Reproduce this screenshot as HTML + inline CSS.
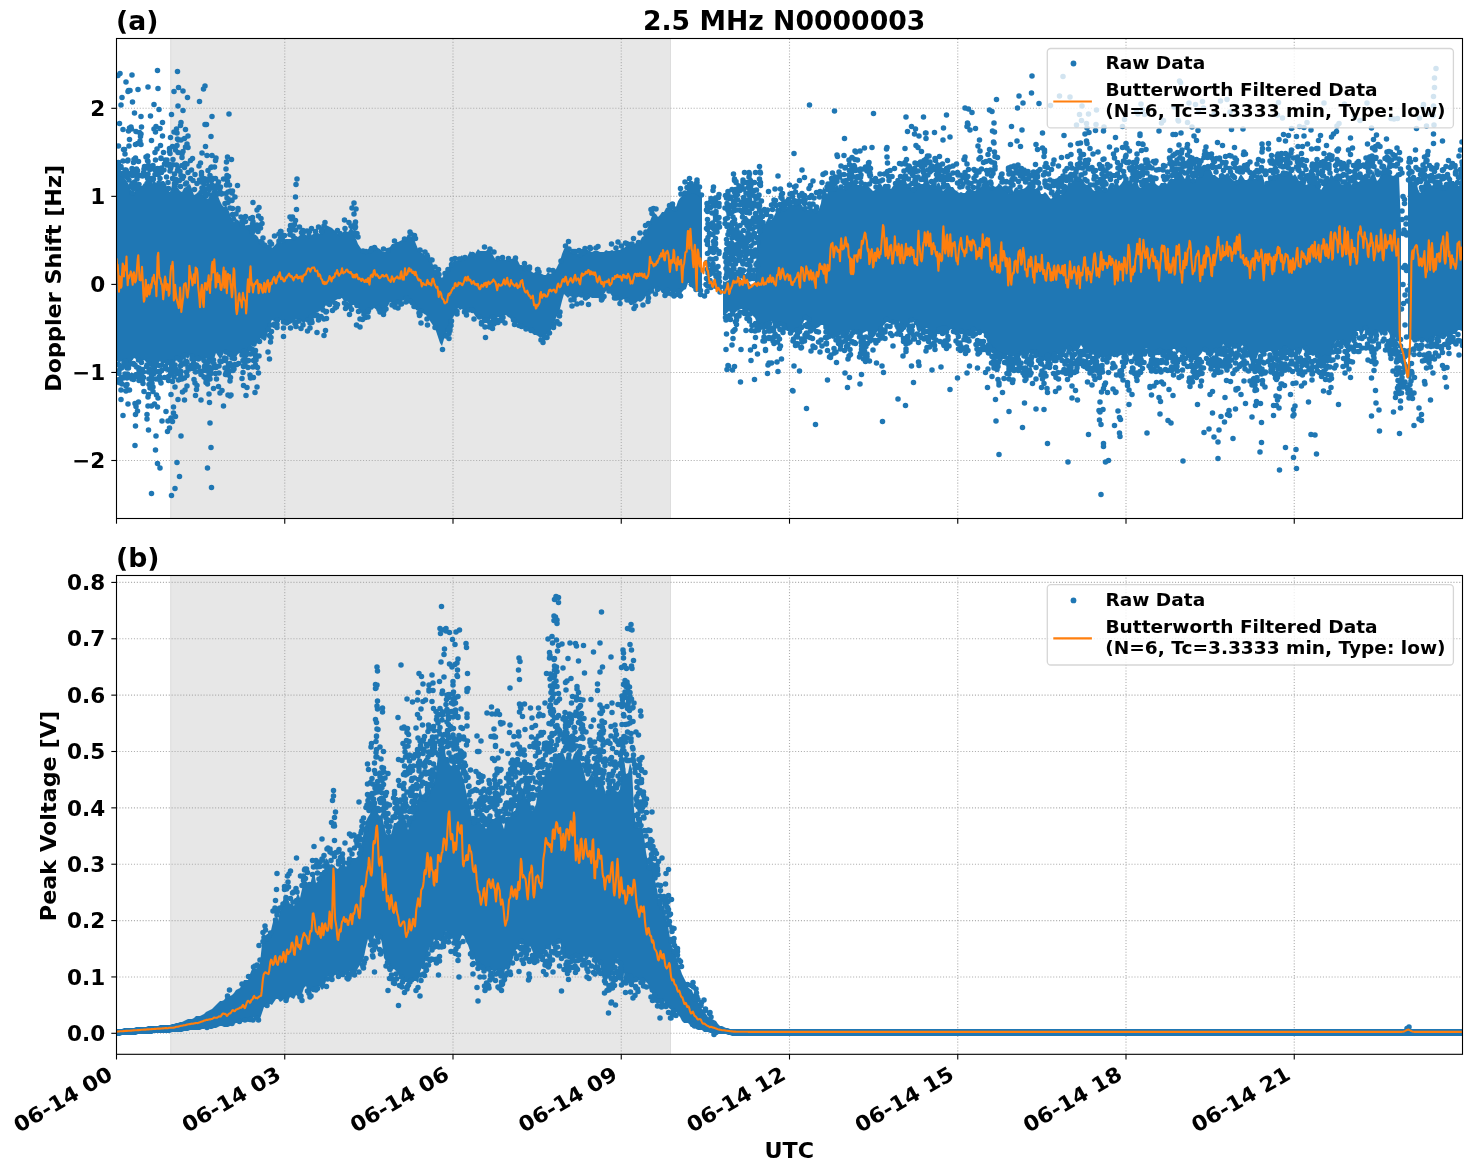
<!DOCTYPE html><html><head><meta charset="utf-8"><title>2.5 MHz N0000003</title><style>html,body{margin:0;padding:0;background:#fff}svg{display:block}</style></head><body><svg width="1471" height="1172" viewBox="0 0 1471 1172"><defs><clipPath id="ca"><rect x="116.5" y="38.5" width="1346.0" height="480.0"/></clipPath><clipPath id="cb"><rect x="116.5" y="575.5" width="1346.0" height="478.8"/></clipPath></defs><rect width="1471" height="1172" fill="#fff"/><rect x="170.3" y="38.5" width="500.7" height="480.0" fill="#e7e7e7"/><path d="M170.8 38.5V518.5M670.5 38.5V518.5" stroke="#dddddd" stroke-width="1" fill="none"/><g stroke="#b0b0b0" stroke-width="1.1" stroke-dasharray="1.1 1.8" fill="none"><path d="M284.75 518.5V38.5"/><path d="M453.00 518.5V38.5"/><path d="M621.25 518.5V38.5"/><path d="M789.50 518.5V38.5"/><path d="M957.75 518.5V38.5"/><path d="M1126.00 518.5V38.5"/><path d="M1294.25 518.5V38.5"/><path d="M116.5 460.50H1462.5"/><path d="M116.5 372.45H1462.5"/><path d="M116.5 284.40H1462.5"/><path d="M116.5 196.35H1462.5"/><path d="M116.5 108.30H1462.5"/></g><rect x="170.3" y="575.5" width="500.7" height="478.8" fill="#e7e7e7"/><path d="M170.8 575.5V1054.3M670.5 575.5V1054.3" stroke="#dddddd" stroke-width="1" fill="none"/><g stroke="#b0b0b0" stroke-width="1.1" stroke-dasharray="1.1 1.8" fill="none"><path d="M284.75 1054.3V575.5"/><path d="M453.00 1054.3V575.5"/><path d="M621.25 1054.3V575.5"/><path d="M789.50 1054.3V575.5"/><path d="M957.75 1054.3V575.5"/><path d="M1126.00 1054.3V575.5"/><path d="M1294.25 1054.3V575.5"/><path d="M116.5 1033.30H1462.5"/><path d="M116.5 976.94H1462.5"/><path d="M116.5 920.58H1462.5"/><path d="M116.5 864.22H1462.5"/><path d="M116.5 807.86H1462.5"/><path d="M116.5 751.50H1462.5"/><path d="M116.5 695.14H1462.5"/><path d="M116.5 638.78H1462.5"/><path d="M116.5 582.42H1462.5"/></g><g clip-path="url(#ca)"><path d="M116 175 118 173 120 172 122 174 124 177 126 180 128 183 130 188 132 192 134 194 136 187 138 187 140 186 142 186 144 183 146 185 148 183 150 184 152 184 154 179 156 183 158 183 160 182 162 181 164 181 166 184 168 190 170 192 172 185 174 184 176 187 178 188 180 191 182 192 184 188 186 187 188 185 190 184 192 189 194 195 196 194 198 192 200 193 202 194 204 195 206 198 208 199 210 195 212 191 214 188 216 190 218 196 220 201 222 205 224 207 226 205 228 209 230 214 232 220 234 222 236 219 238 220 240 222 242 227 244 227 246 225 248 226 250 228 252 230 254 234 256 235 258 237 260 242 262 243 264 245 266 246 268 246 270 246 272 248 274 246 276 244 278 239 280 240 282 243 284 240 286 239 288 239 290 239 292 239 294 237 296 236 298 237 300 235 302 233 304 233 306 235 308 237 310 236 312 235 314 233 316 232 318 233 320 234 322 232 324 229 326 225 328 226 330 227 332 228 334 230 336 231 338 234 340 235 342 233 344 231 346 231 348 232 350 229 352 228 354 233 356 239 358 244 360 247 362 250 364 252 366 252 368 252 370 250 372 248 374 247 376 246 378 248 380 249 382 251 384 252 386 252 388 248 390 247 392 244 394 244 396 242 398 242 400 241 402 240 404 240 406 238 408 234 410 236 412 237 414 239 416 244 418 249 420 251 422 253 424 254 426 257 428 256 430 258 432 262 434 268 436 273 438 274 440 276 442 278 444 275 446 272 448 268 450 265 452 263 454 261 456 261 458 261 460 257 462 255 464 259 466 259 468 255 470 251 472 254 474 256 476 252 478 249 480 251 482 251 484 251 486 251 488 249 490 248 492 253 494 257 496 260 498 260 500 260 502 260 504 259 506 260 508 260 510 259 512 259 514 257 516 257 518 261 520 265 522 265 524 266 526 268 528 270 530 270 532 272 534 273 536 271 538 272 540 274 542 274 544 275 546 275 548 272 550 274 552 273 554 271 556 269 558 265 560 261 562 254 564 249 566 247 568 247 570 251 572 252 574 251 576 250 578 254 580 256 582 253 584 250 586 250 588 250 590 251 592 252 594 251 596 251 598 251 600 252 602 252 604 252 606 250 608 251 610 251 612 250 614 251 616 250 618 250 620 250 622 248 624 248 626 246 628 244 630 244 632 246 634 244 636 243 638 244 640 241 642 237 644 236 646 232 648 227 650 221 652 216 654 213 656 214 658 217 660 215 662 212 664 212 666 208 668 207 670 207 672 209 674 211 676 207 678 201 680 198 682 196 684 194 686 192 688 189 690 193 692 193 694 190 696 190 698 191 700 194 702 194 702 293 700 291 698 290 696 287 694 289 692 288 690 283 688 283 686 289 684 290 682 292 680 296 678 292 676 292 674 295 672 293 670 291 668 292 666 291 664 293 662 293 660 290 658 288 656 288 654 289 652 291 650 291 648 293 646 296 644 299 642 301 640 302 638 301 636 303 634 304 632 305 630 305 628 302 626 300 624 299 622 300 620 302 618 300 616 298 614 297 612 296 610 293 608 290 606 291 604 294 602 296 600 299 598 298 596 298 594 298 592 298 590 297 588 296 586 297 584 297 582 297 580 296 578 297 576 298 574 300 572 297 570 296 568 298 566 296 564 294 562 301 560 309 558 314 556 318 554 323 552 328 550 332 548 334 546 335 544 336 542 337 540 338 538 336 536 335 534 335 532 333 530 329 528 329 526 328 524 327 522 325 520 325 518 323 516 323 514 323 512 321 510 318 508 317 506 315 504 316 502 319 500 318 498 317 496 319 494 319 492 317 490 319 488 319 486 321 484 322 482 319 480 318 478 318 476 317 474 314 472 311 470 310 468 311 466 312 464 312 462 309 460 310 458 308 456 313 454 316 452 319 450 325 448 330 446 334 444 339 442 346 440 343 438 337 436 331 434 327 432 324 430 321 428 318 426 315 424 314 422 312 420 311 418 311 416 310 414 307 412 303 410 300 408 300 406 299 404 300 402 301 400 302 398 304 396 306 394 307 392 303 390 302 388 306 386 308 384 310 382 310 380 310 378 309 376 309 374 308 372 310 370 309 368 312 366 315 364 316 362 314 360 311 358 308 356 306 354 305 352 305 350 305 348 302 346 301 344 301 342 298 340 298 338 299 336 300 334 302 332 305 330 305 328 304 326 304 324 309 322 309 320 311 318 312 316 313 314 314 312 318 310 318 308 318 306 321 304 324 302 322 300 320 298 320 296 319 294 322 292 323 290 324 288 325 286 325 284 323 282 321 280 320 278 320 276 322 274 321 272 320 270 324 268 331 266 340 264 341 262 337 260 339 258 343 256 344 254 343 252 345 250 350 248 355 246 353 244 351 242 354 240 353 238 354 236 357 234 359 232 355 230 355 228 357 226 354 224 352 222 357 220 359 218 356 216 353 214 359 212 362 210 362 208 362 206 358 204 361 202 361 200 358 198 356 196 361 194 360 192 356 190 355 188 359 186 357 184 355 182 361 180 361 178 358 176 360 174 366 172 365 170 361 168 362 166 363 164 363 162 365 160 361 158 364 156 373 154 372 152 369 150 366 148 363 146 362 144 360 142 362 140 363 138 361 136 359 134 358 132 361 130 370 128 368 126 362 124 362 122 361 120 362 118 362 116 360ZM723 281 725 282 727 281 729 280 731 278 733 278 735 277 737 277 739 279 741 279 743 283 745 283 747 281 749 282 751 285 753 286 755 282 757 245 759 226 761 223 763 223 765 224 767 220 769 216 771 220 773 218 775 214 777 210 779 207 781 206 783 206 785 210 787 207 789 205 791 205 793 205 795 203 797 204 799 204 801 204 803 207 805 208 807 210 809 209 811 207 813 209 815 212 817 212 819 209 821 203 823 187 825 189 827 194 829 190 831 191 833 191 835 187 837 184 839 188 841 187 843 189 845 189 847 186 849 183 851 179 853 179 855 183 857 185 859 185 861 183 863 186 865 184 867 182 869 187 871 189 873 191 875 190 877 186 879 183 881 184 883 187 885 186 887 187 889 187 891 189 893 186 895 184 897 182 899 180 901 180 903 177 905 177 907 184 909 187 911 188 913 190 915 189 917 186 919 184 921 184 923 184 925 179 927 175 929 182 931 188 933 189 935 188 937 184 939 182 941 187 943 191 945 189 947 183 949 183 951 187 953 187 955 190 957 191 959 193 961 192 963 193 965 193 967 190 969 188 971 189 973 190 975 191 977 189 979 188 981 187 983 181 985 177 987 178 989 184 991 189 993 186 995 187 997 186 999 183 1001 185 1003 187 1005 189 1007 190 1009 194 1011 193 1013 192 1015 188 1017 187 1019 190 1021 189 1023 189 1025 188 1027 186 1029 185 1031 186 1033 187 1035 189 1037 188 1039 188 1041 194 1043 194 1045 192 1047 194 1049 197 1051 199 1053 197 1055 192 1057 189 1059 193 1061 195 1063 192 1065 191 1067 186 1069 181 1071 183 1073 181 1075 176 1077 179 1079 180 1081 178 1083 180 1085 184 1087 185 1089 184 1091 187 1093 190 1095 191 1097 189 1099 188 1101 187 1103 190 1105 190 1107 190 1109 185 1111 186 1113 188 1115 183 1117 181 1119 186 1121 184 1123 181 1125 178 1127 179 1129 184 1131 184 1133 183 1135 179 1137 181 1139 187 1141 188 1143 185 1145 178 1147 178 1149 183 1151 182 1153 183 1155 183 1157 185 1159 186 1161 183 1163 183 1165 182 1167 184 1169 180 1171 178 1173 179 1175 179 1177 174 1179 170 1181 171 1183 176 1185 179 1187 173 1189 172 1191 179 1193 182 1195 180 1197 175 1199 177 1201 175 1203 170 1205 167 1207 165 1209 168 1211 170 1213 175 1215 175 1217 177 1219 178 1221 173 1223 173 1225 175 1227 173 1229 174 1231 178 1233 180 1235 181 1237 182 1239 177 1241 174 1243 177 1245 180 1247 180 1249 178 1251 178 1253 179 1255 179 1257 178 1259 177 1261 174 1263 176 1265 185 1267 184 1269 178 1271 177 1273 179 1275 175 1277 174 1279 174 1281 173 1283 175 1285 174 1287 172 1289 171 1291 171 1293 176 1295 174 1297 177 1299 181 1301 180 1303 180 1305 184 1307 185 1309 181 1311 182 1313 181 1315 184 1317 185 1319 186 1321 190 1323 187 1325 181 1327 181 1329 179 1331 174 1333 176 1335 180 1337 179 1339 180 1341 184 1343 185 1345 183 1347 182 1349 181 1351 184 1353 187 1355 185 1357 182 1359 182 1361 179 1363 176 1365 177 1367 177 1369 179 1371 176 1373 170 1375 175 1377 181 1379 179 1381 174 1383 172 1385 170 1387 169 1389 173 1391 175 1393 176 1395 175 1397 172 1399 175 1401 226 1401 349 1399 340 1397 342 1395 337 1393 338 1391 339 1389 333 1387 331 1385 332 1383 334 1381 336 1379 332 1377 331 1375 332 1373 338 1371 341 1369 337 1367 333 1365 328 1363 333 1361 338 1359 331 1357 331 1355 334 1353 338 1351 342 1349 347 1347 348 1345 348 1343 344 1341 342 1339 340 1337 340 1335 342 1333 351 1331 357 1329 356 1327 360 1325 360 1323 359 1321 361 1319 359 1317 355 1315 355 1313 356 1311 355 1309 355 1307 350 1305 348 1303 348 1301 353 1299 356 1297 351 1295 350 1293 352 1291 351 1289 352 1287 348 1285 348 1283 351 1281 352 1279 350 1277 356 1275 358 1273 355 1271 351 1269 351 1267 352 1265 352 1263 356 1261 354 1259 352 1257 357 1255 365 1253 362 1251 362 1249 357 1247 350 1245 345 1243 344 1241 347 1239 348 1237 346 1235 348 1233 344 1231 348 1229 349 1227 348 1225 346 1223 344 1221 352 1219 351 1217 349 1215 350 1213 355 1211 357 1209 357 1207 352 1205 350 1203 351 1201 354 1199 356 1197 361 1195 360 1193 357 1191 358 1189 358 1187 358 1185 354 1183 349 1181 353 1179 352 1177 354 1175 349 1173 349 1171 353 1169 350 1167 353 1165 351 1163 350 1161 351 1159 350 1157 350 1155 354 1153 355 1151 354 1149 352 1147 348 1145 349 1143 357 1141 360 1139 359 1137 359 1135 360 1133 354 1131 351 1129 351 1127 355 1125 358 1123 355 1121 355 1119 356 1117 358 1115 355 1113 355 1111 357 1109 358 1107 359 1105 357 1103 359 1101 357 1099 359 1097 356 1095 357 1093 354 1091 357 1089 355 1087 349 1085 349 1083 348 1081 345 1079 349 1077 353 1075 351 1073 353 1071 351 1069 349 1067 349 1065 353 1063 357 1061 358 1059 357 1057 354 1055 352 1053 356 1051 358 1049 357 1047 357 1045 357 1043 359 1041 357 1039 359 1037 356 1035 354 1033 352 1031 351 1029 354 1027 359 1025 355 1023 352 1021 356 1019 355 1017 356 1015 358 1013 356 1011 358 1009 357 1007 355 1005 356 1003 359 1001 361 999 353 997 351 995 352 993 353 991 347 989 347 987 341 985 335 983 333 981 333 979 333 977 332 975 330 973 330 971 332 969 334 967 334 965 335 963 335 961 332 959 333 957 335 955 332 953 329 951 329 949 331 947 331 945 328 943 328 941 327 939 329 937 334 935 336 933 334 931 333 929 331 927 328 925 329 923 331 921 331 919 333 917 330 915 321 913 320 911 322 909 324 907 327 905 328 903 327 901 325 899 321 897 321 895 323 893 323 891 323 889 323 887 321 885 324 883 326 881 331 879 330 877 332 875 336 873 333 871 333 869 333 867 331 865 332 863 333 861 339 859 336 857 332 855 334 853 332 851 330 849 334 847 337 845 338 843 334 841 333 839 337 837 337 835 338 833 339 831 338 829 338 827 335 825 329 823 325 821 325 819 327 817 328 815 328 813 329 811 331 809 324 807 319 805 319 803 323 801 327 799 328 797 329 795 332 793 333 791 331 789 331 787 331 785 329 783 325 781 322 779 323 777 324 775 324 773 324 771 321 769 323 767 325 765 326 763 327 761 325 759 325 757 323 755 318 753 316 751 314 749 311 747 310 745 311 743 309 741 309 739 310 737 311 735 313 733 314 731 313 729 311 727 313 725 315 723 315ZM1408 173 1410 175 1412 181 1414 184 1416 180 1418 189 1420 193 1422 191 1424 182 1426 177 1428 181 1430 183 1432 186 1434 183 1436 184 1438 187 1440 188 1442 188 1444 187 1446 187 1448 181 1450 180 1452 181 1454 181 1456 185 1458 186 1460 185 1462 178 1462 331 1460 330 1458 330 1456 334 1454 334 1452 334 1450 335 1448 335 1446 337 1444 338 1442 337 1440 337 1438 336 1436 336 1434 339 1432 338 1430 339 1428 344 1426 342 1424 340 1422 340 1420 340 1418 342 1416 339 1414 342 1412 340 1410 339 1408 336Z" fill="#1f77b4"/><path transform="scale(.5)" d="m234 334h0m1 395h0m1-578h0m0 191h0m1-50h0m0 33h0m0 9h0m0 12h0m0 383h0m1 12h0m0 6h0m0 12h0m0 6h0m1-518h0m0 484h0m1-584h0m1 617h0m1-554h0m0 123h0m0 2h0m0 12h0m0 433h0m0 19h0m1-63h0m0 19h0m0 12h0m1-572h0m0 573h0m2-509h0m0 63h0m0 509h0m1-532h0m0 457h0m1-32h0m0 7h0m1-432h0m0 52h0m1-43h0m0 32h0m0 8h0m0 400h0m1-26h0m1-558h0m0 176h0m0 413h0m0 19h0m0 10h0m1-440h0m1 394h0m0 20h0m0 13h0m1-447h0m0 33h0m0 393h0m1-565h0m0 137h0m0 410h0m0 78h0m1-627h0m0 81h0m0 474h0m1-444h0m0 68h0m1-104h0m0 23h0m0 501h0m1-599h0m0 166h0m2-93h0m0 117h0m1-113h0m0 116h0m1-224h0m0 187h0m0 414h0m0 4h0m0 3h0m1-554h0m0 147h0m0 16h0m0 19h0m0 342h0m1-387h0m1-16h0m0 52h0m0 350h0m0 31h0m0 1h0m1-440h0m0 30h0m1-123h0m0 138h0m1 366h0m0 77h0m0 84h0m1-602h0m0 27h0m0 53h0m0 460h0m0 23h0m1-589h0m0 550h0m1-475h0m0 396h0m0 15h0m1-391h0m0 18h0m1-89h0m0 54h0m0 412h0m0 69h0m1-643h0m0 170h0m0 24h0m1-50h0m0 29h0m0 368h0m0 84h0m1-435h0m0 367h0m0 5h0m0 20h0m1-496h0m1 17h0m1-9h0m1-40h0m0 35h0m0 21h0m0 464h0m1-499h0m0 97h0m0 374h0m0 18h0m0 4h0m2-395h0m0 387h0m0 21h0m1 7h0m1-422h0m0 5h0m0 394h0m0 11h0m1-417h0m0 445h0m1-450h0m3-19h0m1 22h0m0 397h0m1-366h0m0 363h0m0 99h0m0 9h0m1-526h0m0 9h0m0 35h0m1-182h0m0 149h0m0 11h0m0 14h0m0 10h0m0 436h0m0 18h0m1-480h0m0 412h0m0 45h0m0 71h0m1-133h0m0 10h0m0 21h0m0 11h0m2-437h0m0 7h0m0 27h0m0 410h0m1-544h0m0 129h0m1 380h0m0 15h0m1-475h0m0 76h0m0 395h0m0 8h0m0 52h0m0 175h0m1-237h0m0 17h0m1-430h0m1-6h0m0 443h0m0 9h0m1-425h0m1-149h0m0 49h0m0 489h0m1 61h0m1-503h0m0 35h0m0 9h0m1-85h0m0 56h0m0 580h0m1-647h0m0 505h0m0 114h0m1-527h0m0 445h0m1-492h0m1-157h0m0 196h0m0 12h0m0 465h0m0 113h0m1-750h0m0 566h0m0 53h0m1-448h0m1-129h0m0 147h0m0 365h0m1 22h0m1-496h0m0 100h0m0 387h0m0 17h0m0 175h0m1-645h0m0 51h0m1-26h0m0 1h0m0 449h0m1-430h0m0 9h0m0 396h0m1-11h0m0 112h0m1-597h0m0 27h0m2 33h0m1 35h0m1-12h0m0 427h0m2-435h0m0 413h0m1 90h0m1-499h0m0 30h0m0 384h0m1-418h0m0 10h0m1 395h0m0 138h0m1-498h0m0 477h0m1-465h0m0 376h0m0 8h0m1-21h0m1-443h0m0 6h0m0 553h0m1-549h0m0 22h0m0 13h0m1-67h0m0 62h0m0 410h0m1-413h0m0 404h0m0 51h0m0 47h0m1-607h0m0 502h0m0 260h0m1-267h0m1-431h0m0 64h0m0 388h0m0 18h0m0 80h0m1-524h0m0 10h0m1 485h0m0 12h0m1-643h0m0 81h0m0 490h0m1-406h0m0 19h0m1 6h0m0 357h0m0 44h0m0 203h0m1-677h0m0 438h0m0 95h0m1-474h0m0 7h0m1-108h0m0 72h0m1-64h0m0 25h0m0 425h0m0 209h0m1-782h0m0 135h0m0 63h0m0 406h0m1-535h0m0 93h0m0 32h0m0 462h0m1-624h0m0 105h0m0 462h0m0 18h0m2-399h0m0 398h0m0 194h0m1-610h0m0 377h0m1-469h0m0 122h0m0 359h0m0 18h0m1-505h0m0 35h0m0 71h0m0 392h0m0 129h0m1-143h0m1-421h0m0 7h0m0 16h0m0 427h0m1-401h0m0 427h0m1-602h0m0 39h0m0 82h0m1 50h0m0 361h0m1-3h0m0 17h0m1-451h0m0 51h0m0 7h0m0 421h0m0 44h0m1-473h0m0 383h0m0 15h0m0 55h0m1-521h0m0 35h0m0 74h0m2-2h0m0 357h0m0 21h0m1-456h0m0 40h0m0 397h0m0 26h0m0 21h0m1-577h0m1 77h0m0 23h0m0 50h0m0 390h0m3 3h0m2-417h0m0 36h0m2-17h0m0 391h0m1-19h0m0 6h0m0 15h0m1-416h0m1 44h0m1 365h0m1-8h0m0 20h0m0 21h0m1-380h0m1-30h0m0 417h0m1-22h0m0 47h0m2-61h0m0 49h0m1-412h0m0 404h0m1-55h0m2 2h0m0 16h0m1-402h0m1-129h0m0 157h0m1 383h0m1-417h0m1 59h0m0 364h0m0 51h0m1-455h0m0 5h0m0 14h0m1-58h0m0 70h0m3-198h0m0 563h0m1-384h0m0 11h0m0 353h0m0 33h0m1-369h0m0 348h0m1-561h0m0 77h0m0 482h0m1-438h0m0 65h0m0 20h0m0 379h0m1-365h0m0 349h0m0 24h0m1-516h0m0 480h0m1-418h0m0 444h0m0 8h0m1-401h0m0 406h0m0 168h0m1-595h0m0 19h0m1 28h0m0 335h0m0 10h0m1-361h0m0 367h0m0 10h0m0 9h0m0 30h0m1-415h0m0 6h0m0 376h0m0 50h0m1-454h0m0 407h0m0 88h0m1-103h0m1-470h0m0 62h0m0 40h0m0 361h0m0 11h0m0 148h0m1-561h0m0 27h0m0 614h0m1-742h0m0 78h0m0 59h0m1 366h0m1-12h0m1-367h0m0 363h0m0 57h0m1-49h0m1-394h0m1 46h0m1-59h0m0 36h0m0 390h0m1-431h0m0 56h0m0 363h0m1 23h0m3-389h0m1-5h0m0 23h0m0 386h0m1-41h0m0 14h0m2-370h0m0 8h0m0 338h0m0 64h0m1-412h0m2 14h0m0 0h0m0 335h0m1-336h0m0 394h0m3-423h0m0 454h0m2-96h0m1-309h0m0 329h0m1-15h0m0 28h0m1-411h0m0 49h0m0 317h0m0 13h0m0 29h0m1-422h0m0 46h0m1-19h0m0 45h0m1-82h0m0 48h0m0 377h0m1-355h0m0 21h0m0 385h0m1-437h0m0 375h0m0 3h0m0 19h0m1-522h0m0 515h0m1-373h0m1 30h0m0 16h0m0 311h0m0 5h0m0 30h0m0 30h0m1-410h0m0 327h0m0 46h0m1 35h0m1-471h0m1 67h0m0 15h0m0 315h0m1-334h0m0 35h0m0 12h0m1 312h0m1-303h0m1 279h0m0 21h0m1-21h0m1-323h0m0 335h0m2-301h0m2 301h0m1-358h0m1 46h0m0 3h0m1 307h0m5-293h0m2 9h0m0 267h0m0 47h0m1-306h0m1 270h0m0 24h0m1-302h0m0 288h0m0 2h0m0 38h0m1-69h0m2 13h0m0 16h0m1-298h0m0 10h0m1 348h0m1-82h0m1 66h0m1-53h0m1 13h0m1-14h0m1-266h0m2 295h0m1-313h0m0 260h0m0 11h0m0 48h0m2-301h0m2-20h0m0 13h0m0 16h0m0 235h0m1-294h0m0 38h0m0 291h0m1-13h0m0 34h0m1-67h0m1-235h0m1-3h0m0 256h0m0 16h0m0 63h0m1-84h0m0 12h0m0 17h0m1-271h0m0 261h0m2-300h0m0 30h0m0 324h0m1-39h0m1-272h0m1-31h0m0 26h0m0 288h0m1-331h0m0 297h0m1-29h0m2-227h0m1-19h0m0 46h0m2-36h0m0 38h0m2-9h0m1 198h0m2-184h0m7 214h0m1-45h0m1-165h0m1 177h0m0 47h0m1-234h0m1 166h0m0 34h0m1-9h0m1-187h0m0 175h0m6-191h0m0 176h0m0 3h0m5-2h0m0 6h0m1-15h0m3-172h0m0 14h0m3-19h0m0 11h0m1-11h0m1 8h0m3 10h0m1 163h0m0 12h0m0 17h0m2-202h0m4 175h0m6-186h0m1-26h0m0 35h0m1-18h0m0 205h0m1-195h0m1-23h0m0 22h0m2-26h0m1 16h0m0 22h0m1-14h0m1 18h0m1-27h0m1 198h0m1-253h0m0 47h0m0 19h0m1-91h0m0 284h0m1-234h0m0 225h0m1-286h0m4 284h0m1-188h0m3 203h0m1-192h0m3-4h0m0 189h0m2-187h0m6-1h0m1 200h0m1-22h0m2-168h0m1-9h0m1 183h0m0 10h0m3-199h0m0 176h0m0 8h0m1 4h0m4-15h0m2 1h0m1-168h0m3 167h0m0 1h0m0 34h0m3-211h0m0 186h0m5-7h0m1-170h0m1-4h0m2 161h0m2-168h0m0 186h0m0 33h0m2-226h0m1 216h0m1-37h0m1-18h0m0 17h0m0 14h0m6-28h0m6 12h0m5-5h0m1-9h0m2 7h0m2-153h0m0 148h0m3-16h0m2-126h0m9-27h0m0 166h0m1-149h0m1 160h0m1-9h0m3 2h0m3-165h0m1 184h0m1-15h0m2-162h0m1 1h0m0 166h0m1-203h0m4-10h0m0 22h0m0 38h0m2-18h0m0 8h0m1-12h0m0 10h0m1-36h0m1 53h0m0 179h0m1-183h0m0 144h0m2-137h0m1 149h0m3 15h0m0 16h0m5-15h0m1-137h0m2 127h0m3 6h0m1-132h0m4 121h0m0 10h0m1-13h0m4-120h0m2-4h0m6-2h0m7 120h0m2 4h0m2 5h0m7-126h0m0 131h0m2-8h0m3-3h0m4-117h0m8 109h0m5-128h0m1 132h0m6-10h0m0 12h0m6-9h0m1 1h0m6-130h0m3 126h0m1-8h0m7-132h0m0 138h0m2-134h0m3 138h0m3-129h0m0 136h0m1-142h0m0 142h0m2-136h0m7 149h0m1 5h0m1-131h0m0 129h0m2-7h0m0 24h0m8-142h0m4 6h0m0 128h0m1-125h0m0 137h0m7-130h0m2 0h0m6 14h0m0 121h0m2-110h0m5-6h0m1 10h0m7 150h0m5-152h0m2 125h0m4-133h0m1 121h0m1 7h0m0 10h0m2-22h0m0 6h0m2-10h0m1-122h0m0 113h0m1-123h0m6-2h0m4 106h0m0 5h0m5-110h0m10 106h0m1-109h0m3 115h0m4-10h0m8-111h0m0 112h0m3 17h0m11-4h0m4 11h0m0 3h0m6-154h0m0 147h0m1 13h0m1 21h0m4-34h0m4 13h0m1-156h0m0 149h0m5-13h0m0 9h0m0 14h0m3-153h0m0 144h0m4-6h0m2-1h0m2-124h0m0 128h0m6-6h0m2-3h0m0 5h0m1-126h0m1 120h0m4 11h0m7-129h0m10 123h0m2 9h0m2-133h0m7 135h0m5 2h0m6-126h0m1 10h0m2 121h0m5-123h0m2-1h0m0 3h0m3 124h0m1-1h0m12-121h0m1 0h0m2 5h0m4 136h0m4 5h0m3-12h0m1 2h0m4 0h0m4-135h0m1 126h0m7-125h0m1 114h0m1-6h0m6-6h0m5-11h0m0 16h0m1-24h0m2-102h0m9-30h0m6-9h0m1 15h0m4 102h0m2 12h0m2-109h0m2 95h0m0 1h0m2-96h0m4 105h0m4-107h0m2 9h0m3 80h0m0 16h0m3-103h0m1 2h0m3-8h0m1 99h0m4-3h0m2 16h0m3-114h0m1 2h0m11-1h0m4-3h0m7 107h0m1-6h0m1 3h0m3-4h0m10-11h0m5-94h0m6 108h0m3-100h0m1 100h0m3-112h0m4 123h0m3-115h0m8-6h0m2 1h0m1 113h0m4-111h0m6-1h0m3-11h0m1 140h0m3-5h0m6-127h0m3-19h0m6 144h0m5-159h0m0 16h0m1-3h0m4 124h0m0 15h0m1-156h0m0 149h0m5-177h0m1 163h0m1-155h0m3-10h0m4 171h0m1-170h0m3 161h0m15 12h0m1-7h0m3 3h0m1-6h0m4-170h0m3 0h0m1 177h0m2-180h0m0 6h0m3 178h0m2-174h0m0 172h0m7-7h0m2 7h0m2-213h0m0 215h0m1-204h0m8-24h0m0 22h0m4-11h0m5-18h0m0 12h0m1 14h0m1-11h0m0 4h0m1-9h0m1 202h0m3-196h0m2 8h0m2-5h0m2 203h0m1-213h0m1-6h0m0 5h0m2 17h0m0 3h0m2 193h0m1-204h0m2 207h0m0 8h0m2-199h0m6 202h0m3-23h0m1-149h0m0 37h0m0 24h0m0 44h0m0 32h0m1-150h0m0 132h0m0 44h0m1-170h0m0 10h0m0 16h0m0 20h0m0 24h0m0 6h0m0 18h0m0 65h0m1-124h0m0 27h0m0 71h0m0 13h0m1-30h0m2-62h0m0 82h0m1-46h0m0 15h0m0 43h0m1-157h0m0 11h0m0 39h0m0 43h0m0 43h0m0 7h0m1-150h0m0 178h0m1-175h0m1 26h0m0 43h0m1-23h0m0 58h0m0 30h0m0 34h0m1-187h0m0 27h0m0 60h0m0 51h0m0 9h0m0 18h0m1-172h0m0 35h0m0 48h0m0 26h0m0 17h0m0 5h0m0 66h0m1-82h0m2-77h0m0 46h0m0 79h0m1-141h0m0 37h0m0 6h0m0 13h0m0 25h0m0 9h0m0 2h0m0 77h0m1-160h0m0 18h0m0 3h0m0 72h0m0 19h0m0 23h0m0 13h0m0 15h0m0 5h0m1-10h0m1-106h0m0 7h0m2 69h0m0 17h0m1-157h0m0 2h0m0 176h0m1-182h0m0 18h0m0 6h0m0 22h0m0 11h0m0 57h0m0 4h0m0 40h0m0 7h0m1-100h0m0 109h0m1 21h0m1-10h0m9-158h0m0 31h0m0 67h0m1-123h0m0 47h0m0 71h0m0 47h0m0 79h0m1-128h0m0 17h0m0 13h0m0 96h0m0 7h0m0 59h0m1-303h0m0 83h0m0 0h0m0 20h0m0 51h0m0 118h0m1-261h0m0 46h0m0 34h0m0 41h0m0 4h0m0 9h0m0 3h0m0 195h0m1-303h0m0 84h0m0 18h0m1-155h0m0 2h0m0 36h0m0 48h0m0 262h0m1-281h0m0 282h0m1-305h0m0 36h0m0 25h0m0 6h0m0 33h0m0 21h0m1-151h0m0 18h0m0 102h0m0 114h0m1-138h0m1-99h0m0 17h0m0 90h0m0 45h0m0 93h0m1-178h0m0 48h0m0 46h0m1-103h0m0 5h0m0 29h0m1-107h0m0 45h0m0 52h0m0 44h0m0 20h0m0 150h0m1-279h0m0 34h0m0 69h0m0 33h0m0 81h0m0 112h0m1-306h0m0 33h0m0 31h0m0 33h0m0 132h0m0 14h0m1-329h0m0 55h0m0 10h0m0 60h0m1 65h0m0 14h0m0 109h0m1-303h0m0 3h0m0 23h0m0 37h0m0 18h0m0 21h0m0 30h0m0 9h0m0 1h0m0 8h0m0 11h0m0 214h0m1-341h0m0 9h0m0 46h0m0 212h0m1-280h0m0 30h0m0 119h0m0 21h0m0 95h0m1-281h0m0 2h0m0 24h0m1 31h0m0 45h0m0 4h0m0 164h0m0 7h0m0 9h0m1-187h0m0 15h0m1-88h0m0 10h0m0 54h0m0 178h0m1-144h0m0 34h0m0 24h0m1-66h0m0 17h0m0 14h0m1-138h0m0 10h0m0 123h0m0 39h0m0 88h0m1-255h0m0 33h0m0 56h0m0 46h0m0 3h0m0 2h0m1-136h0m0 70h0m0 88h0m0 86h0m1-204h0m0 49h0m0 82h0m0 212h0m1-282h0m0 23h0m0 6h0m0 188h0m1-295h0m1-30h0m0 99h0m0 16h0m0 57h0m1-121h0m0 9h0m0 89h0m0 2h0m1-165h0m0 4h0m0 129h0m0 10h0m0 25h0m0 12h0m1-162h0m0 17h0m0 50h0m0 16h0m0 24h0m0 56h0m1-136h0m0 6h0m0 142h0m0 70h0m1-278h0m0 20h0m0 49h0m0 213h0m1-210h0m0 20h0m0 119h0m1-80h0m0 16h0m0 22h0m0 4h0m1-132h0m0 14h0m0 221h0m0 40h0m1-236h0m0 16h0m0 44h0m0 11h0m0 4h0m0 3h0m0 6h0m1-144h0m0 86h0m0 78h0m0 108h0m2-262h0m0 36h0m0 10h0m0 45h0m0 5h0m0 33h0m0 132h0m1-181h0m0 26h0m0 69h0m0 80h0m1-285h0m0 9h0m0 36h0m0 68h0m0 83h0m1-193h0m0 51h0m0 8h0m0 19h0m0 95h0m0 29h0m0 8h0m0 81h0m0 3h0m1-259h0m0 149h0m0 96h0m1-267h0m0 14h0m0 73h0m0 55h0m0 197h0m1-330h0m0 122h0m0 29h0m0 1h0m0 18h0m0 17h0m0 164h0m1-334h0m0 55h0m0 4h0m0 24h0m0 8h0m0 30h0m0 153h0m1-251h0m0 7h0m0 86h0m0 148h0m0 0h0m1-261h0m0 68h0m0 56h0m2-78h0m0 114h0m1-144h0m0 80h0m0 71h0m1-192h0m0 16h0m0 11h0m0 75h0m0 73h0m0 153h0m0 66h0m1-316h0m0 11h0m0 208h0m1-317h0m0 82h0m0 73h0m0 3h0m0 9h0m0 135h0m0 28h0m1-278h0m0 132h0m1-149h0m0 32h0m0 63h0m1 51h0m0 129h0m1-124h0m0 121h0m0 56h0m1-312h0m0 12h0m0 26h0m0 51h0m1-45h0m0 220h0m1-270h0m0 58h0m1-115h0m0 25h0m0 10h0m0 43h0m0 1h0m0 8h0m0 17h0m0 19h0m0 7h0m1-119h0m1 2h0m0 19h0m0 6h0m0 67h0m1-13h0m1-23h0m0 252h0m1-3h0m1-218h0m1 12h0m0 237h0m1-28h0m1 20h0m1-255h0m0 245h0m0 18h0m2 17h0m0 2h0m2-275h0m0 3h0m2-9h0m0 228h0m0 99h0m1-98h0m0 5h0m0 76h0m1-347h0m0 279h0m1-12h0m0 25h0m0 2h0m0 49h0m1-79h0m1 15h0m2-229h0m0 224h0m0 3h0m1-250h0m0 266h0m0 50h0m2-307h0m1 263h0m1-274h0m0 248h0m0 5h0m1-261h0m0 274h0m0 13h0m2-309h0m0 290h0m1-267h0m0 248h0m2-238h0m1 239h0m0 74h0m1-72h0m0 32h0m1-332h0m0 69h0m0 252h0m0 70h0m3-65h0m0 19h0m1-288h0m0 239h0m0 11h0m1-281h0m0 314h0m1-297h0m1-6h0m0 329h0m1-321h0m1-10h0m1 278h0m1-259h0m1 12h0m0 233h0m1 5h0m1-244h0m1-8h0m5-2h0m1-3h0m0 4h0m1 4h0m1-37h0m1 18h0m1 278h0m1-261h0m2-18h0m1 6h0m0 388h0m1-99h0m0 100h0m1-104h0m1-371h0m0 94h0m0 331h0m1-358h0m2 10h0m0 307h0m1-319h0m0 35h0m0 266h0m2-13h0m0 27h0m1-20h0m0 7h0m0 16h0m1-288h0m3-41h0m0 30h0m0 1h0m0 271h0m0 79h0m1-339h0m2 293h0m1-41h0m0 23h0m0 17h0m1-355h0m0 47h0m0 297h0m1-292h0m3 5h0m1-42h0m0 36h0m0 16h0m0 270h0m0 5h0m1-282h0m0 17h0m0 234h0m0 19h0m1-35h0m0 36h0m1 3h0m1-8h0m0 151h0m1-164h0m0 16h0m1-21h0m3-271h0m0 262h0m0 15h0m1-444h0m0 185h0m0 13h0m1 6h0m0 261h0m1-304h0m0 291h0m1 40h0m1-311h0m2 286h0m1-315h0m0 46h0m0 284h0m1-34h0m1-262h0m2 299h0m1-274h0m0 428h0m2-464h0m0 29h0m0 2h0m0 247h0m4 1h0m0 20h0m2-290h0m1-11h0m0 321h0m2-24h0m1-296h0m1-19h0m0 327h0m2-343h0m1-1h0m4-2h0m0 329h0m1-20h0m0 9h0m0 23h0m1-1h0m0 2h0m1-314h0m0 301h0m1-296h0m0 322h0m0 59h0m1-392h0m2 305h0m1-303h0m0 344h0m2 1h0m1-338h0m0 333h0m1-353h0m1 4h0m1-15h0m2 23h0m1 328h0m1-475h0m0 156h0m0 328h0m2-352h0m0 11h0m1 315h0m0 24h0m1 21h0m1-415h0m0 53h0m1-50h0m2 365h0m0 9h0m1-343h0m0 333h0m1-323h0m0 330h0m1-335h0m1 342h0m0 7h0m1-366h0m0 42h0m3 292h0m0 18h0m1-322h0m0 310h0m2-361h0m0 38h0m1-72h0m0 88h0m0 336h0m1-365h0m0 410h0m1-411h0m0 347h0m1-321h0m0 14h0m1 318h0m1-19h0m1-301h0m0 402h0m1-86h0m0 29h0m2-398h0m0 30h0m0 19h0m0 308h0m0 35h0m1-383h0m0 12h0m0 16h0m0 398h0m1-56h0m1 10h0m1-38h0m1-339h0m0 16h0m1-33h0m0 368h0m1-345h0m0 328h0m2-2h0m0 22h0m1-355h0m0 23h0m1-21h0m0 352h0m1-383h0m0 17h0m1 22h0m0 24h0m0 322h0m1-383h0m2 52h0m1-36h0m0 20h0m0 13h0m0 0h0m0 311h0m4 10h0m0 40h0m1-412h0m0 40h0m0 426h0m1-430h0m0 17h0m0 352h0m1-357h0m0 15h0m0 319h0m1-10h0m0 18h0m0 7h0m0 50h0m3-68h0m1 27h0m0 10h0m1-380h0m0 364h0m1-406h0m0 405h0m1-332h0m0 350h0m1-385h0m0 389h0m1-387h0m0 338h0m0 13h0m0 6h0m0 24h0m2-375h0m0 366h0m0 5h0m1-26h0m2-361h0m0 6h0m1-7h0m1 23h0m0 1h0m0 19h0m0 309h0m0 45h0m1-376h0m0 6h0m0 330h0m1-345h0m0 14h0m0 316h0m1 10h0m2-382h0m0 66h0m1 308h0m1 31h0m1-473h0m3 136h0m0 318h0m1-324h0m1 17h0m0 312h0m1 40h0m2-363h0m1 318h0m1-11h0m3-322h0m1 14h0m0 300h0m1-5h0m1 19h0m1-5h0m0 61h0m1-372h0m0 483h0m1-178h0m1 80h0m2-397h0m1 312h0m0 4h0m0 13h0m1-304h0m1-26h0m1-49h0m0 341h0m1-344h0m0 19h0m0 338h0m1-326h0m0 17h0m1 30h0m1-20h0m1 8h0m2-20h0m0 312h0m1 14h0m3-314h0m0 318h0m2-27h0m0 48h0m3-355h0m2 30h0m3 279h0m0 5h0m0 17h0m2-307h0m0 294h0m0 143h0m1-132h0m1-4h0m1-335h0m2 26h0m0 316h0m1-18h0m1-323h0m0 331h0m3-305h0m0 358h0m1-57h0m0 22h0m0 6h0m1-341h0m1 15h0m1-60h0m0 28h0m1 3h0m0 24h0m0 459h0m1-577h0m0 454h0m0 10h0m0 5h0m1-384h0m1 362h0m1-418h0m0 76h0m0 334h0m1 1h0m1-316h0m0 328h0m1-354h0m0 40h0m0 280h0m0 8h0m1-326h0m1 10h0m0 321h0m0 19h0m2-28h0m1-403h0m0 387h0m0 92h0m1-365h0m0 294h0m1-320h0m0 8h0m0 303h0m1-301h0m1 28h0m0 291h0m0 8h0m0 87h0m2-497h0m0 69h0m0 341h0m1-352h0m0 34h0m1-102h0m0 104h0m1-71h0m0 52h0m0 29h0m1 273h0m1 23h0m2-373h0m0 32h0m0 2h0m0 13h0m0 12h0m0 16h0m1 315h0m0 39h0m1-452h0m0 459h0m2-60h0m1-347h0m1 35h0m0 316h0m1-372h0m0 30h0m3 7h0m1-106h0m0 111h0m0 320h0m1-344h0m0 33h0m0 5h0m0 303h0m0 16h0m2-353h0m0 5h0m1-64h0m0 89h0m1-89h0m0 11h0m0 41h0m0 357h0m0 27h0m2-39h0m0 32h0m1-383h0m1 28h0m0 10h0m0 325h0m1 8h0m1-371h0m0 13h0m0 351h0m1 18h0m1-370h0m0 14h0m0 6h0m0 322h0m2-332h0m1 7h0m0 22h0m1-31h0m0 42h0m0 315h0m0 51h0m3-69h0m1-303h0m0 6h0m0 302h0m0 10h0m1-421h0m0 405h0m0 21h0m1-374h0m0 382h0m1-378h0m0 18h0m1 21h0m0 320h0m1-331h0m1-17h0m1 14h0m0 9h0m1-25h0m1 333h0m1-314h0m0 310h0m1-346h0m0 18h0m1 352h0m1-344h0m0 20h0m1-19h0m0 322h0m0 72h0m2-374h0m1-32h0m0 339h0m1-387h0m0 73h0m0 1h0m0 20h0m0 282h0m0 10h0m1-410h0m0 110h0m0 322h0m1-345h0m0 348h0m2-9h0m1-342h0m0 317h0m1-286h0m1-141h0m0 107h0m0 18h0m0 309h0m0 23h0m0 2h0m0 8h0m2-376h0m0 15h0m0 1h0m0 4h0m0 18h0m1-9h0m0 323h0m0 6h0m2 13h0m1-358h0m0 16h0m1-76h0m0 505h0m2-420h0m3 0h0m1-27h0m0 14h0m1 317h0m5 19h0m1-354h0m1 338h0m1-321h0m0 21h0m0 390h0m1-406h0m0 337h0m1-14h0m0 25h0m3-348h0m0 24h0m0 312h0m1-324h0m0 339h0m1-8h0m1-30h0m0 32h0m1-322h0m2-18h0m0 13h0m2-49h0m0 360h0m1-360h0m0 34h0m1-137h0m0 98h0m0 31h0m0 328h0m1 27h0m0 7h0m1-356h0m1 10h0m0 319h0m0 14h0m1-441h0m0 75h0m0 418h0m1-500h0m0 419h0m1-416h0m0 104h0m0 12h0m0 10h0m0 303h0m0 23h0m1-483h0m0 121h0m1 343h0m1-15h0m0 65h0m1-472h0m2 107h0m0 0h0m0 298h0m1 1h0m1-441h0m2 447h0m1-297h0m0 284h0m1-320h0m0 17h0m2-15h0m0 21h0m1-105h0m0 411h0m1-317h0m0 338h0m2 9h0m1-17h0m0 55h0m1-444h0m0 50h0m0 33h0m0 313h0m0 12h0m0 8h0m2-390h0m0 26h0m0 25h0m1-89h0m0 84h0m0 301h0m0 40h0m1-403h0m1 13h0m0 368h0m0 16h0m2-361h0m0 23h0m2 329h0m1 9h0m1-374h0m0 358h0m1-325h0m1 336h0m2 51h0m1-422h0m1 18h0m0 330h0m0 29h0m2-352h0m0 427h0m1-466h0m0 429h0m1-48h0m0 13h0m0 3h0m2-486h0m0 79h0m0 22h0m1 374h0m1-355h0m0 24h0m1 3h0m1-43h0m0 28h0m0 374h0m1-503h0m0 153h0m0 337h0m0 40h0m1-491h0m0 463h0m1-378h0m1-63h0m0 417h0m0 11h0m1-466h0m0 40h0m0 432h0m0 13h0m0 5h0m1-472h0m0 40h0m0 22h0m1-13h0m0 20h0m0 5h0m0 373h0m1 22h0m0 66h0m1 43h0m1-643h0m0 525h0m1-18h0m0 33h0m1-424h0m1 398h0m0 20h0m0 26h0m1-34h0m1 41h0m0 4h0m0 139h0m1-190h0m1-10h0m1-354h0m2-6h0m1-1h0m0 10h0m0 6h0m1 0h0m0 421h0m3-28h0m1-44h0m0 12h0m1 0h0m1-349h0m1-12h0m1-1h0m0 363h0m1 21h0m1-368h0m1 338h0m1-381h0m0 4h0m1 8h0m0 385h0m0 5h0m0 3h0m0 7h0m0 10h0m0 65h0m2-479h0m0 33h0m1-88h0m0 95h0m0 333h0m1-383h0m0 33h0m1-114h0m0 110h0m0 362h0m1-366h0m1 359h0m0 15h0m0 32h0m1-418h0m0 3h0m0 20h0m0 390h0m2-428h0m0 409h0m1-22h0m0 20h0m1-381h0m2-22h0m0 2h0m1 378h0m0 10h0m1-444h0m0 60h0m1-126h0m0 130h0m0 367h0m1-383h0m1 33h0m0 357h0m0 17h0m0 4h0m1-549h0m1 539h0m1-357h0m1-81h0m0 49h0m0 10h0m1 374h0m1-389h0m1-77h0m1 446h0m0 30h0m0 119h0m1-649h0m0 151h0m0 389h0m2-406h0m0 9h0m0 363h0m1 39h0m0 55h0m0 0h0m1-45h0m1-402h0m0 5h0m0 372h0m1 6h0m0 16h0m1-34h0m1 27h0m1-32h0m1-376h0m0 6h0m1 9h0m2-5h0m0 375h0m0 12h0m1-371h0m0 381h0m2-380h0m0 343h0m0 8h0m0 9h0m0 16h0m1-560h0m0 530h0m0 10h0m1-574h0m0 552h0m1 63h0m1-418h0m0 15h0m0 9h0m1-29h0m0 8h0m0 14h0m3-20h0m1-17h0m0 30h0m0 345h0m1-415h0m0 422h0m0 24h0m0 23h0m0 60h0m1-465h0m2-54h0m0 53h0m0 2h0m0 10h0m1-21h0m1 23h0m0 0h0m0 355h0m1-514h0m2 132h0m0 37h0m1 347h0m0 4h0m1 23h0m1-31h0m0 9h0m0 47h0m1-33h0m1-476h0m0 30h0m0 455h0m0 7h0m2-408h0m1-37h0m0 454h0m0 52h0m1-519h0m0 4h0m0 442h0m1-413h0m0 12h0m0 17h0m0 5h0m0 367h0m2-407h0m0 46h0m0 379h0m1-35h0m1-346h0m0 406h0m1-442h0m0 376h0m0 74h0m0 102h0m1-161h0m1-378h0m0 27h0m1 344h0m0 7h0m1-354h0m0 4h0m0 359h0m1-375h0m0 368h0m1-517h0m2 128h0m0 47h0m1-2h0m2-56h0m0 388h0m1-353h0m0 5h0m0 3h0m0 376h0m1-427h0m0 51h0m1 20h0m0 318h0m0 12h0m1 28h0m1-14h0m0 48h0m1-62h0m0 34h0m1-40h0m1-353h0m2 353h0m0 30h0m1-413h0m0 42h0m0 9h0m0 375h0m1-398h0m0 9h0m0 407h0m1-584h0m2 165h0m0 4h0m1 350h0m1-396h0m0 51h0m1 355h0m1-361h0m0 13h0m0 11h0m0 360h0m1-591h0m0 199h0m2-81h0m0 108h0m0 360h0m1-366h0m1-31h0m0 386h0m2-374h0m0 357h0m0 36h0m1-390h0m0 4h0m1-24h0m0 384h0m1-408h0m0 446h0m1-405h0m0 6h0m0 380h0m0 184h0m2-220h0m0 28h0m1-35h0m0 46h0m1-549h0m1 96h0m0 38h0m0 395h0m0 27h0m1-441h0m0 40h0m0 11h0m0 375h0m1-383h0m1-16h0m0 374h0m0 62h0m0 24h0m1-80h0m3 11h0m0 17h0m1-35h0m0 36h0m1-397h0m0 4h0m1 429h0m1-437h0m1-94h0m0 88h0m0 405h0m1-21h0m0 14h0m1-407h0m0 471h0m1-513h0m1 71h0m0 361h0m0 9h0m1-23h0m1-476h0m0 73h0m1 15h0m0 9h0m0 9h0m0 378h0m1-427h0m0 417h0m1-395h0m0 42h0m1-109h0m0 109h0m0 376h0m1-514h0m1 124h0m1 369h0m0 17h0m1-413h0m0 423h0m1-23h0m1-8h0m0 32h0m1-465h0m0 60h0m0 18h0m0 13h0m1-38h0m0 10h0m1 392h0m1-476h0m0 35h0m1-26h0m0 31h0m0 75h0m1-35h0m0 375h0m0 35h0m0 27h0m1-427h0m0 376h0m1-485h0m0 92h0m0 407h0m0 142h0m1-604h0m1 73h0m0 398h0m1-439h0m0 449h0m1-376h0m0 355h0m2 12h0m1-402h0m0 435h0m1-53h0m0 24h0m1-433h0m0 411h0m1-376h0m0 380h0m1-365h0m0 12h0m0 382h0m1-400h0m1 381h0m0 26h0m1-498h0m0 80h0m1-92h0m0 105h0m0 362h0m0 24h0m1-520h0m0 503h0m1-346h0m0 353h0m1-365h0m0 11h0m0 366h0m1-438h0m2 435h0m0 82h0m1-492h0m0 419h0m0 7h0m0 85h0m1-107h0m0 71h0m0 20h0m1-487h0m0 22h0m0 1h0m1 489h0m0 140h0m1-205h0m1-451h0m0 15h0m0 20h0m0 363h0m0 7h0m1-400h0m0 406h0m1-425h0m0 54h0m0 346h0m0 100h0m1-557h0m0 94h0m0 421h0m0 110h0m0 6h0m1-639h0m0 64h0m1 452h0m1-405h0m0 2h0m0 13h0m1 386h0m0 158h0m1-582h0m0 26h0m2-16h0m0 368h0m0 4h0m1-395h0m0 388h0m0 68h0m1-450h0m1 410h0m0 176h0m1-206h0m1-421h0m1 38h0m0 16h0m1 11h0m3 12h0m1-20h0m0 385h0m1-9h0m0 51h0m1-470h0m1 423h0m1-415h0m0 393h0m0 142h0m1-500h0m0 383h0m1-459h0m0 510h0m1-1h0m1-484h0m0 63h0m0 387h0m2-425h0m0 23h0m1-12h0m0 486h0m3-467h0m0 480h0m0 31h0m1-527h0m0 403h0m0 131h0m1-542h0m0 508h0m1-87h0m1-11h0m1 9h0m1-497h0m0 42h0m0 429h0m1 36h0m1-438h0m0 21h0m0 390h0m1-381h0m0 362h0m1-475h0m2 75h0m0 411h0m1-438h0m0 24h0m0 47h0m0 356h0m1-389h0m0 394h0m1-423h0m1 469h0m0 6h0m2-446h0m1-1h0m0 456h0m0 29h0m1-507h0m0 34h0m0 30h0m1 340h0m1-366h0m2 383h0m0 21h0m1-388h0m0 4h0m0 429h0m1-455h0m0 22h0m0 380h0m1-389h0m0 390h0m1-412h0m2 13h0m0 409h0m1-30h0m1-366h0m1 395h0m1-525h0m0 103h0m0 37h0m0 393h0m1-446h0m0 11h0m0 15h0m0 11h0m0 381h0m0 35h0m2-533h0m0 489h0m0 33h0m1-463h0m2 48h0m0 18h0m1-85h0m0 3h0m0 458h0m0 14h0m1 2h0m1-537h0m0 511h0m1-418h0m0 31h0m0 14h0m0 18h0m1-16h0m0 22h0m1-151h0m0 69h0m0 47h0m0 15h0m0 387h0m1-448h0m0 51h0m2 21h0m0 364h0m1-496h0m0 479h0m2-388h0m0 383h0m1-404h0m0 27h0m2-6h0m0 16h0m0 10h0m0 520h0m1-164h0m1-377h0m0 35h0m2 372h0m1-399h0m1 2h0m0 438h0m0 2h0m1-421h0m0 355h0m0 27h0m1-378h0m0 368h0m0 5h0m1-11h0m0 22h0m0 48h0m1-454h0m1 29h0m0 346h0m2-388h0m1 33h0m0 382h0m0 34h0m2-446h0m0 394h0m1 8h0m1-406h0m0 35h0m0 348h0m0 38h0m1-403h0m0 384h0m0 41h0m1-33h0m1-11h0m2-16h0m1-443h0m0 77h0m0 456h0m1-72h0m1-22h0m0 38h0m0 89h0m1-25h0m1-78h0m0 19h0m1-498h0m0 475h0m0 43h0m2-425h0m1 1h0m0 370h0m1-469h0m0 90h0m0 22h0m0 415h0m1-64h0m0 20h0m1-365h0m0 353h0m1-380h0m0 22h0m1 385h0m2-381h0m0 368h0m1-9h0m1-373h0m0 10h0m0 387h0m1 100h0m2-137h0m0 5h0m0 70h0m1-463h0m1-15h0m0 18h0m0 8h0m2 379h0m0 32h0m0 108h0m1-112h0m0 7h0m1-416h0m0 7h0m0 8h0m0 11h0m0 365h0m2-447h0m0 42h0m0 412h0m0 68h0m1-41h0m1-536h0m1 494h0m0 30h0m1-430h0m1-39h0m0 58h0m0 19h0m0 368h0m1 5h0m0 10h0m0 4h0m1-395h0m0 16h0m1-34h0m0 413h0m1-428h0m0 420h0m0 17h0m1-502h0m1 2h0m1 48h0m0 465h0m1-593h0m0 166h0m1-13h0m0 404h0m1-554h0m0 174h0m1-73h0m1 40h0m0 22h0m0 390h0m0 34h0m1-452h0m1 18h0m0 25h0m0 360h0m0 10h0m0 27h0m1-407h0m0 589h0m2-596h0m0 373h0m0 7h0m0 21h0m2-395h0m0 14h0m1 371h0m3-422h0m1-50h0m0 44h0m0 21h0m0 22h0m0 401h0m3-527h0m0 117h0m0 19h0m0 421h0m1-461h0m0 454h0m1 17h0m1-458h0m0 21h0m1-8h0m0 392h0m0 13h0m1-411h0m0 408h0m0 26h0m1-502h0m0 62h0m0 30h0m1-25h0m0 30h0m0 413h0m1-403h0m0 382h0m1-415h0m0 387h0m1-443h0m1 465h0m0 13h0m2-541h0m0 115h0m0 27h0m0 393h0m0 8h0m1-415h0m0 396h0m1-452h0m0 38h0m0 406h0m0 30h0m1-412h0m1 466h0m1-548h0m0 467h0m1-504h0m0 97h0m0 428h0m1-416h0m1-6h0m0 392h0m1 24h0m1-403h0m0 10h0m0 422h0m1-450h0m0 413h0m1-393h0m0 382h0m0 38h0m1-15h0m1-544h0m2 13h0m0 520h0m1-421h0m0 550h0m1-556h0m0 26h0m1-33h0m0 397h0m2-405h0m0 406h0m1 17h0m2-402h0m0 21h0m1-27h0m0 24h0m1 373h0m0 20h0m1 132h0m2-131h0m0 62h0m2-59h0m0 8h0m1-430h0m0 411h0m1-403h0m1 14h0m0 5h0m0 448h0m0 43h0m1-105h0m1-400h0m0 407h0m1-499h0m0 487h0m0 34h0m0 124h0m1-551h0m0 402h0m2 7h0m0 11h0m1-408h0m0 9h0m0 357h0m1-384h0m0 401h0m2-433h0m0 423h0m0 28h0m1-10h0m0 158h0m0 33h0m1-197h0m0 25h0m1 115h0m1-544h0m0 2h0m0 15h0m0 388h0m0 11h0m1-32h0m1-498h0m1 542h0m0 89h0m1-481h0m0 356h0m1 24h0m1-441h0m0 34h0m0 1h0m1 398h0m1-383h0m2 355h0m0 148h0m1-140h0m0 6h0m0 85h0m1-482h0m0 13h0m0 394h0m1-395h0m0 10h0m0 400h0m1 26h0m1-562h0m0 530h0m0 11h0m1-27h0m0 16h0m0 100h0m2-97h0m1-31h0m0 22h0m0 98h0m1-510h0m0 400h0m0 120h0m1-607h0m0 113h0m0 395h0m1-388h0m0 419h0m1-451h0m0 389h0m1-442h0m0 461h0m1-14h0m1-355h0m1 396h0m0 130h0m1-550h0m0 26h0m1 339h0m1-397h0m0 60h0m1-39h0m0 19h0m0 376h0m0 29h0m1-48h0m0 34h0m0 92h0m1-493h0m0 390h0m0 63h0m0 2h0m1-460h0m1 45h0m0 341h0m0 32h0m1-396h0m1 435h0m1-67h0m2-11h0m0 34h0m1-397h0m0 8h0m1 385h0m1 60h0m2-449h0m0 387h0m1-383h0m0 370h0m1-456h0m0 444h0m1-393h0m0 394h0m1-399h0m0 32h0m0 375h0m0 10h0m0 9h0m0 32h0m1-431h0m0 356h0m1 10h0m0 41h0m1-430h0m0 499h0m2-101h0m0 20h0m1-393h0m0 377h0m1-381h0m0 11h0m2 402h0m3-418h0m0 21h0m0 417h0m2-30h0m1-377h0m1 382h0m0 33h0m0 64h0m3-110h0m0 34h0m1-406h0m0 405h0m1-24h0m0 2h0m0 33h0m1-423h0m0 398h0m0 27h0m0 11h0m1-43h0m0 23h0m0 17h0m0 33h0m2-31h0m0 23h0m1-475h0m0 13h0m0 414h0m1-32h0m0 38h0m1-406h0m1-36h0m0 25h0m0 387h0m2-10h0m0 14h0m1 8h0m0 161h0m1-191h0m0 2h0m0 92h0m2-472h0m0 413h0m0 97h0m0 40h0m1-597h0m0 16h0m0 434h0m1-441h0m0 25h0m0 402h0m0 37h0m0 7h0m1-426h0m2 366h0m0 18h0m2 20h0m0 28h0m1-432h0m0 7h0m0 395h0m1-396h0m2 19h0m2 356h0m1-436h0m0 11h0m3 24h0m0 388h0m0 8h0m1-377h0m0 15h0m0 358h0m0 17h0m1-405h0m0 414h0m0 4h0m1-433h0m0 409h0m1-399h0m0 413h0m1-393h0m0 394h0m0 4h0m2-393h0m0 370h0m0 95h0m0 20h0m1-503h0m0 401h0m1-374h0m0 393h0m1-404h0m1-7h0m0 393h0m0 26h0m1-431h0m0 387h0m0 80h0m1-33h0m0 52h0m1-499h0m0 31h0m0 376h0m0 27h0m1-516h0m0 82h0m0 7h0m0 436h0m0 45h0m1-492h0m0 19h0m0 410h0m1-532h0m0 517h0m1-443h0m0 454h0m0 61h0m0 22h0m1-109h0m0 70h0m0 163h0m2-625h0m0 9h0m0 8h0m1-22h0m0 417h0m0 41h0m1-461h0m0 396h0m0 13h0m0 32h0m1-34h0m0 24h0m0 6h0m0 24h0m1-532h0m1 98h0m1-65h0m0 77h0m0 2h0m0 354h0m1 6h0m1-389h0m0 413h0m0 39h0m1-75h0m0 32h0m1-446h0m0 25h0m0 25h0m0 1h0m0 373h0m0 34h0m0 155h0m1-548h0m1-21h0m0 391h0m1 16h0m1-419h0m0 18h0m1-13h0m1-48h0m0 65h0m0 366h0m2-390h0m0 427h0m1-413h0m1 383h0m0 19h0m0 61h0m1-483h0m1-49h0m0 43h0m0 41h0m0 364h0m0 5h0m0 12h0m1-383h0m1 404h0m1 24h0m0 65h0m1-516h0m0 412h0m0 91h0m0 96h0m1-207h0m0 121h0m2-17h0m1-104h0m1 58h0m0 133h0m1-626h0m0 61h0m0 382h0m0 16h0m0 205h0m1-620h0m0 421h0m1-424h0m0 10h0m0 376h0m0 39h0m1-446h0m0 46h0m0 384h0m1-398h0m0 9h0m1 7h0m0 406h0m1-494h0m0 470h0m1-402h0m0 33h0m0 392h0m1-30h0m0 24h0m2-433h0m0 40h0m0 9h0m0 416h0m1-41h0m1-438h0m0 26h0m0 11h0m0 17h0m0 377h0m0 26h0m2-386h0m1-109h0m0 17h0m1 60h0m0 434h0m1-22h0m1-386h0m0 338h0m0 24h0m1-381h0m0 387h0m1-405h0m0 31h0m0 357h0m1-464h0m0 455h0m0 31h0m1-443h0m2 63h0m0 3h0m0 362h0m0 88h0m1-65h0m1-376h0m3-103h0m0 463h0m0 146h0m1-571h0m0 46h0m0 13h0m1-25h0m0 393h0m0 11h0m0 12h0m0 12h0m1-432h0m0 12h0m0 20h0m0 374h0m0 11h0m0 3h0m1-397h0m3-13h0m0 27h0m1 356h0m0 149h0m1-533h0m2-40h0m0 31h0m0 12h0m0 16h0m0 378h0m0 174h0m1-589h0m1 48h0m0 344h0m0 31h0m1-445h0m1-16h0m0 66h0m0 25h0m0 355h0m1-395h0m1 413h0m1-27h0m1-447h0m0 91h0m1-33h0m1-4h0m0 407h0m0 21h0m1-411h0m1 1h0m0 8h0m0 398h0m2-426h0m0 29h0m0 15h0m0 357h0m0 6h0m0 13h0m0 39h0m1-576h0m0 101h0m0 27h0m1 412h0m1-383h0m0 352h0m1 44h0m1-424h0m0 381h0m0 21h0m1-446h0m0 37h0m0 392h0m1-403h0m0 40h0m0 375h0m1-11h0m0 28h0m3-420h0m0 5h0m0 4h0m0 378h0m0 69h0m1-475h0m0 450h0m1-414h0m0 388h0m2-13h0m0 29h0m0 25h0m1-501h0m0 45h0m0 438h0m1-445h0m2 392h0m0 16h0m1-452h0m2 424h0m0 44h0m2-405h0m1 25h0m0 375h0m1-468h0m0 66h0m0 12h0m0 359h0m1-448h0m0 49h0m0 18h0m0 370h0m1-387h0m0 402h0m0 10h0m1-391h0m0 29h0m0 333h0m1-387h0m0 511h0m1-562h0m0 456h0m1-345h0m1 330h0m1-363h0m1 368h0m1-363h0m0 8h0m1-11h0m1 24h0m1 13h0m0 321h0m0 48h0m1-406h0m0 22h0m0 368h0m1-383h0m1-126h0m1 156h0m0 339h0m0 43h0m1-410h0m1 14h0m1 355h0m0 19h0m0 6h0m1-398h0m0 7h0m1 372h0m0 8h0m2-419h0m0 56h0m0 343h0m1-375h0m0 414h0m1-395h0m2-67h0m0 33h0m0 53h0m0 332h0m0 29h0m0 32h0m3-59h0m1-400h0m0 59h0m0 369h0m1-369h0m1-24h0m0 369h0m1-328h0m0 302h0m0 7h0m0 22h0m1-468h0m0 108h0m0 16h0m1-10h0m0 16h0m1 303h0m0 21h0m1-353h0m0 19h0m1-18h0m0 354h0m1-365h0m0 12h0m2 365h0m1-380h0m1 380h0m1-372h0m0 345h0m0 15h0m1-450h0m0 92h0m0 15h0m0 7h0m3-1h0m1 323h0m0 19h0m2-22h0m1-344h0m2 343h0m1-340h0m1 323h0m1-340h0m0 380h0m1-344h0m1-146h0m1 82h0m0 38h0m0 339h0m0 23h0m1-351h0m0 15h0m0 368h0m1-377h0m1 351h0m1-380h0m0 4h0m0 360h0m1-334h0m1-12h0m1 366h0m1-442h0m0 438h0m0 29h0m0 33h0m0 76h0m1-520h0m0 370h0m0 22h0m1-408h0m0 29h0m1-6h0m1-40h0m0 403h0m0 29h0m1-378h0m0 374h0m0 9h0m0 5h0m0 20h0m2-441h0m0 428h0m1-435h0m0 24h0m0 464h0m1-466h0m0 349h0m0 14h0m0 20h0m0 27h0m0 81h0m1-536h0m0 401h0m1-329h0m0 4h0m2-57h0m0 60h0m1 339h0m0 6h0m1 126h0m1 42h0m1-569h0m0 31h0m1 22h0m3-12h0m1-2h0m1 350h0m1-349h0m1 345h0m1-335h0m1-26h0m0 349h0m1 34h0m2-422h0m1 26h0m0 10h0m0 26h0m0 351h0m1-371h0m2-3h0m0 366h0m1-380h0m0 0h0m0 393h0m1-362h0m0 11h0m0 346h0m1-363h0m0 376h0m1-400h0m0 405h0m1-472h0m0 480h0m1-397h0m0 11h0m0 349h0m2-5h0m0 15h0m1-381h0m0 433h0m1-411h0m0 493h0m1-586h0m0 453h0m0 9h0m1-18h0m1-371h0m0 5h0m0 392h0m1-11h0m0 98h0m1-463h0m0 356h0m0 98h0m1-62h0m0 25h0m1-453h0m0 423h0m0 17h0m1-499h0m0 91h0m0 411h0m0 37h0m1-64h0m0 49h0m0 24h0m1-81h0m0 17h0m0 51h0m1-454h0m0 418h0m0 44h0m1-475h0m0 44h0m0 397h0m0 41h0m0 80h0m1-123h0m1-424h0m0 18h0m0 341h0m0 13h0m0 110h0m0 14h0m1-97h0m0 44h0m0 8h0m1-153h0m0 95h0m0 73h0m1-440h0m0 76h0m0 17h0m0 276h0m0 40h0m1-54h0m1-308h0m0 74h0m0 102h0m0 154h0m0 22h0m0 29h0m1-239h0m0 72h0m0 158h0m1-305h0m0 241h0m0 7h0m0 27h0m1-336h0m0 8h0m0 307h0m0 14h0m1-197h0m0 59h0m0 60h0m0 114h0m2-316h0m1-12h0m0 34h0m0 71h0m0 133h0m0 100h0m1-308h0m0 272h0m1-204h0m0 46h0m0 22h0m0 108h0m0 68h0m1-76h0m0 32h0m0 52h0m1-451h0m0 25h0m1-36h0m0 23h0m0 358h0m0 47h0m0 44h0m1-479h0m0 384h0m1 68h0m0 11h0m1-456h0m0 18h0m1 420h0m1-35h0m0 16h0m0 46h0m1-445h0m0 14h0m0 388h0m1 51h0m2-442h0m0 3h0m0 340h0m1-329h0m0 330h0m0 10h0m0 77h0m0 65h0m1-96h0m1-75h0m1-380h0m0 19h0m0 357h0m1-341h0m1-78h0m0 109h0m0 325h0m3-352h0m1 20h0m1 457h0m0 22h0m1-602h0m0 462h0m0 11h0m2-369h0m0 9h0m0 14h0m0 328h0m1 5h0m1-321h0m0 317h0m0 137h0m0 12h0m1-462h0m0 301h0m0 11h0m1-346h0m0 377h0m1-508h0m0 116h0m0 28h0m0 17h0m1-166h0m0 136h0m1 365h0m1-396h0m0 35h0m0 6h0m0 366h0m0 42h0m1-426h0m0 2h0m0 429h0m2-445h0m1-71h0m0 464h0m0 20h0m1-415h0m1-95h0m0 84h0m0 382h0m1-389h0m0 405h0m2-355h0m0 354h0m0 18h0m1-394h0m0 382h0m0 6h0m1-358h0m1 373h0m0 66h0m1-116h0m0 9h0m1-358h0m0 3h0m0 13h0m0 328h0m2 9h0m0 26h0m1-483h0m0 125h0m0 6h0m0 384h0m1-553h0m0 19h0m0 56h0m0 19h0m0 405h0m1-442h0m1-94h0m0 19h0m0 168h0m0 375h0m2-353h0m0 341h0m1-569h0m1 198h0m0 19h0m0 18h0m0 315h0m1-357h0m0 348h0m0 15h0m2-17h0m1-311h0m0 317h0m0 30h0m1-360h0m2 16h0m2 325h0m0 2h0m1-320h0m0 322h0m1-339h0m1-76h0m0 58h0m0 1h0m0 364h0m0 26h0m1-378h0m0 319h0m0 1h0m1-334h0m0 18h0m1 380h0m1-48h0m1-313h0m0 379h0m2-422h0m0 39h0m0 316h0m1-319h0m0 405h0m1-422h0m0 383h0m1-386h0m1 6h0m0 326h0m1-360h0m0 374h0m1 12h0m1-348h0m0 312h0m0 2h0m0 12h0m1-17h0m1-333h0m1 348h0m2-354h0m1-2h0m1 348h0m1-343h0m3-1h0m0 2h0m0 352h0m1-340h0m0 3h0m0 21h0m1-27h0m0 346h0m3-323h0m1 304h0m0 12h0m1-326h0m1-43h0m0 369h0m0 29h0m2-28h0m1-382h0m0 39h0m0 27h0m1-18h0m0 307h0m2-371h0m0 40h0m0 30h0m1-27h0m0 3h0m0 361h0m1-334h0" fill="none" stroke="#1f77b4" stroke-width="11.12" stroke-linecap="round"/><polyline points="116.5,258.4 117.1,266.1 117.7,264.9 118.4,275.5 119.0,291.8 119.6,276.3 120.2,277.1 120.9,287.8 121.5,286.5 122.1,272.8 122.7,263.5 123.4,265.9 124.0,276.5 124.6,266.2 125.2,268.9 125.8,270.1 126.5,256.6 127.1,273.3 127.7,285.3 128.3,275.9 129.0,278.3 129.6,275.8 130.2,273.7 130.8,271.4 131.5,274.2 132.1,279.7 132.7,284.8 133.3,275.1 133.9,272.3 134.6,276.0 135.2,282.4 135.8,281.0 136.4,277.3 137.1,266.7 137.7,259.3 138.3,255.2 138.9,266.9 139.6,280.0 140.2,276.8 140.8,280.4 141.4,276.5 142.0,266.8 142.7,279.2 143.3,293.3 143.9,301.6 144.5,299.8 145.2,288.2 145.8,279.9 146.4,293.1 147.0,296.5 147.7,289.7 148.3,284.8 148.9,292.1 149.5,294.4 150.2,291.0 150.8,284.3 151.4,287.7 152.0,281.9 152.6,277.6 153.3,280.5 153.9,274.8 154.5,281.8 155.1,284.2 155.8,282.6 156.4,296.3 157.0,278.3 157.6,256.5 158.3,252.8 158.9,269.6 159.5,278.0 160.1,277.8 160.7,279.9 161.4,284.2 162.0,284.1 162.6,290.6 163.2,299.3 163.9,291.5 164.5,281.0 165.1,276.6 165.7,280.6 166.4,290.0 167.0,288.8 167.6,284.0 168.2,287.8 168.8,295.8 169.5,293.5 170.1,279.7 170.7,271.4 171.3,265.8 172.0,266.1 172.6,261.8 173.2,270.4 173.8,300.4 174.5,298.2 175.1,284.7 175.7,291.8 176.3,296.3 176.9,300.1 177.6,303.0 178.2,305.1 178.8,308.0 179.4,301.0 180.1,287.5 180.7,298.4 181.3,311.9 181.9,307.0 182.6,301.3 183.2,297.7 183.8,286.2 184.4,283.7 185.0,284.6 185.7,283.1 186.3,289.0 186.9,295.1 187.5,297.6 188.2,291.6 188.8,287.1 189.4,265.7 190.0,270.7 190.7,274.8 191.3,278.8 191.9,280.7 192.5,285.4 193.1,282.1 193.8,274.4 194.4,277.8 195.0,282.9 195.6,267.5 196.3,269.2 196.9,268.8 197.5,273.2 198.1,285.8 198.8,292.7 199.4,298.7 200.0,307.1 200.6,297.6 201.2,289.7 201.9,284.7 202.5,292.9 203.1,303.4 203.7,306.9 204.4,290.9 205.0,283.0 205.6,283.4 206.2,286.0 206.9,289.9 207.5,282.7 208.1,280.7 208.7,275.4 209.3,286.3 210.0,292.9 210.6,279.2 211.2,279.9 211.8,266.0 212.5,261.8 213.1,272.4 213.7,268.2 214.3,259.4 215.0,270.3 215.6,287.5 216.2,286.2 216.8,277.1 217.4,273.1 218.1,282.0 218.7,277.4 219.3,275.4 219.9,281.9 220.6,288.9 221.2,290.0 221.8,287.0 222.4,283.1 223.1,272.7 223.7,267.5 224.3,287.8 224.9,284.2 225.6,271.2 226.2,282.8 226.8,293.3 227.4,284.7 228.0,273.8 228.7,278.5 229.3,278.7 229.9,275.1 230.5,282.7 231.2,288.5 231.8,297.3 232.4,293.2 233.0,280.5 233.7,268.3 234.3,270.3 234.9,285.6 235.5,292.3 236.1,309.2 236.8,314.1 237.4,311.1 238.0,304.6 238.6,296.8 239.3,293.4 239.9,299.4 240.5,300.7 241.1,301.9 241.8,307.4 242.4,298.4 243.0,292.9 243.6,297.3 244.2,299.3 244.9,300.5 245.5,301.0 246.1,313.5 246.7,306.2 247.4,287.4 248.0,279.3 248.6,284.0 249.2,291.9 249.9,274.4 250.5,266.3 251.1,277.4 251.7,285.5 252.3,283.3 253.0,292.4 253.6,288.3 254.2,284.8 254.8,283.7 255.5,284.0 256.1,281.6 256.7,282.5 257.3,280.0 258.0,284.6 258.6,293.3 259.2,289.9 259.8,284.1 260.4,287.8 261.1,284.8 261.7,288.0 262.3,291.4 262.9,292.7 263.6,290.8 264.2,282.8 264.8,284.3 265.4,292.1 266.1,287.5 266.7,283.8 267.3,280.9 267.9,280.1 268.5,287.2 269.2,291.9 269.8,287.5 270.4,282.9 271.0,284.5 271.7,283.9 272.3,281.3 272.9,279.2 273.5,278.4 274.2,276.9 274.8,278.6 275.4,282.1 276.0,283.3 276.6,281.6 277.3,278.0 277.9,276.2 278.5,276.8 279.1,274.6 279.8,272.3 280.4,275.4 281.0,279.1 281.6,277.9 282.3,277.5 282.9,279.1 283.5,280.9 284.1,281.4 284.8,280.9 285.4,278.9 286.0,277.4 286.6,277.9 287.2,276.3 287.9,275.5 288.5,274.6 289.1,273.7 289.7,275.0 290.4,276.7 291.0,276.3 291.6,276.0 292.2,277.4 292.9,279.3 293.5,280.3 294.1,278.5 294.7,277.1 295.3,277.2 296.0,277.1 296.6,274.8 297.2,276.1 297.8,278.5 298.5,278.2 299.1,276.9 299.7,276.7 300.3,278.0 301.0,276.3 301.6,279.3 302.2,281.6 302.8,277.8 303.4,275.2 304.1,275.4 304.7,274.4 305.3,274.7 305.9,274.0 306.6,271.3 307.2,270.5 307.8,268.6 308.4,268.4 309.1,268.7 309.7,269.3 310.3,271.7 310.9,269.7 311.5,268.6 312.2,267.6 312.8,267.7 313.4,267.6 314.0,267.4 314.7,268.7 315.3,271.2 315.9,271.2 316.5,270.9 317.2,270.6 317.8,272.9 318.4,276.2 319.0,274.1 319.6,274.4 320.3,275.5 320.9,278.4 321.5,279.1 322.1,279.8 322.8,282.8 323.4,283.7 324.0,281.8 324.6,284.1 325.3,284.0 325.9,282.4 326.5,283.7 327.1,282.3 327.7,281.3 328.4,280.7 329.0,278.2 329.6,276.1 330.2,277.5 330.9,279.3 331.5,281.5 332.1,279.3 332.7,277.3 333.4,278.0 334.0,276.6 334.6,276.7 335.2,273.4 335.8,273.7 336.5,272.3 337.1,270.1 337.7,272.0 338.3,274.6 339.0,275.7 339.6,274.4 340.2,273.7 340.8,273.4 341.5,270.5 342.1,268.3 342.7,271.9 343.3,273.4 343.9,272.7 344.6,272.1 345.2,272.1 345.8,270.9 346.4,269.7 347.1,269.6 347.7,270.6 348.3,272.2 348.9,272.0 349.6,272.9 350.2,272.0 350.8,272.1 351.4,274.0 352.1,274.1 352.7,277.0 353.3,277.3 353.9,274.7 354.5,275.9 355.2,277.5 355.8,274.6 356.4,274.3 357.0,274.5 357.7,277.7 358.3,279.2 358.9,278.7 359.5,278.2 360.2,279.4 360.8,279.8 361.4,281.0 362.0,278.7 362.6,278.9 363.3,280.3 363.9,280.5 364.5,282.0 365.1,281.8 365.8,279.9 366.4,281.5 367.0,282.0 367.6,278.7 368.3,278.2 368.9,282.7 369.5,284.6 370.1,279.5 370.7,275.6 371.4,275.0 372.0,274.5 372.6,277.0 373.2,274.7 373.9,270.5 374.5,270.1 375.1,273.1 375.7,275.5 376.4,275.1 377.0,274.4 377.6,275.9 378.2,275.8 378.8,277.8 379.5,278.2 380.1,277.8 380.7,277.0 381.3,276.8 382.0,275.3 382.6,275.0 383.2,275.3 383.8,276.4 384.5,276.4 385.1,276.0 385.7,276.0 386.3,274.7 386.9,275.3 387.6,277.3 388.2,278.5 388.8,280.3 389.4,280.2 390.1,281.1 390.7,282.0 391.3,279.1 391.9,276.3 392.6,277.8 393.2,279.0 393.8,281.7 394.4,279.6 395.0,278.6 395.7,277.9 396.3,277.7 396.9,276.5 397.5,276.6 398.2,278.5 398.8,278.4 399.4,277.8 400.0,278.6 400.7,273.1 401.3,271.3 401.9,275.6 402.5,279.4 403.1,278.8 403.8,279.7 404.4,273.5 405.0,268.4 405.6,274.3 406.3,275.2 406.9,274.4 407.5,273.6 408.1,270.8 408.8,268.4 409.4,268.3 410.0,271.4 410.6,271.0 411.2,269.7 411.9,271.7 412.5,273.0 413.1,272.3 413.7,271.7 414.4,274.3 415.0,275.1 415.6,271.8 416.2,274.0 416.9,276.3 417.5,277.9 418.1,279.5 418.7,280.3 419.4,279.4 420.0,280.5 420.6,280.2 421.2,282.6 421.8,286.4 422.5,283.3 423.1,283.1 423.7,284.0 424.3,284.7 425.0,284.7 425.6,284.7 426.2,285.1 426.8,282.2 427.5,279.9 428.1,282.2 428.7,283.9 429.3,282.9 429.9,284.2 430.6,283.8 431.2,285.5 431.8,282.6 432.4,279.1 433.1,278.6 433.7,280.0 434.3,283.0 434.9,284.8 435.6,286.2 436.2,287.6 436.8,287.1 437.4,286.8 438.0,290.9 438.7,297.0 439.3,294.6 439.9,291.6 440.5,292.3 441.2,293.9 441.8,297.5 442.4,298.6 443.0,299.1 443.7,300.1 444.3,302.5 444.9,303.3 445.5,302.4 446.1,302.5 446.8,302.3 447.4,299.8 448.0,295.7 448.6,293.8 449.3,295.2 449.9,293.1 450.5,293.2 451.1,291.9 451.8,290.2 452.4,289.3 453.0,287.9 453.6,288.3 454.2,287.9 454.9,283.4 455.5,283.0 456.1,285.5 456.7,286.2 457.4,285.9 458.0,284.9 458.6,282.5 459.2,283.8 459.9,282.9 460.5,283.0 461.1,283.8 461.7,284.8 462.3,285.2 463.0,283.7 463.6,282.7 464.2,281.2 464.8,278.2 465.5,277.2 466.1,279.0 466.7,280.7 467.3,277.7 468.0,276.7 468.6,279.3 469.2,280.5 469.8,279.5 470.4,279.9 471.1,281.9 471.7,283.8 472.3,282.3 472.9,282.2 473.6,281.2 474.2,283.5 474.8,284.5 475.4,283.8 476.1,284.0 476.7,285.2 477.3,284.3 477.9,283.9 478.5,286.8 479.2,288.8 479.8,289.2 480.4,288.5 481.0,286.1 481.7,284.9 482.3,285.9 482.9,286.7 483.5,286.0 484.2,283.3 484.8,284.9 485.4,283.3 486.0,282.6 486.6,287.0 487.3,285.3 487.9,283.0 488.5,281.6 489.1,282.7 489.8,283.9 490.4,283.1 491.0,282.5 491.6,282.2 492.3,281.7 492.9,280.0 493.5,279.4 494.1,280.8 494.8,281.3 495.4,282.3 496.0,284.1 496.6,287.3 497.2,290.3 497.9,286.4 498.5,284.0 499.1,285.5 499.7,285.1 500.4,285.6 501.0,285.5 501.6,285.2 502.2,284.5 502.9,283.3 503.5,280.6 504.1,279.4 504.7,283.2 505.3,284.5 506.0,283.3 506.6,280.0 507.2,277.7 507.8,282.1 508.5,284.8 509.1,284.9 509.7,286.3 510.3,284.4 511.0,280.0 511.6,282.1 512.2,283.6 512.8,283.9 513.4,284.8 514.1,285.1 514.7,286.1 515.3,285.3 515.9,284.6 516.6,283.3 517.2,286.8 517.8,288.1 518.4,285.5 519.1,286.3 519.7,286.8 520.3,283.3 520.9,281.1 521.5,281.1 522.2,280.0 522.8,283.8 523.4,286.9 524.0,288.0 524.7,290.9 525.3,292.0 525.9,292.6 526.5,291.6 527.2,290.6 527.8,292.4 528.4,294.6 529.0,295.7 529.6,295.4 530.3,296.9 530.9,298.3 531.5,297.5 532.1,296.7 532.8,295.7 533.4,300.2 534.0,305.1 534.6,304.1 535.3,305.2 535.9,308.5 536.5,307.8 537.1,304.8 537.7,305.9 538.4,304.6 539.0,303.7 539.6,302.1 540.2,294.1 540.9,292.0 541.5,296.4 542.1,297.7 542.7,295.7 543.4,294.3 544.0,295.7 544.6,294.4 545.2,295.0 545.8,296.6 546.5,296.3 547.1,296.5 547.7,295.5 548.3,293.6 549.0,290.3 549.6,291.0 550.2,289.6 550.8,290.6 551.5,291.4 552.1,290.5 552.7,290.2 553.3,290.3 554.0,289.5 554.6,290.4 555.2,292.0 555.8,292.6 556.4,291.9 557.1,287.0 557.7,284.6 558.3,283.6 558.9,286.0 559.6,287.3 560.2,287.0 560.8,286.1 561.4,283.8 562.1,280.9 562.7,279.5 563.3,279.0 563.9,281.6 564.5,281.6 565.2,277.3 565.8,276.7 566.4,279.3 567.0,282.4 567.7,285.1 568.3,282.4 568.9,281.8 569.5,281.1 570.2,278.9 570.8,278.0 571.4,279.1 572.0,281.1 572.6,282.6 573.3,281.8 573.9,279.3 574.5,276.6 575.1,274.8 575.8,277.9 576.4,280.6 577.0,279.5 577.6,278.8 578.3,278.4 578.9,279.7 579.5,283.2 580.1,284.4 580.7,279.9 581.4,275.2 582.0,273.4 582.6,275.7 583.2,275.0 583.9,274.0 584.5,274.5 585.1,273.7 585.7,271.7 586.4,271.7 587.0,273.1 587.6,271.4 588.2,270.1 588.8,270.3 589.5,272.4 590.1,274.6 590.7,271.4 591.3,271.7 592.0,274.2 592.6,273.6 593.2,272.4 593.8,274.4 594.5,274.9 595.1,272.4 595.7,274.8 596.3,277.9 596.9,281.2 597.6,282.3 598.2,279.9 598.8,278.2 599.4,276.3 600.1,278.8 600.7,281.6 601.3,283.8 601.9,283.9 602.6,282.1 603.2,284.5 603.8,286.6 604.4,283.5 605.0,281.7 605.7,282.0 606.3,282.2 606.9,281.2 607.5,282.1 608.2,281.4 608.8,279.4 609.4,284.6 610.0,285.4 610.7,283.6 611.3,284.0 611.9,282.0 612.5,278.1 613.1,278.8 613.8,279.1 614.4,278.8 615.0,276.0 615.6,276.7 616.3,277.3 616.9,275.2 617.5,274.9 618.1,277.0 618.8,277.0 619.4,277.1 620.0,276.0 620.6,276.5 621.2,278.1 621.9,280.8 622.5,278.0 623.1,274.8 623.7,274.8 624.4,276.8 625.0,277.7 625.6,276.7 626.2,276.0 626.9,278.3 627.5,276.6 628.1,273.8 628.7,275.9 629.4,276.4 630.0,279.5 630.6,283.6 631.2,281.2 631.8,282.4 632.5,283.4 633.1,280.3 633.7,278.6 634.3,275.1 635.0,273.7 635.6,273.8 636.2,274.4 636.8,276.2 637.5,273.8 638.1,274.0 638.7,276.0 639.3,275.7 639.9,273.4 640.6,275.1 641.2,275.7 641.8,273.5 642.4,275.9 643.1,276.9 643.7,275.3 644.3,273.8 644.9,276.7 645.6,278.0 646.2,278.4 646.8,278.3 647.4,276.0 648.0,276.3 648.7,272.8 649.3,266.3 649.9,256.8 650.5,259.4 651.2,263.0 651.8,262.1 652.4,263.1 653.0,264.2 653.7,266.3 654.3,264.6 654.9,264.0 655.5,265.4 656.1,264.0 656.8,261.4 657.4,262.9 658.0,260.8 658.6,259.2 659.3,258.7 659.9,255.8 660.5,256.2 661.1,253.4 661.8,256.6 662.4,255.3 663.0,250.1 663.6,252.7 664.2,259.8 664.9,260.4 665.5,254.7 666.1,252.4 666.7,252.8 667.4,250.8 668.0,252.5 668.6,255.3 669.2,263.7 669.9,271.9 670.5,266.8 671.1,260.0 671.7,262.8 672.3,262.7 673.0,259.5 673.6,249.8 674.2,251.3 674.8,263.1 675.5,263.0 676.1,264.6 676.7,270.1 677.3,258.8 678.0,256.9 678.6,264.3 679.2,264.6 679.8,261.3 680.4,262.9 681.1,259.7 681.7,272.7 682.3,282.1 682.9,270.1 683.6,265.1 684.2,263.2 684.8,257.9 685.4,252.5 686.1,251.8 686.7,251.8 687.3,239.0 687.9,231.1 688.5,231.3 689.2,248.8 689.8,233.6 690.4,228.8 691.0,237.0 691.7,249.4 692.3,251.3 692.9,261.9 693.5,267.1 694.2,251.2 694.8,244.8 695.4,251.0 696.0,276.4 696.7,290.5 697.3,259.6 697.9,249.6 698.5,252.6 699.1,262.7 699.8,266.4 700.4,258.4 701.0,261.9 701.6,271.7 702.3,269.4 702.9,268.7 703.5,273.3 704.1,262.7 704.8,262.1 705.4,264.8 706.0,261.3 706.6,266.4 707.2,270.2 707.9,270.6 708.5,275.2 709.1,280.1 709.7,283.3 710.4,282.6 711.0,281.7 711.6,282.9 712.2,286.2 712.9,286.9 713.5,285.5 714.1,280.6 714.7,279.6 715.3,282.9 716.0,285.6 716.6,291.1 717.2,290.3 717.8,287.7 718.5,287.9 719.1,289.2 719.7,290.6 720.3,290.9 721.0,293.0 721.6,291.5 722.2,291.7 722.8,291.8 723.4,292.4 724.1,292.9 724.7,292.9 725.3,291.8 725.9,289.2 726.6,289.2 727.2,286.3 727.8,283.4 728.4,286.9 729.1,293.9 729.7,292.8 730.3,289.5 730.9,288.6 731.5,287.2 732.2,285.6 732.8,282.7 733.4,280.7 734.0,281.3 734.7,282.8 735.3,282.1 735.9,281.4 736.5,282.6 737.2,281.5 737.8,279.1 738.4,277.5 739.0,280.8 739.6,285.4 740.3,283.5 740.9,281.0 741.5,280.9 742.1,284.3 742.8,284.8 743.4,281.0 744.0,276.1 744.6,278.9 745.3,283.1 745.9,282.8 746.5,282.0 747.1,279.7 747.7,282.2 748.4,285.2 749.0,288.3 749.6,287.2 750.2,287.5 750.9,286.9 751.5,286.8 752.1,285.2 752.7,285.7 753.4,284.2 754.0,284.1 754.6,283.2 755.2,283.4 755.9,284.7 756.5,284.2 757.1,285.9 757.7,283.0 758.3,282.7 759.0,284.4 759.6,285.0 760.2,283.6 760.8,284.2 761.5,284.7 762.1,279.9 762.7,277.8 763.3,281.5 764.0,284.7 764.6,283.3 765.2,282.6 765.8,284.2 766.4,282.6 767.1,280.9 767.7,279.0 768.3,278.2 768.9,282.3 769.6,278.9 770.2,275.3 770.8,279.6 771.4,282.1 772.1,281.3 772.7,277.6 773.3,278.3 773.9,282.1 774.5,284.2 775.2,283.5 775.8,285.6 776.4,280.4 777.0,275.0 777.7,275.5 778.3,272.6 778.9,267.7 779.5,270.1 780.2,279.2 780.8,278.4 781.4,274.6 782.0,270.2 782.6,268.6 783.3,271.1 783.9,274.6 784.5,277.9 785.1,279.7 785.8,277.4 786.4,276.0 787.0,275.1 787.6,274.1 788.3,275.4 788.9,280.1 789.5,275.9 790.1,275.4 790.7,279.6 791.4,284.6 792.0,284.7 792.6,285.0 793.2,281.8 793.9,282.1 794.5,281.2 795.1,279.3 795.7,278.2 796.4,277.5 797.0,276.5 797.6,273.7 798.2,272.6 798.8,277.5 799.5,285.6 800.1,287.6 800.7,274.8 801.3,267.1 802.0,268.9 802.6,268.0 803.2,271.5 803.8,279.6 804.5,281.0 805.1,276.9 805.7,273.8 806.3,266.4 806.9,268.9 807.6,273.5 808.2,271.4 808.8,276.9 809.4,279.8 810.1,276.8 810.7,270.3 811.3,273.4 811.9,279.7 812.6,274.8 813.2,272.5 813.8,276.1 814.4,281.3 815.0,283.7 815.7,287.9 816.3,274.5 816.9,272.0 817.5,275.2 818.2,276.6 818.8,274.1 819.4,265.0 820.0,263.6 820.7,268.8 821.3,268.9 821.9,266.2 822.5,269.0 823.1,271.2 823.8,273.7 824.4,264.2 825.0,265.1 825.6,277.9 826.3,282.6 826.9,273.8 827.5,264.9 828.1,266.5 828.8,270.6 829.4,269.9 830.0,257.7 830.6,248.1 831.3,244.0 831.9,244.2 832.5,242.8 833.1,250.0 833.7,257.3 834.4,252.9 835.0,248.0 835.6,246.4 836.2,246.9 836.9,248.0 837.5,251.4 838.1,251.8 838.7,249.9 839.4,253.0 840.0,261.1 840.6,246.8 841.2,238.4 841.8,246.9 842.5,249.5 843.1,245.7 843.7,248.8 844.3,246.8 845.0,240.7 845.6,237.2 846.2,240.8 846.8,246.4 847.5,243.7 848.1,245.1 848.7,255.8 849.3,257.8 849.9,257.6 850.6,272.6 851.2,274.1 851.8,259.1 852.4,262.0 853.1,274.3 853.7,271.8 854.3,255.4 854.9,256.0 855.6,256.0 856.2,255.1 856.8,259.0 857.4,261.7 858.0,255.3 858.7,250.8 859.3,249.7 859.9,253.1 860.5,258.1 861.2,249.0 861.8,240.9 862.4,244.2 863.0,243.1 863.7,238.0 864.3,235.1 864.9,232.6 865.5,233.8 866.1,238.6 866.8,240.8 867.4,248.5 868.0,251.2 868.6,249.4 869.3,264.2 869.9,262.2 870.5,256.6 871.1,251.4 871.8,249.2 872.4,253.1 873.0,267.4 873.6,266.3 874.2,257.6 874.9,252.8 875.5,252.7 876.1,261.0 876.7,254.2 877.4,248.3 878.0,249.5 878.6,256.7 879.2,257.8 879.9,251.7 880.5,254.3 881.1,248.4 881.7,240.7 882.3,233.8 883.0,225.1 883.6,226.6 884.2,236.0 884.8,245.9 885.5,256.0 886.1,253.6 886.7,238.0 887.3,249.3 888.0,258.5 888.6,256.0 889.2,255.1 889.8,246.4 890.5,247.3 891.1,244.9 891.7,251.4 892.3,263.6 892.9,263.1 893.6,255.8 894.2,250.3 894.8,236.3 895.4,244.8 896.1,250.4 896.7,246.5 897.3,255.4 897.9,250.7 898.6,243.9 899.2,248.7 899.8,260.6 900.4,263.1 901.0,248.2 901.7,244.9 902.3,249.4 902.9,258.9 903.5,263.2 904.2,257.7 904.8,259.1 905.4,250.0 906.0,243.9 906.7,255.3 907.3,254.9 907.9,248.2 908.5,249.1 909.1,253.5 909.8,255.9 910.4,247.5 911.0,247.1 911.6,247.9 912.3,255.0 912.9,252.5 913.5,249.9 914.1,259.2 914.8,263.4 915.4,259.4 916.0,258.9 916.6,264.4 917.2,265.1 917.9,242.8 918.5,230.9 919.1,244.9 919.7,248.1 920.4,254.6 921.0,259.8 921.6,261.3 922.2,258.5 922.9,247.6 923.5,242.5 924.1,241.9 924.7,232.3 925.3,236.3 926.0,245.6 926.6,242.6 927.2,233.9 927.8,231.5 928.5,241.0 929.1,246.1 929.7,240.6 930.3,233.5 931.0,244.8 931.6,254.3 932.2,253.5 932.8,244.7 933.4,243.0 934.1,248.9 934.7,246.3 935.3,251.5 935.9,254.1 936.6,256.5 937.2,252.0 937.8,260.8 938.4,270.8 939.1,261.4 939.7,253.5 940.3,256.3 940.9,259.8 941.5,261.2 942.2,259.4 942.8,235.2 943.4,226.4 944.0,237.7 944.7,250.4 945.3,253.5 945.9,247.7 946.5,236.1 947.2,234.7 947.8,248.1 948.4,256.2 949.0,250.9 949.6,242.9 950.3,234.4 950.9,244.9 951.5,256.1 952.1,251.1 952.8,243.3 953.4,245.7 954.0,244.2 954.6,242.0 955.3,248.2 955.9,256.8 956.5,261.1 957.1,258.3 957.8,264.5 958.4,255.1 959.0,249.7 959.6,244.6 960.2,241.5 960.9,237.9 961.5,242.1 962.1,249.3 962.7,249.4 963.4,251.9 964.0,251.1 964.6,256.3 965.2,252.0 965.9,249.1 966.5,252.6 967.1,236.3 967.7,239.4 968.3,242.2 969.0,241.4 969.6,245.9 970.2,241.6 970.8,249.7 971.5,250.4 972.1,242.0 972.7,239.8 973.3,243.1 974.0,241.2 974.6,244.9 975.2,245.1 975.8,249.7 976.4,259.1 977.1,256.3 977.7,251.6 978.3,253.6 978.9,256.3 979.6,247.8 980.2,249.4 980.8,254.3 981.4,258.4 982.1,247.4 982.7,234.2 983.3,245.2 983.9,247.0 984.5,244.3 985.2,242.4 985.8,239.6 986.4,245.1 987.0,238.0 987.7,240.3 988.3,246.2 988.9,238.5 989.5,243.5 990.2,260.0 990.8,266.5 991.4,263.1 992.0,269.0 992.6,269.7 993.3,263.3 993.9,257.3 994.5,262.5 995.1,264.4 995.8,254.8 996.4,261.2 997.0,272.3 997.6,269.0 998.3,265.8 998.9,270.0 999.5,272.8 1000.1,271.3 1000.7,250.5 1001.4,242.3 1002.0,255.6 1002.6,260.6 1003.2,251.0 1003.9,251.1 1004.5,254.2 1005.1,259.2 1005.7,266.2 1006.4,258.1 1007.0,258.7 1007.6,270.7 1008.2,285.4 1008.8,276.7 1009.5,258.4 1010.1,261.1 1010.7,280.4 1011.3,284.7 1012.0,276.1 1012.6,274.5 1013.2,272.6 1013.8,273.1 1014.5,261.8 1015.1,261.2 1015.7,260.5 1016.3,262.7 1016.9,270.8 1017.6,272.6 1018.2,254.8 1018.8,251.3 1019.4,254.7 1020.1,250.0 1020.7,261.2 1021.3,264.7 1021.9,262.6 1022.6,251.9 1023.2,247.8 1023.8,252.0 1024.4,257.1 1025.0,269.6 1025.7,268.9 1026.3,269.7 1026.9,276.4 1027.5,276.2 1028.2,264.0 1028.8,259.5 1029.4,264.9 1030.0,266.7 1030.7,256.7 1031.3,257.4 1031.9,263.7 1032.5,267.9 1033.2,277.4 1033.8,276.3 1034.4,282.7 1035.0,268.7 1035.6,256.3 1036.3,268.7 1036.9,271.7 1037.5,264.0 1038.1,264.9 1038.8,264.1 1039.4,267.7 1040.0,271.0 1040.6,269.8 1041.3,264.5 1041.9,254.7 1042.5,264.9 1043.1,274.0 1043.7,269.9 1044.4,270.0 1045.0,276.6 1045.6,280.2 1046.2,280.6 1046.9,273.9 1047.5,267.2 1048.1,262.8 1048.7,264.0 1049.4,268.2 1050.0,269.1 1050.6,280.1 1051.2,280.6 1051.8,272.2 1052.5,276.3 1053.1,280.0 1053.7,268.1 1054.3,265.5 1055.0,271.7 1055.6,275.8 1056.2,279.8 1056.8,273.7 1057.5,266.4 1058.1,265.2 1058.7,266.4 1059.3,272.4 1059.9,272.3 1060.6,273.3 1061.2,273.1 1061.8,268.8 1062.4,265.8 1063.1,274.2 1063.7,275.3 1064.3,265.4 1064.9,264.8 1065.6,275.4 1066.2,283.2 1066.8,279.7 1067.4,287.2 1068.0,287.5 1068.7,277.9 1069.3,269.3 1069.9,261.4 1070.5,265.5 1071.2,278.5 1071.8,278.2 1072.4,271.6 1073.0,273.0 1073.7,269.8 1074.3,266.7 1074.9,271.5 1075.5,272.9 1076.1,275.9 1076.8,283.8 1077.4,277.0 1078.0,267.4 1078.6,266.2 1079.3,271.4 1079.9,288.1 1080.5,276.5 1081.1,272.9 1081.8,275.4 1082.4,275.2 1083.0,268.6 1083.6,265.1 1084.2,257.5 1084.9,257.2 1085.5,264.8 1086.1,272.7 1086.7,280.4 1087.4,273.0 1088.0,267.6 1088.6,272.1 1089.2,274.1 1089.9,271.8 1090.5,277.6 1091.1,282.3 1091.7,275.9 1092.3,272.7 1093.0,268.0 1093.6,259.6 1094.2,254.5 1094.8,253.3 1095.5,257.8 1096.1,269.3 1096.7,275.8 1097.3,274.1 1098.0,268.2 1098.6,271.3 1099.2,277.2 1099.8,270.8 1100.5,257.4 1101.1,251.9 1101.7,255.7 1102.3,269.7 1102.9,269.9 1103.6,259.7 1104.2,264.1 1104.8,262.9 1105.4,264.2 1106.1,262.7 1106.7,263.3 1107.3,268.0 1107.9,265.2 1108.6,264.4 1109.2,256.1 1109.8,256.3 1110.4,256.8 1111.0,265.2 1111.7,262.6 1112.3,258.8 1112.9,262.8 1113.5,262.1 1114.2,269.7 1114.8,284.5 1115.4,277.3 1116.0,260.3 1116.7,266.6 1117.3,278.1 1117.9,280.7 1118.5,271.5 1119.1,261.9 1119.8,269.1 1120.4,268.6 1121.0,269.7 1121.6,263.9 1122.3,267.0 1122.9,280.4 1123.5,267.5 1124.1,257.4 1124.8,258.1 1125.4,266.7 1126.0,266.6 1126.6,273.5 1127.2,267.7 1127.9,253.7 1128.5,244.9 1129.1,248.6 1129.7,253.4 1130.4,270.4 1131.0,281.5 1131.6,270.6 1132.2,269.2 1132.9,274.6 1133.5,266.5 1134.1,271.9 1134.7,271.0 1135.3,259.8 1136.0,256.5 1136.6,251.5 1137.2,243.7 1137.8,247.0 1138.5,254.3 1139.1,248.2 1139.7,238.8 1140.3,254.9 1141.0,271.9 1141.6,265.6 1142.2,254.7 1142.8,249.9 1143.4,239.9 1144.1,246.5 1144.7,251.5 1145.3,258.0 1145.9,257.4 1146.6,253.1 1147.2,248.6 1147.8,254.4 1148.4,266.2 1149.1,268.3 1149.7,263.1 1150.3,258.1 1150.9,256.2 1151.5,253.1 1152.2,248.9 1152.8,252.3 1153.4,261.2 1154.0,260.0 1154.7,256.5 1155.3,257.9 1155.9,268.5 1156.5,261.3 1157.2,261.1 1157.8,263.1 1158.4,273.5 1159.0,280.7 1159.7,271.4 1160.3,262.7 1160.9,259.1 1161.5,247.8 1162.1,245.4 1162.8,249.7 1163.4,251.4 1164.0,245.8 1164.6,246.9 1165.3,260.8 1165.9,268.3 1166.5,270.0 1167.1,259.9 1167.8,248.8 1168.4,264.5 1169.0,272.8 1169.6,264.1 1170.2,269.8 1170.9,272.7 1171.5,270.7 1172.1,265.1 1172.7,260.6 1173.4,257.5 1174.0,263.0 1174.6,274.8 1175.2,272.6 1175.9,257.8 1176.5,246.1 1177.1,251.0 1177.7,254.4 1178.3,247.9 1179.0,244.6 1179.6,255.3 1180.2,268.8 1180.8,272.7 1181.5,272.9 1182.1,282.8 1182.7,272.2 1183.3,260.7 1184.0,266.8 1184.6,268.2 1185.2,252.6 1185.8,253.9 1186.4,265.0 1187.1,260.0 1187.7,250.2 1188.3,248.4 1188.9,247.3 1189.6,240.8 1190.2,242.5 1190.8,248.7 1191.4,259.5 1192.1,266.5 1192.7,274.2 1193.3,272.2 1193.9,270.8 1194.5,270.9 1195.2,264.3 1195.8,257.0 1196.4,256.3 1197.0,253.9 1197.7,254.5 1198.3,250.8 1198.9,253.9 1199.5,271.4 1200.2,281.1 1200.8,271.3 1201.4,265.5 1202.0,274.5 1202.6,274.8 1203.3,259.4 1203.9,256.1 1204.5,255.2 1205.1,267.7 1205.8,262.7 1206.4,246.3 1207.0,256.4 1207.6,247.8 1208.3,248.6 1208.9,254.3 1209.5,256.8 1210.1,259.0 1210.7,266.6 1211.4,275.4 1212.0,276.1 1212.6,265.4 1213.2,255.1 1213.9,254.7 1214.5,265.2 1215.1,260.4 1215.7,256.9 1216.4,253.5 1217.0,248.4 1217.6,240.2 1218.2,236.8 1218.8,243.7 1219.5,246.7 1220.1,254.9 1220.7,260.0 1221.3,258.5 1222.0,256.9 1222.6,245.6 1223.2,256.3 1223.8,254.7 1224.5,252.0 1225.1,255.1 1225.7,254.1 1226.3,247.5 1227.0,241.9 1227.6,253.1 1228.2,256.1 1228.8,248.3 1229.4,246.4 1230.1,247.2 1230.7,248.3 1231.3,255.6 1231.9,261.0 1232.6,252.3 1233.2,253.9 1233.8,251.9 1234.4,243.2 1235.1,249.1 1235.7,253.8 1236.3,242.0 1236.9,236.6 1237.5,237.4 1238.2,249.9 1238.8,247.2 1239.4,234.6 1240.0,240.7 1240.7,257.4 1241.3,256.5 1241.9,256.9 1242.5,258.6 1243.2,255.0 1243.8,262.9 1244.4,261.2 1245.0,264.7 1245.6,259.8 1246.3,257.9 1246.9,264.0 1247.5,265.9 1248.1,261.5 1248.8,266.3 1249.4,268.9 1250.0,278.2 1250.6,270.1 1251.3,260.9 1251.9,261.7 1252.5,258.8 1253.1,258.2 1253.7,266.6 1254.4,270.0 1255.0,261.7 1255.6,250.5 1256.2,253.7 1256.9,257.9 1257.5,252.7 1258.1,260.4 1258.7,261.1 1259.4,258.1 1260.0,256.5 1260.6,256.4 1261.2,249.5 1261.8,252.8 1262.5,262.0 1263.1,271.2 1263.7,280.3 1264.3,273.2 1265.0,254.6 1265.6,254.1 1266.2,263.0 1266.8,256.5 1267.5,254.3 1268.1,264.9 1268.7,257.0 1269.3,253.9 1269.9,259.3 1270.6,257.2 1271.2,258.1 1271.8,270.4 1272.4,274.1 1273.1,264.7 1273.7,256.9 1274.3,271.4 1274.9,262.6 1275.6,254.8 1276.2,260.2 1276.8,257.5 1277.4,248.8 1278.0,246.8 1278.7,253.3 1279.3,247.7 1279.9,250.0 1280.5,259.1 1281.2,261.8 1281.8,254.9 1282.4,257.3 1283.0,269.6 1283.7,263.3 1284.3,263.1 1284.9,260.2 1285.5,253.9 1286.1,254.3 1286.8,256.5 1287.4,255.1 1288.0,257.1 1288.6,267.1 1289.3,272.5 1289.9,271.1 1290.5,260.2 1291.1,263.1 1291.8,273.0 1292.4,265.0 1293.0,258.2 1293.6,267.7 1294.2,269.7 1294.9,267.7 1295.5,262.5 1296.1,259.0 1296.7,250.8 1297.4,247.9 1298.0,259.4 1298.6,266.0 1299.2,265.6 1299.9,266.2 1300.5,267.2 1301.1,259.0 1301.7,251.4 1302.4,257.0 1303.0,253.2 1303.6,253.6 1304.2,258.6 1304.8,256.2 1305.5,258.3 1306.1,260.4 1306.7,264.2 1307.3,262.8 1308.0,253.4 1308.6,248.9 1309.2,248.7 1309.8,261.6 1310.5,253.8 1311.1,246.5 1311.7,249.7 1312.3,245.0 1312.9,253.4 1313.6,256.7 1314.2,247.7 1314.8,241.8 1315.4,253.6 1316.1,258.3 1316.7,253.3 1317.3,254.8 1317.9,248.7 1318.6,244.7 1319.2,260.5 1319.8,259.5 1320.4,261.9 1321.0,255.7 1321.7,245.6 1322.3,246.5 1322.9,248.6 1323.5,239.1 1324.2,240.3 1324.8,252.0 1325.4,255.5 1326.0,256.0 1326.7,244.2 1327.3,247.5 1327.9,256.0 1328.5,257.8 1329.1,252.5 1329.8,247.5 1330.4,236.4 1331.0,232.0 1331.6,244.5 1332.3,259.6 1332.9,258.4 1333.5,243.8 1334.1,234.1 1334.8,232.5 1335.4,233.4 1336.0,238.2 1336.6,239.6 1337.2,241.5 1337.9,252.5 1338.5,245.3 1339.1,227.6 1339.7,226.1 1340.4,243.8 1341.0,243.9 1341.6,245.2 1342.2,256.5 1342.9,255.2 1343.5,249.1 1344.1,242.3 1344.7,227.9 1345.3,236.2 1346.0,254.3 1346.6,253.7 1347.2,236.0 1347.8,231.5 1348.5,241.4 1349.1,254.2 1349.7,257.4 1350.3,264.9 1351.0,254.6 1351.6,239.9 1352.2,244.5 1352.8,252.1 1353.4,248.1 1354.1,248.1 1354.7,248.1 1355.3,257.2 1355.9,256.8 1356.6,263.8 1357.2,262.0 1357.8,247.9 1358.4,233.2 1359.1,231.7 1359.7,233.8 1360.3,226.3 1360.9,229.3 1361.5,236.1 1362.2,236.8 1362.8,238.8 1363.4,247.9 1364.0,237.8 1364.7,232.3 1365.3,238.3 1365.9,238.3 1366.5,240.2 1367.2,244.7 1367.8,254.8 1368.4,257.1 1369.0,247.6 1369.7,243.4 1370.3,246.0 1370.9,233.3 1371.5,236.5 1372.1,242.7 1372.8,242.4 1373.4,254.2 1374.0,260.3 1374.6,256.3 1375.3,253.1 1375.9,241.9 1376.5,235.7 1377.1,243.0 1377.8,247.0 1378.4,251.7 1379.0,245.8 1379.6,250.5 1380.2,246.6 1380.9,229.6 1381.5,234.6 1382.1,249.3 1382.7,258.4 1383.4,260.3 1384.0,254.7 1384.6,240.9 1385.2,234.5 1385.9,239.9 1386.5,248.1 1387.1,245.7 1387.7,243.1 1388.3,241.3 1389.0,243.4 1389.6,243.4 1390.2,235.1 1390.8,235.8 1391.5,246.9 1392.1,250.6 1392.7,245.2 1393.3,240.3 1394.0,234.1 1394.6,230.3 1395.2,244.4 1395.8,249.7 1396.4,255.8 1397.1,253.6 1397.7,245.0 1398.3,238.8 1398.9,275.4 1399.6,331.4 1400.2,343.3 1400.8,345.4 1401.4,347.5 1402.1,349.6 1402.7,351.7 1403.3,353.8 1403.9,356.6 1404.5,360.0 1405.2,363.4 1405.8,366.8 1406.4,370.2 1407.0,373.7 1407.7,377.1 1408.3,376.0 1408.9,364.2 1409.5,352.5 1410.2,340.8 1410.8,306.4 1411.4,262.4 1412.0,252.5 1412.6,250.4 1413.3,258.9 1413.9,250.8 1414.5,248.4 1415.1,246.9 1415.8,245.8 1416.4,245.0 1417.0,246.1 1417.6,252.7 1418.3,256.0 1418.9,265.3 1419.5,265.6 1420.1,263.8 1420.7,258.4 1421.4,259.6 1422.0,266.2 1422.6,264.4 1423.2,259.0 1423.9,255.3 1424.5,251.0 1425.1,269.6 1425.7,277.3 1426.4,270.8 1427.0,271.6 1427.6,264.5 1428.2,253.8 1428.8,240.4 1429.5,250.8 1430.1,269.9 1430.7,260.9 1431.3,250.5 1432.0,243.1 1432.6,250.8 1433.2,268.2 1433.8,271.7 1434.5,266.8 1435.1,258.7 1435.7,269.7 1436.3,264.4 1437.0,254.1 1437.6,256.8 1438.2,256.2 1438.8,253.3 1439.4,261.8 1440.1,261.5 1440.7,252.9 1441.3,245.0 1441.9,243.2 1442.6,241.3 1443.2,236.3 1443.8,246.3 1444.4,259.3 1445.1,263.6 1445.7,261.8 1446.3,245.6 1446.9,232.3 1447.5,233.5 1448.2,245.4 1448.8,256.1 1449.4,251.5 1450.0,258.3 1450.7,268.2 1451.3,264.4 1451.9,255.2 1452.5,261.8 1453.2,258.9 1453.8,264.7 1454.4,263.7 1455.0,266.6 1455.6,268.9 1456.3,265.1 1456.9,257.3 1457.5,243.5 1458.1,243.4 1458.8,242.0 1459.4,241.5 1460.0,255.5 1460.6,259.8 1461.3,257.8 1461.9,246.6" fill="none" stroke="#ff7f0e" stroke-width="2.1" stroke-linejoin="round"/></g><g clip-path="url(#cb)"><path d="M116 1029 118 1029 120 1029 122 1029 124 1028 126 1028 128 1028 130 1028 132 1028 134 1028 136 1027 138 1027 140 1027 142 1027 144 1027 146 1027 148 1026 150 1026 152 1026 154 1026 156 1026 158 1026 160 1025 162 1025 164 1025 166 1025 168 1025 170 1025 172 1024 174 1024 176 1023 178 1023 180 1022 182 1022 184 1021 186 1020 188 1019 190 1019 192 1019 194 1018 196 1016 198 1016 200 1016 202 1015 204 1014 206 1012 208 1011 210 1010 212 1009 214 1007 216 1005 218 1003 220 1001 222 1001 224 1000 226 997 228 995 230 996 232 995 234 993 236 990 238 989 240 988 242 984 244 980 246 980 248 980 250 974 252 969 254 968 256 969 258 966 260 963 262 944 264 936 266 939 268 938 270 935 272 926 274 918 276 921 278 921 280 911 282 904 284 897 286 897 288 899 290 904 292 903 294 906 296 898 298 893 300 898 302 889 304 881 306 881 308 883 310 885 312 877 314 871 316 883 318 881 320 872 322 872 324 871 326 858 328 860 330 865 332 869 334 865 336 868 338 869 340 865 342 865 344 863 346 867 348 863 350 861 352 858 354 858 356 858 358 856 360 851 362 840 364 832 366 821 368 817 370 814 372 804 374 801 376 801 378 813 380 818 382 816 384 825 386 833 388 836 390 838 392 831 394 823 396 823 398 821 400 818 402 815 404 815 406 821 408 830 410 823 412 818 414 812 416 805 418 799 420 786 422 795 424 801 426 795 428 796 430 790 432 783 434 782 436 773 438 754 440 752 442 748 444 744 446 757 448 757 450 765 452 766 454 758 456 765 458 765 460 771 462 775 464 781 466 791 468 801 470 807 472 819 474 822 476 818 478 819 480 822 482 824 484 825 486 829 488 825 490 820 492 819 494 819 496 817 498 814 500 810 502 823 504 829 506 817 508 817 510 817 512 809 514 814 516 808 518 795 520 799 522 791 524 788 526 797 528 801 530 802 532 811 534 809 536 804 538 790 540 790 542 790 544 778 546 768 548 770 550 771 552 767 554 756 556 756 558 753 560 753 562 749 564 755 566 760 568 759 570 756 572 760 574 754 576 752 578 756 580 759 582 765 584 772 586 781 588 780 590 776 592 773 594 780 596 790 598 787 600 783 602 781 604 787 606 794 608 791 610 781 612 786 614 786 616 791 618 792 620 789 622 762 624 758 626 774 628 773 630 763 632 769 634 809 636 828 638 828 640 827 642 826 644 836 646 852 648 863 650 868 652 865 654 877 656 884 658 895 660 905 662 906 664 909 666 917 668 926 670 938 672 946 674 952 676 955 678 963 680 968 682 974 684 978 686 982 688 987 690 989 692 990 694 996 696 999 698 1002 700 1004 702 1009 704 1011 706 1014 708 1017 710 1018 712 1019 714 1020 716 1021 718 1024 720 1026 722 1026 724 1027 726 1028 728 1028 730 1029 732 1029 734 1029 736 1029 738 1029 740 1029 742 1029 744 1029 746 1029 748 1029 750 1029 752 1029 754 1029 756 1029 758 1029 760 1029 762 1029 764 1029 766 1029 768 1029 770 1029 772 1029 774 1029 776 1029 778 1029 780 1029 782 1029 784 1029 786 1029 788 1029 790 1029 792 1029 794 1029 796 1029 798 1029 800 1029 802 1029 804 1029 806 1029 808 1029 810 1029 812 1029 814 1029 816 1029 818 1029 820 1029 822 1029 824 1029 826 1029 828 1029 830 1029 832 1029 834 1029 836 1029 838 1029 840 1029 842 1029 844 1029 846 1029 848 1029 850 1029 852 1029 854 1029 856 1029 858 1029 860 1029 862 1029 864 1029 866 1029 868 1029 870 1029 872 1029 874 1029 876 1029 878 1029 880 1029 882 1029 884 1029 886 1029 888 1029 890 1029 892 1029 894 1029 896 1029 898 1029 900 1029 902 1029 904 1029 906 1029 908 1029 910 1029 912 1029 914 1029 916 1029 918 1029 920 1029 922 1029 924 1029 926 1029 928 1029 930 1029 932 1029 934 1029 936 1029 938 1029 940 1029 942 1029 944 1029 946 1029 948 1029 950 1029 952 1029 954 1029 956 1029 958 1029 960 1029 962 1029 964 1029 966 1029 968 1029 970 1029 972 1029 974 1029 976 1029 978 1029 980 1029 982 1029 984 1029 986 1029 988 1029 990 1029 992 1029 994 1029 996 1029 998 1029 1000 1029 1002 1029 1004 1029 1006 1029 1008 1029 1010 1029 1012 1029 1014 1029 1016 1029 1018 1029 1020 1029 1022 1029 1024 1029 1026 1029 1028 1029 1030 1029 1032 1029 1034 1029 1036 1029 1038 1029 1040 1029 1042 1029 1044 1029 1046 1029 1048 1029 1050 1029 1052 1029 1054 1029 1056 1029 1058 1029 1060 1029 1062 1029 1064 1029 1066 1029 1068 1029 1070 1029 1072 1029 1074 1029 1076 1029 1078 1029 1080 1029 1082 1029 1084 1029 1086 1029 1088 1029 1090 1029 1092 1029 1094 1029 1096 1029 1098 1029 1100 1029 1102 1029 1104 1029 1106 1029 1108 1029 1110 1029 1112 1029 1114 1029 1116 1029 1118 1029 1120 1029 1122 1029 1124 1029 1126 1029 1128 1029 1130 1029 1132 1029 1134 1029 1136 1029 1138 1029 1140 1029 1142 1029 1144 1029 1146 1029 1148 1029 1150 1029 1152 1029 1154 1029 1156 1029 1158 1029 1160 1029 1162 1029 1164 1029 1166 1029 1168 1029 1170 1029 1172 1029 1174 1029 1176 1029 1178 1029 1180 1029 1182 1029 1184 1029 1186 1029 1188 1029 1190 1029 1192 1029 1194 1029 1196 1029 1198 1029 1200 1029 1202 1029 1204 1029 1206 1029 1208 1029 1210 1029 1212 1029 1214 1029 1216 1029 1218 1029 1220 1029 1222 1029 1224 1029 1226 1029 1228 1029 1230 1029 1232 1029 1234 1029 1236 1029 1238 1029 1240 1029 1242 1029 1244 1029 1246 1029 1248 1029 1250 1029 1252 1029 1254 1029 1256 1029 1258 1029 1260 1029 1262 1029 1264 1029 1266 1029 1268 1029 1270 1029 1272 1029 1274 1029 1276 1029 1278 1029 1280 1029 1282 1029 1284 1029 1286 1029 1288 1029 1290 1029 1292 1029 1294 1029 1296 1029 1298 1029 1300 1029 1302 1029 1304 1029 1306 1029 1308 1029 1310 1029 1312 1029 1314 1029 1316 1029 1318 1029 1320 1029 1322 1029 1324 1029 1326 1029 1328 1029 1330 1029 1332 1029 1334 1029 1336 1029 1338 1029 1340 1029 1342 1029 1344 1029 1346 1029 1348 1029 1350 1029 1352 1029 1354 1029 1356 1029 1358 1029 1360 1029 1362 1029 1364 1029 1366 1029 1368 1029 1370 1029 1372 1029 1374 1029 1376 1029 1378 1029 1380 1029 1382 1029 1384 1029 1386 1029 1388 1029 1390 1029 1392 1029 1394 1029 1396 1029 1398 1029 1400 1029 1402 1029 1404 1029 1406 1029 1408 1029 1410 1029 1412 1029 1414 1029 1416 1029 1418 1029 1420 1029 1422 1029 1424 1029 1426 1029 1428 1029 1430 1029 1432 1029 1434 1029 1436 1029 1438 1029 1440 1029 1442 1029 1444 1029 1446 1029 1448 1029 1450 1029 1452 1029 1454 1029 1456 1029 1458 1029 1460 1029 1462 1029 1462 1036 1460 1036 1458 1036 1456 1036 1454 1036 1452 1036 1450 1036 1448 1036 1446 1036 1444 1036 1442 1036 1440 1036 1438 1036 1436 1036 1434 1036 1432 1036 1430 1036 1428 1036 1426 1036 1424 1036 1422 1036 1420 1036 1418 1036 1416 1036 1414 1036 1412 1036 1410 1036 1408 1036 1406 1036 1404 1036 1402 1036 1400 1036 1398 1036 1396 1036 1394 1036 1392 1036 1390 1036 1388 1036 1386 1036 1384 1036 1382 1036 1380 1036 1378 1036 1376 1036 1374 1036 1372 1036 1370 1036 1368 1036 1366 1036 1364 1036 1362 1036 1360 1036 1358 1036 1356 1036 1354 1036 1352 1036 1350 1036 1348 1036 1346 1036 1344 1036 1342 1036 1340 1036 1338 1036 1336 1036 1334 1036 1332 1036 1330 1036 1328 1036 1326 1036 1324 1036 1322 1036 1320 1036 1318 1036 1316 1036 1314 1036 1312 1036 1310 1036 1308 1036 1306 1036 1304 1036 1302 1036 1300 1036 1298 1036 1296 1036 1294 1036 1292 1036 1290 1036 1288 1036 1286 1036 1284 1036 1282 1036 1280 1036 1278 1036 1276 1036 1274 1036 1272 1036 1270 1036 1268 1036 1266 1036 1264 1036 1262 1036 1260 1036 1258 1036 1256 1036 1254 1036 1252 1036 1250 1036 1248 1036 1246 1036 1244 1036 1242 1036 1240 1036 1238 1036 1236 1036 1234 1036 1232 1036 1230 1036 1228 1036 1226 1036 1224 1036 1222 1036 1220 1036 1218 1036 1216 1036 1214 1036 1212 1036 1210 1036 1208 1036 1206 1036 1204 1036 1202 1036 1200 1036 1198 1036 1196 1036 1194 1036 1192 1036 1190 1036 1188 1036 1186 1036 1184 1036 1182 1036 1180 1036 1178 1036 1176 1036 1174 1036 1172 1036 1170 1036 1168 1036 1166 1036 1164 1036 1162 1036 1160 1036 1158 1036 1156 1036 1154 1036 1152 1036 1150 1036 1148 1036 1146 1036 1144 1036 1142 1036 1140 1036 1138 1036 1136 1036 1134 1036 1132 1036 1130 1036 1128 1036 1126 1036 1124 1036 1122 1036 1120 1036 1118 1036 1116 1036 1114 1036 1112 1036 1110 1036 1108 1036 1106 1036 1104 1036 1102 1036 1100 1036 1098 1036 1096 1036 1094 1036 1092 1036 1090 1036 1088 1036 1086 1036 1084 1036 1082 1036 1080 1036 1078 1036 1076 1036 1074 1036 1072 1036 1070 1036 1068 1036 1066 1036 1064 1036 1062 1036 1060 1036 1058 1036 1056 1036 1054 1036 1052 1036 1050 1036 1048 1036 1046 1036 1044 1036 1042 1036 1040 1036 1038 1036 1036 1036 1034 1036 1032 1036 1030 1036 1028 1036 1026 1036 1024 1036 1022 1036 1020 1036 1018 1036 1016 1036 1014 1036 1012 1036 1010 1036 1008 1036 1006 1036 1004 1036 1002 1036 1000 1036 998 1036 996 1036 994 1036 992 1036 990 1036 988 1036 986 1036 984 1036 982 1036 980 1036 978 1036 976 1036 974 1036 972 1036 970 1036 968 1036 966 1036 964 1036 962 1036 960 1036 958 1036 956 1036 954 1036 952 1036 950 1036 948 1036 946 1036 944 1036 942 1036 940 1036 938 1036 936 1036 934 1036 932 1036 930 1036 928 1036 926 1036 924 1036 922 1036 920 1036 918 1036 916 1036 914 1036 912 1036 910 1036 908 1036 906 1036 904 1036 902 1036 900 1036 898 1036 896 1036 894 1036 892 1036 890 1036 888 1036 886 1036 884 1036 882 1036 880 1036 878 1036 876 1036 874 1036 872 1036 870 1036 868 1036 866 1036 864 1036 862 1036 860 1036 858 1036 856 1036 854 1036 852 1036 850 1036 848 1036 846 1036 844 1036 842 1036 840 1036 838 1036 836 1036 834 1036 832 1036 830 1036 828 1036 826 1036 824 1036 822 1036 820 1036 818 1036 816 1036 814 1036 812 1036 810 1036 808 1036 806 1036 804 1036 802 1036 800 1036 798 1036 796 1036 794 1036 792 1036 790 1036 788 1036 786 1036 784 1036 782 1036 780 1036 778 1036 776 1036 774 1036 772 1036 770 1036 768 1036 766 1036 764 1036 762 1036 760 1036 758 1036 756 1036 754 1036 752 1036 750 1036 748 1036 746 1036 744 1036 742 1036 740 1036 738 1036 736 1036 734 1036 732 1036 730 1035 728 1035 726 1034 724 1034 722 1034 720 1034 718 1034 716 1033 714 1033 712 1033 710 1033 708 1032 706 1032 704 1032 702 1030 700 1030 698 1030 696 1029 694 1026 692 1026 690 1025 688 1023 686 1023 684 1023 682 1021 680 1017 678 1015 676 1012 674 1012 672 1010 670 1009 668 1007 666 1005 664 1001 662 999 660 1001 658 1000 656 998 654 994 652 993 650 992 648 984 646 982 644 980 642 981 640 980 638 980 636 981 634 979 632 979 630 976 628 975 626 978 624 973 622 980 620 970 618 958 616 961 614 970 612 975 610 982 608 978 606 982 604 983 602 976 600 963 598 962 596 972 594 960 592 955 590 954 588 959 586 961 584 956 582 961 580 963 578 956 576 953 574 957 572 958 570 959 568 959 566 958 564 952 562 949 560 942 558 944 556 944 554 943 552 944 550 946 548 949 546 949 544 953 542 956 540 955 538 953 536 956 534 955 532 950 530 946 528 951 526 951 524 947 522 940 520 944 518 948 516 950 514 955 512 961 510 968 508 971 506 969 504 971 502 971 500 971 498 970 496 971 494 973 492 970 490 971 488 971 486 971 484 972 482 971 480 965 478 963 476 963 474 957 472 955 470 951 468 945 466 942 464 936 462 935 460 940 458 946 456 949 454 944 452 938 450 939 448 935 446 931 444 938 442 942 440 941 438 940 436 943 434 939 432 947 430 947 428 952 426 959 424 967 422 967 420 972 418 983 416 981 414 981 412 979 410 981 408 983 406 982 404 982 402 978 400 979 398 974 396 971 394 969 392 970 390 968 388 965 386 961 384 958 382 944 380 935 378 939 376 935 374 936 372 946 370 944 368 939 366 947 364 957 362 962 360 965 358 968 356 973 354 973 352 972 350 971 348 978 346 976 344 973 342 972 340 974 338 977 336 974 334 976 332 980 330 976 328 976 326 981 324 988 322 990 320 987 318 986 316 989 314 987 312 988 310 995 308 992 306 986 304 988 302 994 300 997 298 996 296 995 294 999 292 998 290 997 288 1001 286 1002 284 999 282 1001 280 1002 278 999 276 999 274 1002 272 1005 270 1004 268 1005 266 1007 264 1007 262 1013 260 1019 258 1019 256 1018 254 1017 252 1019 250 1021 248 1022 246 1021 244 1022 242 1022 240 1022 238 1023 236 1023 234 1024 232 1025 230 1026 228 1027 226 1027 224 1027 222 1026 220 1026 218 1027 216 1028 214 1028 212 1029 210 1029 208 1028 206 1028 204 1029 202 1029 200 1030 198 1030 196 1030 194 1030 192 1030 190 1030 188 1031 186 1031 184 1031 182 1032 180 1032 178 1032 176 1032 174 1032 172 1032 170 1033 168 1033 166 1033 164 1033 162 1033 160 1033 158 1033 156 1033 154 1033 152 1034 150 1034 148 1034 146 1034 144 1034 142 1034 140 1034 138 1034 136 1035 134 1035 132 1035 130 1035 128 1035 126 1035 124 1035 122 1035 120 1036 118 1036 116 1036Z" fill="#1f77b4"/><path transform="scale(.5)" d="m414 2055h0m41-63h0m4-12h0m5 67h0m15-4h0m5-75h0m6 72h0m7-87h0m3 86h0m6 1h0m1-106h0m3-2h0m4-2h0m0 106h0m3 4h0m1-149h0m2 29h0m6-55h0m0 18h0m2-8h0m2-23h0m1 8h0m2 18h0m1 133h0m3-138h0m4-7h0m5-44h0m3-2h0m1-4h0m1-15h0m0 39h0m2-61h0m1-32h0m0 83h0m2-7h0m4-7h0m6-8h0m3-35h0m0 6h0m3 16h0m0 206h0m1-223h0m2-26h0m1 12h0m1 10h0m1-26h0m3-6h0m0 55h0m4-11h0m1 18h0m1-20h0m5-7h0m1-61h0m0 85h0m1-17h0m5 205h0m1 5h0m1-242h0m1 240h0m2-221h0m0 230h0m3-249h0m0 9h0m0 8h0m2-29h0m1-2h0m1 19h0m2-19h0m2 7h0m0 237h0m1 0h0m2 5h0m1-218h0m1 225h0m2-2h0m3-271h0m0 28h0m2-15h0m0 245h0m1-286h0m4 28h0m0 259h0m1-250h0m1 4h0m1 12h0m0 231h0m2-247h0m1 28h0m2-34h0m0 9h0m4-55h0m0 40h0m1 2h0m1 0h0m2-9h0m1 21h0m0 13h0m3-18h0m1 246h0m1-275h0m1 260h0m1-262h0m4 2h0m0 6h0m2 17h0m0 230h0m1-306h0m0 61h0m0 28h0m0 3h0m1 222h0m1-358h0m2-20h0m0 11h0m0 60h0m1-4h0m1-13h0m0 17h0m0 29h0m0 32h0m2-89h0m1 81h0m3 241h0m1-242h0m1 18h0m0 6h0m0 225h0m1-254h0m3 16h0m3-1h0m1-6h0m0 10h0m0 231h0m2-224h0m3-39h0m4 270h0m2-230h0m0 232h0m2-3h0m1-287h0m0 50h0m1-18h0m0 249h0m3-277h0m1 36h0m1 237h0m3-275h0m1 26h0m0 254h0m3-269h0m1-3h0m1 9h0m4-83h0m0 69h0m0 6h0m0 10h0m0 2h0m0 253h0m1-237h0m3-41h0m0 33h0m1-37h0m1-20h0m0 11h0m0 26h0m1 251h0m1 4h0m1-298h0m0 10h0m0 290h0m1-9h0m1-4h0m3-308h0m0 44h0m0 258h0m2-307h0m1-82h0m0 40h0m0 21h0m1 12h0m1-62h0m0 51h0m1 5h0m0 26h0m1-15h0m2-41h0m0 325h0m1-396h0m0 117h0m1-124h0m1 70h0m0 30h0m0 2h0m0 23h0m1-44h0m0 333h0m0 10h0m1 3h0m1-316h0m0 302h0m1-18h0m1-356h0m0 15h0m0 45h0m0 20h0m0 285h0m0 53h0m1-368h0m1-207h0m0 8h0m0 62h0m0 108h0m0 347h0m1-518h0m0 107h0m0 22h0m0 9h0m1-69h0m0 27h0m0 1h0m0 26h0m0 0h0m1-165h0m0 36h0m0 42h0m0 46h0m0 56h0m0 57h0m1-229h0m0 60h0m0 16h0m0 145h0m0 21h0m0 288h0m0 9h0m1-422h0m0 158h0m0 267h0m2-312h0m0 3h0m0 46h0m1-22h0m0 20h0m0 280h0m1-405h0m0 52h0m0 7h0m0 29h0m0 54h0m0 238h0m1-318h0m0 47h0m0 2h0m0 303h0m1-390h0m0 79h0m1-12h0m1-50h0m0 26h0m0 14h0m1-159h0m0 8h0m0 112h0m0 9h0m1 51h0m1-93h0m0 33h0m0 33h0m0 32h0m0 5h0m0 11h0m0 14h0m1-87h0m0 80h0m0 278h0m1-290h0m0 16h0m1-72h0m1 35h0m1 24h0m0 21h0m0 296h0m1-347h0m0 60h0m0 7h0m1-44h0m1 317h0m1-378h0m0 80h0m0 13h0m0 14h0m0 327h0m1-318h0m1 10h0m1-63h0m0 326h0m0 21h0m1-304h0m0 286h0m2-297h0m1 308h0m1 8h0m2-324h0m1-38h0m0 370h0m2-383h0m0 5h0m0 379h0m1-362h0m0 12h0m0 15h0m0 3h0m2-36h0m0 349h0m1-322h0m0 332h0m1-346h0m0 4h0m2-181h0m1 84h0m0 42h0m0 56h0m0 394h0m2-440h0m0 400h0m1-368h0m0 32h0m1-35h0m1-270h0m0 292h0m0 5h0m1-9h0m0 336h0m1-498h0m0 65h0m0 453h0m1-10h0m1-477h0m0 86h0m0 38h0m1-62h0m0 28h0m1-123h0m0 2h0m0 111h0m0 25h0m1-60h0m0 85h0m0 368h0m1-490h0m0 9h0m0 41h0m0 56h0m0 21h0m1-108h0m0 36h0m0 48h0m0 8h0m1-92h0m1-33h0m0 153h0m1-236h0m0 67h0m0 83h0m0 36h0m0 29h0m0 365h0m1-521h0m0 516h0m1-481h0m0 158h0m1-181h0m0 43h0m0 25h0m0 433h0m1-487h0m0 160h0m1-133h0m0 12h0m0 101h0m1-78h0m0 419h0m1-431h0m0 58h0m1-14h0m1-16h0m0 56h0m0 19h0m0 324h0m1-403h0m0 26h0m0 21h0m1-200h0m0 137h0m0 61h0m1-29h0m0 5h0m0 46h0m0 12h0m1-123h0m0 3h0m0 16h0m0 59h0m0 20h0m2-55h0m1-47h0m1 85h0m1-138h0m0 147h0m0 15h0m0 363h0m1-412h0m0 22h0m1-14h0m1-177h0m0 29h0m0 70h0m0 2h0m0 6h0m1-122h0m0 91h0m0 36h0m0 19h0m0 444h0m1-449h0m0 33h0m1-212h0m0 161h0m0 28h0m0 6h0m1-106h0m0 86h0m0 37h0m1-77h0m0 468h0m0 42h0m1-501h0m1-73h0m0 109h0m0 26h0m0 19h0m0 389h0m1-608h0m1 196h0m1-99h0m0 48h0m0 66h0m1-196h0m0 35h0m0 79h0m0 25h0m1-28h0m0 115h0m0 339h0m0 15h0m1-447h0m0 30h0m1-58h0m0 125h0m0 353h0m1-418h0m0 10h0m1-143h0m0 124h0m0 43h0m1-19h0m0 43h0m0 350h0m1-452h0m0 32h0m0 409h0m0 10h0m1-448h0m0 425h0m1-341h0m0 4h0m0 6h0m1-123h0m0 51h0m0 55h0m0 339h0m1-458h0m0 54h0m0 426h0m1-560h0m0 9h0m0 3h0m0 74h0m1 31h0m0 17h0m0 21h0m0 19h0m0 28h0m1-115h0m0 464h0m1-439h0m0 66h0m0 9h0m2 13h0m0 348h0m1-568h0m0 53h0m0 106h0m0 33h0m0 19h0m0 337h0m0 2h0m1-426h0m0 22h0m0 44h0m1-174h0m0 15h0m0 102h0m1-66h0m0 36h0m0 32h0m0 43h0m1-67h0m0 25h0m0 15h0m0 46h0m0 7h0m0 365h0m1-429h0m0 6h0m0 392h0m0 6h0m2-389h0m1-82h0m0 51h0m0 62h0m1-97h0m0 447h0m0 40h0m1-493h0m0 485h0m2-474h0m0 2h0m1 63h0m0 1h0m0 440h0m1-521h0m0 33h0m0 21h0m0 409h0m0 2h0m1-531h0m0 550h0m0 9h0m1-665h0m0 160h0m0 38h0m0 13h0m1-201h0m0 222h0m0 10h0m1-175h0m1-111h0m0 282h0m0 399h0m1-634h0m0 127h0m0 53h0m1-58h0m0 43h0m0 5h0m0 49h0m0 6h0m1-61h0m0 46h0m0 27h0m1 389h0m0 7h0m1-584h0m0 45h0m0 525h0m1-581h0m0 171h0m1 408h0m2-620h0m0 5h0m0 147h0m0 74h0m1-84h0m0 469h0m1-478h0m0 29h0m0 25h0m0 40h0m1-23h0m0 5h0m0 27h0m1-68h0m0 6h0m0 42h0m1-78h0m0 43h0m0 11h0m0 435h0m1-495h0m0 117h0m1-241h0m0 63h0m0 131h0m0 16h0m0 399h0m1-354h0m1-67h0m0 33h0m1 4h0m0 24h0m0 389h0m1-497h0m0 17h0m0 99h0m1-188h0m1-55h0m1 84h0m0 7h0m0 17h0m0 10h0m0 37h0m0 36h0m0 49h0m1-135h0m0 24h0m0 49h0m0 35h0m1-15h0m0 21h0m0 26h0m0 362h0m2-597h0m0 40h0m0 67h0m0 506h0m1-496h0m0 14h0m0 5h0m0 57h0m0 425h0m1-643h0m0 248h0m0 386h0m1-410h0m1-162h0m0 25h0m0 145h0m0 1h0m1-157h0m0 13h0m1-35h0m0 75h0m0 40h0m0 2h0m0 80h0m0 21h0m0 357h0m0 28h0m1-411h0m0 9h0m0 391h0m1-439h0m0 6h0m0 3h0m0 45h0m0 362h0m0 67h0m1-694h0m0 274h0m2-32h0m1-84h0m0 37h0m0 65h0m2-15h0m1-48h0m0 50h0m0 7h0m1 32h0m0 337h0m1-409h0m0 57h0m0 9h0m1-62h0m0 30h0m0 3h0m1 15h0m1 19h0m1-14h0m0 30h0m1-274h0m0 262h0m0 4h0m1-258h0m0 195h0m1-112h0m0 5h0m0 45h0m0 7h0m0 17h0m1-105h0m0 135h0m1-105h0m0 178h0m1 18h0m1-1h0m0 18h0m2 11h0m0 3h0m1-64h0m0 44h0m0 324h0m2-294h0m0 292h0m2-324h0m0 332h0m0 15h0m1-292h0m0 311h0m1-21h0m1-282h0m3-66h0m1-36h0m0 65h0m0 31h0m1-26h0m0 10h0m1-151h0m0 109h0m0 48h0m0 346h0m1-472h0m0 107h0m1 327h0m0 65h0m1-454h0m0 17h0m0 48h0m0 315h0m1-425h0m0 50h0m0 379h0m1-331h0m0 27h0m0 12h0m1 314h0m1-403h0m1-69h0m0 104h0m0 11h0m0 12h0m1-47h0m0 58h0m1-25h0m0 36h0m1-49h0m0 53h0m0 300h0m1-382h0m0 53h0m0 28h0m0 8h0m2-64h0m0 34h0m0 330h0m0 12h0m1-353h0m0 48h0m0 323h0m1 9h0m1-387h0m1 44h0m1-19h0m0 2h0m0 345h0m1-540h0m0 193h0m0 30h0m1-65h0m0 58h0m2-43h0m0 339h0m0 33h0m1-410h0m0 54h0m0 361h0m1-409h0m0 11h0m0 7h0m0 11h0m0 43h0m1-35h0m0 28h0m0 328h0m1-9h0m1-478h0m0 140h0m0 333h0m1-532h0m0 162h0m0 21h0m1-169h0m0 527h0m1-438h0m0 83h0m2 9h0m1-151h0m0 14h0m0 2h0m1 47h0m0 39h0m1-9h0m0 35h0m0 21h0m0 11h0m1-190h0m0 46h0m0 17h0m0 2h0m0 75h0m0 22h0m0 371h0m1-385h0m0 18h0m0 354h0m1-361h0m0 16h0m1-65h0m0 8h0m0 63h0m0 14h0m0 7h0m1-208h0m0 147h0m1-53h0m0 458h0m1-382h0m1-53h0m0 405h0m0 32h0m1-547h0m0 513h0m1-401h0m0 22h0m0 38h0m0 22h0m1-178h0m1 3h0m0 91h0m0 413h0m1-450h0m0 74h0m0 388h0m0 6h0m0 11h0m1-395h0m0 358h0m1-364h0m0 372h0m0 16h0m1-522h0m0 189h0m0 328h0m1-321h0m1-24h0m1 22h0m0 319h0m1-332h0m1-17h0m0 11h0m0 330h0m2-395h0m0 16h0m0 34h0m0 4h0m2-4h0m0 7h0m0 333h0m1-439h0m1 41h0m0 7h0m0 30h0m0 0h0m0 43h0m1-65h0m0 13h0m1-111h0m0 117h0m0 25h0m1-231h0m0 74h0m0 494h0m0 3h0m1-408h0m0 26h0m0 384h0m1-423h0m0 92h0m1-58h0m0 25h0m0 15h0m1-52h0m0 65h0m1-93h0m0 12h0m0 8h0m0 386h0m1-436h0m0 79h0m0 37h0m2-133h0m0 60h0m0 55h0m1-62h0m0 10h0m0 370h0m1-324h0m0 11h0m1-39h0m0 45h0m0 28h0m1-50h0m0 34h0m1-67h0m0 372h0m0 1h0m1-429h0m0 37h0m0 387h0m0 1h0m1-394h0m1-12h0m0 22h0m1-189h0m0 124h0m0 63h0m0 44h0m1-255h0m0 156h0m0 94h0m0 11h0m0 366h0m1-584h0m0 49h0m0 16h0m0 70h0m0 98h0m0 303h0m1-572h0m0 182h0m0 3h0m0 38h0m0 49h0m1-181h0m0 85h0m0 31h0m0 51h0m0 6h0m1-170h0m0 114h0m0 367h0m0 11h0m1-26h0m1-322h0m0 1h0m0 358h0m1-487h0m0 69h0m0 37h0m0 355h0m0 27h0m2-393h0m0 375h0m0 24h0m1-427h0m1-92h0m0 102h0m0 14h0m1-65h0m1 72h0m0 15h0m0 10h0m0 24h0m0 319h0m1-363h0m0 39h0m0 341h0m1-347h0m0 15h0m0 324h0m1-379h0m0 3h0m0 29h0m2-20h0m0 40h0m1-46h0m0 37h0m0 21h0m0 307h0m0 60h0m1-371h0m0 10h0m0 349h0m1-391h0m0 5h0m0 361h0m0 32h0m1-462h0m0 38h0m0 388h0m1-503h0m1 129h0m1-71h0m0 120h0m1-158h0m0 19h0m0 122h0m0 39h0m1-77h0m0 50h0m0 322h0m1-355h0m0 19h0m0 22h0m2-110h0m0 7h0m1 431h0m1-7h0m1-467h0m0 61h0m0 52h0m1-86h0m1 112h0m0 324h0m1 8h0m1-426h0m0 39h0m0 44h0m0 330h0m1-404h0m0 21h0m1-110h0m0 16h0m0 40h0m0 15h0m0 64h0m1 26h0m1-149h0m0 76h0m0 18h0m0 33h0m0 10h0m1-18h0m0 20h0m2-102h0m0 58h0m0 390h0m1-443h0m1 56h0m0 8h0m1 30h0m0 352h0m0 3h0m1-488h0m0 88h0m0 40h0m1-94h0m0 478h0m1-446h0m0 48h0m1-58h0m0 3h0m1-84h0m0 91h0m0 407h0m0 26h0m1-420h0m0 19h0m0 396h0m1-17h0m0 41h0m1-602h0m0 139h0m0 441h0m1-432h0m0 7h0m1 420h0m0 10h0m1-654h0m0 260h0m1 356h0m0 40h0m1-487h0m1-142h0m0 11h0m0 98h0m0 90h0m0 408h0m0 17h0m1-618h0m0 47h0m0 117h0m0 19h0m0 37h0m0 388h0m1-571h0m0 24h0m0 28h0m0 0h0m0 10h0m0 13h0m1-38h0m0 42h0m0 21h0m0 41h0m1-6h0m0 420h0m1-630h0m0 107h0m0 87h0m0 4h0m0 28h0m0 2h0m0 18h0m1-233h0m0 109h0m0 1h0m0 34h0m0 13h0m0 477h0m1-545h0m0 44h0m0 525h0m1-521h0m1-191h0m0 9h0m0 78h0m0 36h0m0 12h0m0 21h0m0 500h0m1-689h0m0 118h0m0 15h0m0 8h0m0 10h0m0 2h0m0 84h0m0 31h0m0 32h0m0 407h0m1-4h0m1-668h0m0 219h0m0 59h0m0 382h0m1-701h0m0 169h0m0 43h0m1-125h0m0 54h0m0 156h0m1-250h0m0 7h0m0 96h0m0 30h0m0 62h0m0 16h0m0 12h0m1-161h0m0 100h0m0 54h0m0 438h0m0 16h0m1-453h0m0 22h0m0 2h0m1-286h0m0 10h0m0 86h0m0 96h0m0 44h0m1 451h0m0 25h0m1-509h0m0 63h0m0 471h0m1-462h0m1-2h0m2 449h0m0 65h0m1-694h0m1 616h0m1-568h0m0 102h0m0 30h0m0 2h0m0 427h0m1-418h0m1-44h0m0 66h0m0 438h0m1-455h0m1-59h0m0 39h0m0 448h0m1-547h0m0 77h0m0 8h0m0 5h0m0 40h0m1-115h0m0 57h0m0 23h0m0 469h0m2-567h0m0 104h0m0 25h0m0 433h0m1-479h0m0 30h0m0 472h0m1-630h0m1 134h0m0 34h0m0 31h0m0 409h0m0 10h0m0 24h0m1-461h0m0 12h0m0 414h0m0 17h0m1-513h0m0 4h0m1-146h0m0 189h0m0 13h0m1 436h0m0 11h0m1-578h0m0 88h0m1-39h0m0 33h0m0 61h0m1-5h0m0 420h0m1-522h0m0 79h0m1 11h0m0 452h0m1-505h0m1 25h0m0 23h0m0 13h0m0 6h0m1-42h0m0 22h0m1-13h0m0 458h0m0 10h0m1-645h0m0 144h0m0 514h0m1-521h0m0 487h0m0 24h0m1-643h0m0 102h0m0 6h0m0 79h0m0 13h0m1-119h0m0 5h0m1 561h0m1-432h0m0 414h0m1-599h0m0 63h0m0 31h0m0 12h0m0 2h0m0 15h0m0 468h0m2-478h0m0 68h0m0 12h0m1-102h0m0 80h0m0 14h0m1-108h0m0 0h0m0 12h0m0 65h0m1-18h0m1-31h0m0 11h0m0 11h0m1 5h0m0 20h0m1-24h0m0 14h0m0 53h0m0 413h0m1-530h0m0 57h0m0 20h0m0 18h0m1-204h0m0 239h0m0 391h0m1-484h0m1-91h0m1 187h0m0 397h0m2-466h0m0 77h0m2-20h0m0 417h0m0 16h0m1-440h0m0 15h0m1-7h0m0 26h0m0 395h0m1-411h0m0 393h0m1-418h0m0 35h0m0 415h0m2-477h0m0 5h0m0 47h0m2-133h0m0 54h0m0 39h0m1 11h0m0 407h0m0 22h0m3-398h0m1-230h0m0 136h0m0 505h0m1-398h0m1-63h0m0 33h0m0 403h0m1-424h0m0 8h0m0 444h0m1-409h0m0 14h0m0 6h0m0 376h0m1-435h0m0 30h0m0 11h0m0 25h0m2-41h0m1-157h0m0 13h0m0 189h0m0 364h0m1-420h0m0 18h0m1 407h0m1-462h0m0 28h0m0 40h0m0 14h0m0 384h0m1-491h0m0 16h0m0 7h0m0 25h0m1-214h0m0 58h0m0 66h0m0 16h0m0 86h0m0 7h0m0 43h0m1 363h0m0 22h0m1-520h0m0 37h0m0 8h0m0 28h0m0 40h0m1-316h0m0 228h0m0 28h0m1-64h0m0 26h0m1-108h0m0 88h0m0 0h0m0 33h0m0 24h0m0 77h0m0 10h0m1-100h0m0 24h0m0 31h0m0 28h0m1-88h0m0 42h0m0 21h0m0 22h0m1-4h0m1-97h0m0 517h0m0 24h0m1-468h0m0 13h0m1 435h0m1-481h0m0 37h0m2-109h0m0 568h0m2-499h0m0 78h0m0 25h0m1 441h0m1-477h0m0 4h0m0 22h0m0 399h0m0 6h0m1-413h0m0 404h0m1-484h0m1 31h0m0 10h0m1-214h0m0 139h0m0 19h0m0 534h0m1-491h0m0 489h0m1-598h0m0 19h0m0 126h0m0 406h0m1-460h0m0 50h0m0 429h0m1-414h0m0 404h0m1-439h0m0 15h0m0 404h0m2-416h0m0 426h0m0 15h0m1-521h0m0 27h0m0 47h0m0 411h0m1-474h0m0 19h0m0 91h0m0 387h0m0 1h0m0 51h0m1-475h0m1-66h0m0 36h0m0 71h0m0 367h0m1-460h0m0 89h0m1-43h0m0 393h0m1-513h0m0 143h0m1-63h0m0 78h0m0 382h0m3-461h0m0 71h0m1-53h0m0 4h0m0 16h0m0 21h0m0 380h0m0 9h0m0 20h0m1-477h0m0 462h0m0 8h0m1-614h0m0 184h0m0 13h0m0 438h0m1-578h0m0 21h0m0 36h0m1-50h0m0 7h0m0 81h0m0 14h0m0 4h0m0 33h0m1-238h0m0 179h0m0 15h0m1-188h0m0 10h0m0 53h0m0 60h0m0 535h0m1-571h0m0 39h0m0 41h0m0 29h0m1-171h0m1 30h0m0 23h0m0 26h0m1-24h0m0 63h0m0 35h0m0 501h0m1-612h0m0 146h0m0 436h0m0 11h0m1-629h0m0 172h0m1-145h0m0 112h0m0 45h0m0 430h0m1-694h0m0 113h0m0 26h0m0 21h0m0 47h0m1-81h0m0 25h0m0 5h0m0 35h0m0 513h0m1-557h0m1 117h0m1-147h0m0 47h0m0 14h0m1-146h0m0 96h0m0 8h0m0 53h0m1 507h0m0 9h0m0 22h0m1-735h0m0 10h0m0 208h0m0 10h0m0 6h0m1-183h0m0 32h0m0 66h0m0 571h0m1-709h0m0 77h0m1 79h0m0 79h0m0 466h0m1-546h0m0 28h0m0 55h0m0 20h0m0 478h0m1-675h0m0 189h0m0 12h0m1-116h0m1 123h0m1 8h0m0 8h0m0 446h0m1-360h0m0 342h0m1-509h0m0 133h0m0 362h0m0 17h0m1-366h0m0 42h0m1-89h0m0 12h0m0 18h0m0 9h0m0 46h0m1 330h0m1-350h0m0 355h0m1-513h0m0 65h0m0 16h0m0 36h0m0 27h0m0 24h0m1-119h0m0 47h0m1-36h0m0 79h0m0 31h0m0 6h0m1-125h0m0 60h0m0 38h0m1-197h0m1 10h0m0 172h0m0 47h0m0 314h0m1-426h0m0 2h0m0 18h0m0 6h0m1-50h0m0 107h0m1-14h0m0 7h0m0 346h0m1-374h0m0 376h0m1-379h0m0 7h0m0 43h0m0 1h0m0 337h0m1-336h0m1-39h0m0 64h0m1-116h0m0 65h0m1-3h0m0 84h0m1-19h0m1-74h0m0 27h0m0 349h0m1-313h0m2 0h0m0 28h0m1-29h0m0 31h0m1 33h0m1-4h0m0 15h0m1-74h0m0 25h0m1-7h0m0 17h0m1 31h0m0 267h0m1-285h0m0 6h0m1-91h0m0 58h0m0 35h0m1 284h0m1-308h0m0 11h0m0 26h0m3-13h0m0 22h0m0 251h0m1-289h0m0 47h0m0 8h0m0 244h0m3-293h0m1 23h0m1 7h0m0 4h0m0 271h0m1-263h0m0 21h0m0 232h0m1-279h0m3 69h0m0 15h0m0 229h0m1-265h0m0 10h0m0 21h0m2 200h0m0 12h0m1-298h0m0 100h0m0 194h0m2-212h0m2-5h0m3-25h0m0 33h0m0 6h0m0 1h0m0 16h0m0 186h0m1-263h0m0 50h0m0 216h0m1-177h0m1-31h0m1 10h0m1-12h0m1-64h0m0 52h0m0 28h0m0 206h0m1-176h0m1-19h0m0 13h0m2-15h0m0 208h0m1-157h0m0 157h0m1-237h0m0 84h0m1-27h0m0 7h0m1 166h0m2-145h0m0 138h0m1-165h0m0 20h0m0 26h0m1-12h0m0 11h0m3 129h0m3-134h0m0 6h0m0 7h0m3 10h0m3 3h0m2 10h0m12 36h0m8 2h0m2 78h0m1-84h0m1 9h0m2 23h0m0 55h0m2-61h0m1-13h0m1 8h0m1 8h0m2 5h0m6 12h0m1-6h0m5-5h0m2 21h0m1-3h0m8 9h0m1-2h0m2 9h0m6 35h0m4-4h0m1382-8h0m4-3h0" fill="none" stroke="#1f77b4" stroke-width="11.12" stroke-linecap="round"/><polyline points="116.5,1031.6 117.1,1031.6 117.7,1031.5 118.4,1031.5 119.0,1031.4 119.6,1031.4 120.2,1031.3 120.9,1031.3 121.5,1031.3 122.1,1031.2 122.7,1031.2 123.4,1031.1 124.0,1031.1 124.6,1031.0 125.2,1031.0 125.8,1030.9 126.5,1030.9 127.1,1030.9 127.7,1030.8 128.3,1030.8 129.0,1030.7 129.6,1030.7 130.2,1030.7 130.8,1030.6 131.5,1030.6 132.1,1030.5 132.7,1030.5 133.3,1030.4 133.9,1030.4 134.6,1030.3 135.2,1030.3 135.8,1030.3 136.4,1030.2 137.1,1030.2 137.7,1030.1 138.3,1030.1 138.9,1030.1 139.6,1030.0 140.2,1030.0 140.8,1029.9 141.4,1029.8 142.0,1029.8 142.7,1029.7 143.3,1029.7 143.9,1029.6 144.5,1029.6 145.2,1029.6 145.8,1029.6 146.4,1029.5 147.0,1029.4 147.7,1029.4 148.3,1029.4 148.9,1029.4 149.5,1029.3 150.2,1029.2 150.8,1029.2 151.4,1029.1 152.0,1029.1 152.6,1029.0 153.3,1029.0 153.9,1029.0 154.5,1028.9 155.1,1028.9 155.8,1028.9 156.4,1028.8 157.0,1028.7 157.6,1028.6 158.3,1028.6 158.9,1028.5 159.5,1028.6 160.1,1028.6 160.7,1028.5 161.4,1028.5 162.0,1028.5 162.6,1028.4 163.2,1028.4 163.9,1028.3 164.5,1028.2 165.1,1028.1 165.7,1028.1 166.4,1028.1 167.0,1028.2 167.6,1028.2 168.2,1028.1 168.8,1027.9 169.5,1027.8 170.1,1027.8 170.7,1027.8 171.3,1027.8 172.0,1027.8 172.6,1027.8 173.2,1027.7 173.8,1027.6 174.5,1027.5 175.1,1027.3 175.7,1027.0 176.3,1026.8 176.9,1026.7 177.6,1026.7 178.2,1026.6 178.8,1026.5 179.4,1026.3 180.1,1026.1 180.7,1025.9 181.3,1025.8 181.9,1025.7 182.6,1025.6 183.2,1025.4 183.8,1025.3 184.4,1025.3 185.0,1025.3 185.7,1025.1 186.3,1024.8 186.9,1024.6 187.5,1024.5 188.2,1024.3 188.8,1024.2 189.4,1024.1 190.0,1024.1 190.7,1024.0 191.3,1023.7 191.9,1023.6 192.5,1023.7 193.1,1023.8 193.8,1023.6 194.4,1023.3 195.0,1023.2 195.6,1023.1 196.3,1023.0 196.9,1023.0 197.5,1023.1 198.1,1022.9 198.8,1022.6 199.4,1022.5 200.0,1022.3 200.6,1022.1 201.2,1021.7 201.9,1021.5 202.5,1021.4 203.1,1021.3 203.7,1020.8 204.4,1020.5 205.0,1020.4 205.6,1020.2 206.2,1019.9 206.9,1019.8 207.5,1019.9 208.1,1019.8 208.7,1019.6 209.3,1019.4 210.0,1019.4 210.6,1019.4 211.2,1019.1 211.8,1018.9 212.5,1018.7 213.1,1018.3 213.7,1017.8 214.3,1017.6 215.0,1017.8 215.6,1017.8 216.2,1017.8 216.8,1017.8 217.4,1017.5 218.1,1017.0 218.7,1016.5 219.3,1016.4 219.9,1016.6 220.6,1016.5 221.2,1015.7 221.8,1014.8 222.4,1013.9 223.1,1013.5 223.7,1013.8 224.3,1013.9 224.9,1013.8 225.6,1014.0 226.2,1015.0 226.8,1015.9 227.4,1015.7 228.0,1014.7 228.7,1014.0 229.3,1013.5 229.9,1013.4 230.5,1013.2 231.2,1012.3 231.8,1011.2 232.4,1010.2 233.0,1010.1 233.7,1010.7 234.3,1011.3 234.9,1011.1 235.5,1010.2 236.1,1009.6 236.8,1009.4 237.4,1009.0 238.0,1008.7 238.6,1008.6 239.3,1008.3 239.9,1007.6 240.5,1007.5 241.1,1007.8 241.8,1007.2 242.4,1005.7 243.0,1004.9 243.6,1005.6 244.2,1007.5 244.9,1008.1 245.5,1006.8 246.1,1004.9 246.7,1002.9 247.4,1001.4 248.0,1000.7 248.6,1000.9 249.2,1001.7 249.9,1002.8 250.5,1002.3 251.1,1000.6 251.7,999.7 252.3,999.5 253.0,998.4 253.6,996.5 254.2,995.9 254.8,997.2 255.5,998.1 256.1,997.8 256.7,998.0 257.3,998.4 258.0,997.6 258.6,996.8 259.2,996.7 259.8,996.2 260.4,996.0 261.1,995.8 261.7,991.4 262.3,985.2 262.9,979.3 263.6,974.8 264.2,973.5 264.8,972.6 265.4,972.2 266.1,972.7 266.7,973.3 267.3,973.3 267.9,973.8 268.5,974.1 269.2,971.1 269.8,965.9 270.4,961.7 271.0,959.7 271.7,960.2 272.3,963.1 272.9,964.9 273.5,964.5 274.2,962.1 274.8,957.4 275.4,956.0 276.0,959.5 276.6,962.8 277.3,964.4 277.9,964.9 278.5,961.9 279.1,957.9 279.8,956.3 280.4,956.7 281.0,958.9 281.6,961.7 282.3,960.3 282.9,954.6 283.5,951.9 284.1,954.9 284.8,959.4 285.4,962.3 286.0,959.4 286.6,951.9 287.2,949.6 287.9,953.0 288.5,954.0 289.1,952.1 289.7,952.2 290.4,951.2 291.0,946.9 291.6,943.0 292.2,942.5 292.9,945.0 293.5,949.5 294.1,954.6 294.7,954.8 295.3,948.8 296.0,941.0 296.6,936.3 297.2,938.6 297.8,945.5 298.5,947.1 299.1,944.8 299.7,947.2 300.3,949.3 301.0,946.3 301.6,941.0 302.2,938.6 302.8,937.3 303.4,934.3 304.1,932.9 304.7,934.1 305.3,935.5 305.9,935.7 306.6,936.8 307.2,940.1 307.8,943.1 308.4,943.9 309.1,941.1 309.7,935.2 310.3,931.1 310.9,931.7 311.5,931.1 312.2,922.1 312.8,913.6 313.4,913.3 314.0,916.7 314.7,920.8 315.3,926.1 315.9,930.9 316.5,932.0 317.2,932.5 317.8,934.2 318.4,931.9 319.0,926.8 319.6,928.3 320.3,936.6 320.9,937.9 321.5,928.5 322.1,923.4 322.8,929.8 323.4,935.3 324.0,931.3 324.6,924.8 325.3,923.4 325.9,926.8 326.5,929.6 327.1,930.8 327.7,930.7 328.4,927.5 329.0,919.8 329.6,911.5 330.2,915.2 330.9,926.4 331.5,928.5 332.1,918.1 332.7,894.3 333.4,868.6 334.0,877.5 334.6,906.6 335.2,920.0 335.8,923.0 336.5,927.3 337.1,934.5 337.7,939.5 338.3,939.9 339.0,934.6 339.6,929.6 340.2,931.7 340.8,931.5 341.5,924.4 342.1,921.4 342.7,921.3 343.3,919.0 343.9,917.1 344.6,919.2 345.2,922.0 345.8,921.0 346.4,919.2 347.1,920.3 347.7,924.8 348.3,925.0 348.9,920.9 349.6,919.3 350.2,916.1 350.8,914.0 351.4,919.8 352.1,924.2 352.7,919.1 353.3,913.4 353.9,914.0 354.5,912.8 355.2,908.1 355.8,905.6 356.4,904.5 357.0,905.0 357.7,907.9 358.3,912.2 358.9,917.2 359.5,918.1 360.2,911.7 360.8,898.3 361.4,886.7 362.0,886.1 362.6,894.2 363.3,896.6 363.9,889.9 364.5,887.1 365.1,886.8 365.8,882.9 366.4,877.6 367.0,872.0 367.6,870.3 368.3,865.9 368.9,857.9 369.5,860.8 370.1,869.4 370.7,874.0 371.4,875.6 372.0,872.1 372.6,858.5 373.2,844.8 373.9,841.0 374.5,843.5 375.1,842.4 375.7,835.3 376.4,827.1 377.0,825.7 377.6,833.0 378.2,847.5 378.8,862.7 379.5,865.8 380.1,861.3 380.7,858.5 381.3,856.7 382.0,863.7 382.6,881.7 383.2,890.1 383.8,887.3 384.5,879.8 385.1,873.7 385.7,880.1 386.3,891.8 386.9,901.5 387.6,900.4 388.2,895.9 388.8,902.1 389.4,909.1 390.1,905.2 390.7,897.4 391.3,895.1 391.9,900.0 392.6,907.6 393.2,911.8 393.8,912.8 394.4,910.4 395.0,904.5 395.7,902.4 396.3,907.2 396.9,911.8 397.5,914.4 398.2,916.8 398.8,921.1 399.4,924.5 400.0,925.7 400.7,925.9 401.3,924.9 401.9,923.7 402.5,922.4 403.1,921.7 403.8,921.3 404.4,922.5 405.0,927.9 405.6,933.8 406.3,937.0 406.9,935.1 407.5,933.0 408.1,932.2 408.8,923.3 409.4,919.2 410.0,924.8 410.6,929.4 411.2,930.3 411.9,927.7 412.5,922.1 413.1,918.7 413.7,919.6 414.4,924.6 415.0,926.3 415.6,919.5 416.2,910.4 416.9,906.0 417.5,902.4 418.1,898.4 418.7,900.4 419.4,906.4 420.0,906.2 420.6,897.5 421.2,890.0 421.8,889.0 422.5,887.9 423.1,885.9 423.7,881.4 424.3,872.5 425.0,870.1 425.6,874.1 426.2,870.6 426.8,859.1 427.5,853.0 428.1,857.4 428.7,869.2 429.3,877.0 429.9,869.5 430.6,857.3 431.2,859.6 431.8,869.2 432.4,870.6 433.1,872.4 433.7,884.2 434.3,885.6 434.9,873.8 435.6,870.1 436.2,877.5 436.8,882.0 437.4,870.2 438.0,855.1 438.7,855.1 439.3,859.1 439.9,860.8 440.5,861.7 441.2,856.5 441.8,852.6 442.4,852.1 443.0,845.7 443.7,838.6 444.3,838.7 444.9,840.0 445.5,844.2 446.1,850.1 446.8,843.5 447.4,830.7 448.0,822.3 448.6,813.5 449.3,811.4 449.9,822.6 450.5,836.4 451.1,839.4 451.8,833.9 452.4,834.7 453.0,843.6 453.6,852.6 454.2,850.4 454.9,842.6 455.5,843.5 456.1,849.8 456.7,842.2 457.4,826.5 458.0,822.3 458.6,827.1 459.2,830.2 459.9,832.9 460.5,833.3 461.1,825.3 461.7,825.2 462.3,845.3 463.0,864.4 463.6,866.3 464.2,861.0 464.8,860.9 465.5,860.6 466.1,855.5 466.7,855.1 467.3,859.9 468.0,859.7 468.6,851.3 469.2,845.0 469.8,847.6 470.4,851.0 471.1,851.6 471.7,855.0 472.3,862.9 472.9,869.1 473.6,871.4 474.2,872.0 474.8,869.4 475.4,865.2 476.1,871.6 476.7,879.9 477.3,884.0 477.9,889.8 478.5,892.1 479.2,891.5 479.8,895.3 480.4,901.7 481.0,904.7 481.7,901.3 482.3,898.2 482.9,895.6 483.5,890.0 484.2,888.0 484.8,893.8 485.4,901.5 486.0,905.3 486.6,898.4 487.3,886.0 487.9,881.1 488.5,880.4 489.1,879.1 489.8,882.6 490.4,886.7 491.0,888.0 491.6,886.9 492.3,882.1 492.9,879.4 493.5,884.3 494.1,887.9 494.8,888.9 495.4,896.5 496.0,901.5 496.6,895.1 497.2,885.5 497.9,883.3 498.5,886.7 499.1,888.5 499.7,890.6 500.4,899.5 501.0,904.8 501.6,901.4 502.2,899.6 502.9,902.7 503.5,908.1 504.1,914.5 504.7,921.6 505.3,925.7 506.0,923.4 506.6,920.8 507.2,919.9 507.8,915.2 508.5,906.4 509.1,899.5 509.7,898.5 510.3,897.3 511.0,889.5 511.6,886.4 512.2,890.2 512.8,894.3 513.4,896.6 514.1,893.9 514.7,889.6 515.3,889.4 515.9,895.0 516.6,899.0 517.2,896.8 517.8,885.9 518.4,881.7 519.1,890.0 519.7,888.2 520.3,870.8 520.9,858.7 521.5,861.7 522.2,873.4 522.8,877.5 523.4,875.1 524.0,876.3 524.7,877.6 525.3,878.4 525.9,881.8 526.5,888.0 527.2,896.1 527.8,899.3 528.4,891.8 529.0,882.3 529.6,874.1 530.3,871.8 530.9,871.4 531.5,865.5 532.1,868.2 532.8,883.3 533.4,894.7 534.0,897.4 534.6,893.0 535.3,883.6 535.9,877.8 536.5,876.5 537.1,876.7 537.7,875.4 538.4,876.8 539.0,882.1 539.6,883.3 540.2,882.8 540.9,885.9 541.5,888.0 542.1,882.9 542.7,871.3 543.4,858.9 544.0,854.8 544.6,851.6 545.2,842.6 545.8,838.1 546.5,840.1 547.1,843.1 547.7,844.7 548.3,843.1 549.0,844.5 549.6,846.9 550.2,844.3 550.8,846.5 551.5,851.9 552.1,844.5 552.7,830.8 553.3,829.4 554.0,837.4 554.6,838.9 555.2,832.2 555.8,825.4 556.4,822.0 557.1,823.2 557.7,827.3 558.3,831.9 558.9,832.8 559.6,829.5 560.2,827.8 560.8,838.0 561.4,849.9 562.1,847.5 562.7,838.4 563.3,833.9 563.9,840.7 564.5,850.4 565.2,847.2 565.8,835.6 566.4,829.6 567.0,829.0 567.7,829.8 568.3,835.2 568.9,839.8 569.5,834.9 570.2,825.6 570.8,821.4 571.4,824.1 572.0,833.1 572.6,835.6 573.3,824.3 573.9,812.6 574.5,817.7 575.1,842.7 575.8,860.4 576.4,852.6 577.0,845.3 577.6,849.1 578.3,857.3 578.9,863.0 579.5,862.3 580.1,850.8 580.7,839.7 581.4,838.6 582.0,844.8 582.6,855.7 583.2,858.9 583.9,854.7 584.5,848.6 585.1,840.9 585.7,839.0 586.4,845.7 587.0,852.9 587.6,855.5 588.2,856.7 588.8,854.4 589.5,850.8 590.1,851.3 590.7,858.7 591.3,863.2 592.0,852.7 592.6,840.6 593.2,839.3 593.8,855.3 594.5,878.1 595.1,878.4 595.7,862.8 596.3,860.8 596.9,867.3 597.6,860.4 598.2,849.1 598.8,849.7 599.4,855.6 600.1,858.7 600.7,857.4 601.3,855.7 601.9,862.6 602.6,873.7 603.2,877.0 603.8,877.2 604.4,885.4 605.0,889.5 605.7,883.1 606.3,878.4 606.9,877.0 607.5,875.9 608.2,875.6 608.8,878.7 609.4,882.2 610.0,879.3 610.7,872.8 611.3,867.2 611.9,862.4 612.5,862.2 613.1,876.1 613.8,892.0 614.4,895.5 615.0,891.1 615.6,884.1 616.3,876.6 616.9,866.5 617.5,858.8 618.1,866.5 618.8,886.2 619.4,897.6 620.0,895.1 620.6,883.5 621.2,877.3 621.9,884.8 622.5,892.2 623.1,893.5 623.7,893.3 624.4,890.6 625.0,895.8 625.6,903.7 626.2,901.2 626.9,899.9 627.5,895.1 628.1,885.9 628.7,887.0 629.4,893.2 630.0,892.1 630.6,888.1 631.2,891.2 631.8,895.3 632.5,893.1 633.1,885.6 633.7,879.9 634.3,879.9 635.0,884.3 635.6,892.3 636.2,899.1 636.8,905.0 637.5,908.5 638.1,910.2 638.7,913.3 639.3,916.8 639.9,912.9 640.6,906.6 641.2,906.4 641.8,910.5 642.4,911.8 643.1,908.1 643.7,906.5 644.3,911.8 644.9,920.6 645.6,926.9 646.2,931.2 646.8,934.5 647.4,932.8 648.0,928.4 648.7,928.0 649.3,931.5 649.9,935.5 650.5,935.5 651.2,936.4 651.8,941.3 652.4,942.7 653.0,940.2 653.7,942.8 654.3,947.9 654.9,949.5 655.5,950.0 656.1,951.1 656.8,952.7 657.4,956.1 658.0,959.5 658.6,960.3 659.3,958.3 659.9,953.7 660.5,950.9 661.1,953.2 661.8,957.8 662.4,958.4 663.0,955.0 663.6,954.1 664.2,957.6 664.9,962.6 665.5,966.2 666.1,967.4 666.7,968.3 667.4,967.8 668.0,966.4 668.6,965.0 669.2,963.0 669.9,964.8 670.5,971.6 671.1,976.8 671.7,979.3 672.3,980.5 673.0,979.4 673.6,979.7 674.2,982.9 674.8,984.5 675.5,984.7 676.1,985.8 676.7,987.4 677.3,989.9 678.0,991.7 678.6,991.1 679.2,990.6 679.8,992.2 680.4,994.4 681.1,996.3 681.7,997.3 682.3,997.2 682.9,999.0 683.6,1001.6 684.2,1003.7 684.8,1003.9 685.4,1002.9 686.1,1003.2 686.7,1005.5 687.3,1007.0 687.9,1006.3 688.5,1006.2 689.2,1007.9 689.8,1010.3 690.4,1012.3 691.0,1013.4 691.7,1013.2 692.3,1011.9 692.9,1011.6 693.5,1013.2 694.2,1015.2 694.8,1016.0 695.4,1016.3 696.0,1016.8 696.7,1017.8 697.3,1018.9 697.9,1019.5 698.5,1019.4 699.1,1019.1 699.8,1019.2 700.4,1019.3 701.0,1020.0 701.6,1021.4 702.3,1022.9 702.9,1023.7 703.5,1023.6 704.1,1023.5 704.8,1023.9 705.4,1024.4 706.0,1024.8 706.6,1025.3 707.2,1025.8 707.9,1026.0 708.5,1026.2 709.1,1026.7 709.7,1027.1 710.4,1027.0 711.0,1026.7 711.6,1026.9 712.2,1027.3 712.9,1027.6 713.5,1027.6 714.1,1027.7 714.7,1028.0 715.3,1028.2 716.0,1028.5 716.6,1028.8 717.2,1029.0 717.8,1029.2 718.5,1029.4 719.1,1029.6 719.7,1029.6 720.3,1029.7 721.0,1029.9 721.6,1030.1 722.2,1030.2 722.8,1030.3 723.4,1030.3 724.1,1030.3 724.7,1030.4 725.3,1030.5 725.9,1030.6 726.6,1030.7 727.2,1030.8 727.8,1030.9 728.4,1031.0 729.1,1031.0 729.7,1031.1 730.3,1031.2 730.9,1031.3 731.5,1031.4 732.2,1031.4 732.8,1031.5 733.4,1031.6 734.0,1031.6 734.7,1031.6 735.3,1031.6 735.9,1031.7 736.5,1031.7 737.2,1031.7 737.8,1031.7 738.4,1031.7 739.0,1031.7 739.6,1031.7 740.3,1031.7 740.9,1031.7 741.5,1031.7 742.1,1031.8 742.8,1031.8 743.4,1031.8 744.0,1031.8 744.6,1031.8 745.3,1031.8 745.9,1031.8 746.5,1031.8 747.1,1031.8 747.7,1031.8 748.4,1031.9 749.0,1031.9 749.6,1031.9 750.2,1031.9 750.9,1031.9 751.5,1031.9 752.1,1031.9 752.7,1031.9 753.4,1031.9 754.0,1031.9 754.6,1031.9 755.2,1031.9 755.9,1031.9 756.5,1031.9 757.1,1031.9 757.7,1031.9 758.3,1031.9 759.0,1031.9 759.6,1031.9 760.2,1031.9 760.8,1031.9 761.5,1031.9 762.1,1031.9 762.7,1031.9 763.3,1031.9 764.0,1031.9 764.6,1031.9 765.2,1031.9 765.8,1031.9 766.4,1031.9 767.1,1031.9 767.7,1031.9 768.3,1031.9 768.9,1031.9 769.6,1031.9 770.2,1031.9 770.8,1031.9 771.4,1031.9 772.1,1031.9 772.7,1031.9 773.3,1031.9 773.9,1031.9 774.5,1031.9 775.2,1031.9 775.8,1031.9 776.4,1031.9 777.0,1031.9 777.7,1031.9 778.3,1031.9 778.9,1031.9 779.5,1031.9 780.2,1031.9 780.8,1031.9 781.4,1031.9 782.0,1031.9 782.6,1031.9 783.3,1031.9 783.9,1031.9 784.5,1031.9 785.1,1031.9 785.8,1031.9 786.4,1031.9 787.0,1031.9 787.6,1031.9 788.3,1031.9 788.9,1031.9 789.5,1031.9 790.1,1031.9 790.7,1031.9 791.4,1031.9 792.0,1031.9 792.6,1031.9 793.2,1031.9 793.9,1031.9 794.5,1031.9 795.1,1031.9 795.7,1031.9 796.4,1031.9 797.0,1031.9 797.6,1031.9 798.2,1031.9 798.8,1031.9 799.5,1031.9 800.1,1031.9 800.7,1031.9 801.3,1031.9 802.0,1031.9 802.6,1031.9 803.2,1031.9 803.8,1031.9 804.5,1031.9 805.1,1031.9 805.7,1031.9 806.3,1031.9 806.9,1031.9 807.6,1031.9 808.2,1031.9 808.8,1031.9 809.4,1031.9 810.1,1031.9 810.7,1031.9 811.3,1031.9 811.9,1031.9 812.6,1031.9 813.2,1031.9 813.8,1031.9 814.4,1031.9 815.0,1031.9 815.7,1031.9 816.3,1031.9 816.9,1031.9 817.5,1031.9 818.2,1031.9 818.8,1031.9 819.4,1031.9 820.0,1031.9 820.7,1031.9 821.3,1031.9 821.9,1031.9 822.5,1031.9 823.1,1031.9 823.8,1031.9 824.4,1031.9 825.0,1031.9 825.6,1031.9 826.3,1031.9 826.9,1031.9 827.5,1031.9 828.1,1031.9 828.8,1031.9 829.4,1031.9 830.0,1031.9 830.6,1031.9 831.3,1031.9 831.9,1031.9 832.5,1031.9 833.1,1031.9 833.7,1031.9 834.4,1031.9 835.0,1031.9 835.6,1031.9 836.2,1031.9 836.9,1031.9 837.5,1031.9 838.1,1031.9 838.7,1031.9 839.4,1031.9 840.0,1031.9 840.6,1031.9 841.2,1031.9 841.8,1031.9 842.5,1031.9 843.1,1031.9 843.7,1031.9 844.3,1031.9 845.0,1031.9 845.6,1031.9 846.2,1031.9 846.8,1031.9 847.5,1031.9 848.1,1031.9 848.7,1031.9 849.3,1031.9 849.9,1031.9 850.6,1031.9 851.2,1031.9 851.8,1031.9 852.4,1031.9 853.1,1031.9 853.7,1031.9 854.3,1031.9 854.9,1031.9 855.6,1031.9 856.2,1031.9 856.8,1031.9 857.4,1031.9 858.0,1031.9 858.7,1031.9 859.3,1031.9 859.9,1031.9 860.5,1031.9 861.2,1031.9 861.8,1031.9 862.4,1031.9 863.0,1031.9 863.7,1031.9 864.3,1031.9 864.9,1031.9 865.5,1031.9 866.1,1031.9 866.8,1031.9 867.4,1031.9 868.0,1031.9 868.6,1031.9 869.3,1031.9 869.9,1031.9 870.5,1031.9 871.1,1031.9 871.8,1031.9 872.4,1031.9 873.0,1031.9 873.6,1031.9 874.2,1031.9 874.9,1031.9 875.5,1031.9 876.1,1031.9 876.7,1031.9 877.4,1031.9 878.0,1031.9 878.6,1031.9 879.2,1031.9 879.9,1031.9 880.5,1031.9 881.1,1031.9 881.7,1031.9 882.3,1031.9 883.0,1031.9 883.6,1031.9 884.2,1031.9 884.8,1031.9 885.5,1031.9 886.1,1031.9 886.7,1031.9 887.3,1031.9 888.0,1031.9 888.6,1031.9 889.2,1031.9 889.8,1031.9 890.5,1031.9 891.1,1031.9 891.7,1031.9 892.3,1031.9 892.9,1031.9 893.6,1031.9 894.2,1031.9 894.8,1031.9 895.4,1031.9 896.1,1031.9 896.7,1031.9 897.3,1031.9 897.9,1031.9 898.6,1031.9 899.2,1031.9 899.8,1031.9 900.4,1031.9 901.0,1031.9 901.7,1031.9 902.3,1031.9 902.9,1031.9 903.5,1031.9 904.2,1031.9 904.8,1031.9 905.4,1031.9 906.0,1031.9 906.7,1031.9 907.3,1031.9 907.9,1031.9 908.5,1031.9 909.1,1031.9 909.8,1031.9 910.4,1031.9 911.0,1031.9 911.6,1031.9 912.3,1031.9 912.9,1031.9 913.5,1031.9 914.1,1031.9 914.8,1031.9 915.4,1031.9 916.0,1031.9 916.6,1031.9 917.2,1031.9 917.9,1031.9 918.5,1031.9 919.1,1031.9 919.7,1031.9 920.4,1031.9 921.0,1031.9 921.6,1031.9 922.2,1031.9 922.9,1031.9 923.5,1031.9 924.1,1031.9 924.7,1031.9 925.3,1031.9 926.0,1031.9 926.6,1031.9 927.2,1031.9 927.8,1031.9 928.5,1031.9 929.1,1031.9 929.7,1031.9 930.3,1031.9 931.0,1031.9 931.6,1031.9 932.2,1031.9 932.8,1031.9 933.4,1031.9 934.1,1031.9 934.7,1031.9 935.3,1031.9 935.9,1031.9 936.6,1031.9 937.2,1031.9 937.8,1031.9 938.4,1031.9 939.1,1031.9 939.7,1031.9 940.3,1031.9 940.9,1031.9 941.5,1031.9 942.2,1031.9 942.8,1031.9 943.4,1031.9 944.0,1031.9 944.7,1031.9 945.3,1031.9 945.9,1031.9 946.5,1031.9 947.2,1031.9 947.8,1031.9 948.4,1031.9 949.0,1031.9 949.6,1031.9 950.3,1031.9 950.9,1031.9 951.5,1031.9 952.1,1031.9 952.8,1031.9 953.4,1031.9 954.0,1031.9 954.6,1031.9 955.3,1031.9 955.9,1031.9 956.5,1031.9 957.1,1031.9 957.8,1031.9 958.4,1031.9 959.0,1031.9 959.6,1031.9 960.2,1031.9 960.9,1031.9 961.5,1031.9 962.1,1031.9 962.7,1031.9 963.4,1031.9 964.0,1031.9 964.6,1031.9 965.2,1031.9 965.9,1031.9 966.5,1031.9 967.1,1031.9 967.7,1031.9 968.3,1031.9 969.0,1031.9 969.6,1031.9 970.2,1031.9 970.8,1031.9 971.5,1031.9 972.1,1031.9 972.7,1031.9 973.3,1031.9 974.0,1031.9 974.6,1031.9 975.2,1031.9 975.8,1031.9 976.4,1031.9 977.1,1031.9 977.7,1031.9 978.3,1031.9 978.9,1031.9 979.6,1031.9 980.2,1031.9 980.8,1031.9 981.4,1031.9 982.1,1031.9 982.7,1031.9 983.3,1031.9 983.9,1031.9 984.5,1031.9 985.2,1031.9 985.8,1031.9 986.4,1031.9 987.0,1031.9 987.7,1031.9 988.3,1031.9 988.9,1031.9 989.5,1031.9 990.2,1031.9 990.8,1031.9 991.4,1031.9 992.0,1031.9 992.6,1031.9 993.3,1031.9 993.9,1031.9 994.5,1031.9 995.1,1031.9 995.8,1031.9 996.4,1031.9 997.0,1031.9 997.6,1031.9 998.3,1031.9 998.9,1031.9 999.5,1031.9 1000.1,1031.9 1000.7,1031.9 1001.4,1031.9 1002.0,1031.9 1002.6,1031.9 1003.2,1031.9 1003.9,1031.9 1004.5,1031.9 1005.1,1031.9 1005.7,1031.9 1006.4,1031.9 1007.0,1031.9 1007.6,1031.9 1008.2,1031.9 1008.8,1031.9 1009.5,1031.9 1010.1,1031.9 1010.7,1031.9 1011.3,1031.9 1012.0,1031.9 1012.6,1031.9 1013.2,1031.9 1013.8,1031.9 1014.5,1031.9 1015.1,1031.9 1015.7,1031.9 1016.3,1031.9 1016.9,1031.9 1017.6,1031.9 1018.2,1031.9 1018.8,1031.9 1019.4,1031.9 1020.1,1031.9 1020.7,1031.9 1021.3,1031.9 1021.9,1031.9 1022.6,1031.9 1023.2,1031.9 1023.8,1031.9 1024.4,1031.9 1025.0,1031.9 1025.7,1031.9 1026.3,1031.9 1026.9,1031.9 1027.5,1031.9 1028.2,1031.9 1028.8,1031.9 1029.4,1031.9 1030.0,1031.9 1030.7,1031.9 1031.3,1031.9 1031.9,1031.9 1032.5,1031.9 1033.2,1031.9 1033.8,1031.9 1034.4,1031.9 1035.0,1031.9 1035.6,1031.9 1036.3,1031.9 1036.9,1031.9 1037.5,1031.9 1038.1,1031.9 1038.8,1031.9 1039.4,1031.9 1040.0,1031.9 1040.6,1031.9 1041.3,1031.9 1041.9,1031.9 1042.5,1031.9 1043.1,1031.9 1043.7,1031.9 1044.4,1031.9 1045.0,1031.9 1045.6,1031.9 1046.2,1031.9 1046.9,1031.9 1047.5,1031.9 1048.1,1031.9 1048.7,1031.9 1049.4,1031.9 1050.0,1031.9 1050.6,1031.9 1051.2,1031.9 1051.8,1031.9 1052.5,1031.9 1053.1,1031.9 1053.7,1031.9 1054.3,1031.9 1055.0,1031.9 1055.6,1031.9 1056.2,1031.9 1056.8,1031.9 1057.5,1031.9 1058.1,1031.9 1058.7,1031.9 1059.3,1031.9 1059.9,1031.9 1060.6,1031.9 1061.2,1031.9 1061.8,1031.9 1062.4,1031.9 1063.1,1031.9 1063.7,1031.9 1064.3,1031.9 1064.9,1031.9 1065.6,1031.9 1066.2,1031.9 1066.8,1031.9 1067.4,1031.9 1068.0,1031.9 1068.7,1031.9 1069.3,1031.9 1069.9,1031.9 1070.5,1031.9 1071.2,1031.9 1071.8,1031.9 1072.4,1031.9 1073.0,1031.9 1073.7,1031.9 1074.3,1031.9 1074.9,1031.9 1075.5,1031.9 1076.1,1031.9 1076.8,1031.9 1077.4,1031.9 1078.0,1031.9 1078.6,1031.9 1079.3,1031.9 1079.9,1031.9 1080.5,1031.9 1081.1,1031.9 1081.8,1031.9 1082.4,1031.9 1083.0,1031.9 1083.6,1031.9 1084.2,1031.9 1084.9,1031.9 1085.5,1031.9 1086.1,1031.9 1086.7,1031.9 1087.4,1031.9 1088.0,1031.9 1088.6,1031.9 1089.2,1031.9 1089.9,1031.9 1090.5,1031.9 1091.1,1031.9 1091.7,1031.9 1092.3,1031.9 1093.0,1031.9 1093.6,1031.9 1094.2,1031.9 1094.8,1031.9 1095.5,1031.9 1096.1,1031.9 1096.7,1031.9 1097.3,1031.9 1098.0,1031.9 1098.6,1031.9 1099.2,1031.9 1099.8,1031.9 1100.5,1031.9 1101.1,1031.9 1101.7,1031.9 1102.3,1031.9 1102.9,1031.9 1103.6,1031.9 1104.2,1031.9 1104.8,1031.9 1105.4,1031.9 1106.1,1031.9 1106.7,1031.9 1107.3,1031.9 1107.9,1031.9 1108.6,1031.9 1109.2,1031.9 1109.8,1031.9 1110.4,1031.9 1111.0,1031.9 1111.7,1031.9 1112.3,1031.9 1112.9,1031.9 1113.5,1031.9 1114.2,1031.9 1114.8,1031.9 1115.4,1031.9 1116.0,1031.9 1116.7,1031.9 1117.3,1031.9 1117.9,1031.9 1118.5,1031.9 1119.1,1031.9 1119.8,1031.9 1120.4,1031.9 1121.0,1031.9 1121.6,1031.9 1122.3,1031.9 1122.9,1031.9 1123.5,1031.9 1124.1,1031.9 1124.8,1031.9 1125.4,1031.9 1126.0,1031.9 1126.6,1031.9 1127.2,1031.9 1127.9,1031.9 1128.5,1031.9 1129.1,1031.9 1129.7,1031.9 1130.4,1031.9 1131.0,1031.9 1131.6,1031.9 1132.2,1031.9 1132.9,1031.9 1133.5,1031.9 1134.1,1031.9 1134.7,1031.9 1135.3,1031.9 1136.0,1031.9 1136.6,1031.9 1137.2,1031.9 1137.8,1031.9 1138.5,1031.9 1139.1,1031.9 1139.7,1031.9 1140.3,1031.9 1141.0,1031.9 1141.6,1031.9 1142.2,1031.9 1142.8,1031.9 1143.4,1031.9 1144.1,1031.9 1144.7,1031.9 1145.3,1031.9 1145.9,1031.9 1146.6,1031.9 1147.2,1031.9 1147.8,1031.9 1148.4,1031.9 1149.1,1031.9 1149.7,1031.9 1150.3,1031.9 1150.9,1031.9 1151.5,1031.9 1152.2,1031.9 1152.8,1031.9 1153.4,1031.9 1154.0,1031.9 1154.7,1031.9 1155.3,1031.9 1155.9,1031.9 1156.5,1031.9 1157.2,1031.9 1157.8,1031.9 1158.4,1031.9 1159.0,1031.9 1159.7,1031.9 1160.3,1031.9 1160.9,1031.9 1161.5,1031.9 1162.1,1031.9 1162.8,1031.9 1163.4,1031.9 1164.0,1031.9 1164.6,1031.9 1165.3,1031.9 1165.9,1031.9 1166.5,1031.9 1167.1,1031.9 1167.8,1031.9 1168.4,1031.9 1169.0,1031.9 1169.6,1031.9 1170.2,1031.9 1170.9,1031.9 1171.5,1031.9 1172.1,1031.9 1172.7,1031.9 1173.4,1031.9 1174.0,1031.9 1174.6,1031.9 1175.2,1031.9 1175.9,1031.9 1176.5,1031.9 1177.1,1031.9 1177.7,1031.9 1178.3,1031.9 1179.0,1031.9 1179.6,1031.9 1180.2,1031.9 1180.8,1031.9 1181.5,1031.9 1182.1,1031.9 1182.7,1031.9 1183.3,1031.9 1184.0,1031.9 1184.6,1031.9 1185.2,1031.9 1185.8,1031.9 1186.4,1031.9 1187.1,1031.9 1187.7,1031.9 1188.3,1031.9 1188.9,1031.9 1189.6,1031.9 1190.2,1031.9 1190.8,1031.9 1191.4,1031.9 1192.1,1031.9 1192.7,1031.9 1193.3,1031.9 1193.9,1031.9 1194.5,1031.9 1195.2,1031.9 1195.8,1031.9 1196.4,1031.9 1197.0,1031.9 1197.7,1031.9 1198.3,1031.9 1198.9,1031.9 1199.5,1031.9 1200.2,1031.9 1200.8,1031.9 1201.4,1031.9 1202.0,1031.9 1202.6,1031.9 1203.3,1031.9 1203.9,1031.9 1204.5,1031.9 1205.1,1031.9 1205.8,1031.9 1206.4,1031.9 1207.0,1031.9 1207.6,1031.9 1208.3,1031.9 1208.9,1031.9 1209.5,1031.9 1210.1,1031.9 1210.7,1031.9 1211.4,1031.9 1212.0,1031.9 1212.6,1031.9 1213.2,1031.9 1213.9,1031.9 1214.5,1031.9 1215.1,1031.9 1215.7,1031.9 1216.4,1031.9 1217.0,1031.9 1217.6,1031.9 1218.2,1031.9 1218.8,1031.9 1219.5,1031.9 1220.1,1031.9 1220.7,1031.9 1221.3,1031.9 1222.0,1031.9 1222.6,1031.9 1223.2,1031.9 1223.8,1031.9 1224.5,1031.9 1225.1,1031.9 1225.7,1031.9 1226.3,1031.9 1227.0,1031.9 1227.6,1031.9 1228.2,1031.9 1228.8,1031.9 1229.4,1031.9 1230.1,1031.9 1230.7,1031.9 1231.3,1031.9 1231.9,1031.9 1232.6,1031.9 1233.2,1031.9 1233.8,1031.9 1234.4,1031.9 1235.1,1031.9 1235.7,1031.9 1236.3,1031.9 1236.9,1031.9 1237.5,1031.9 1238.2,1031.9 1238.8,1031.9 1239.4,1031.9 1240.0,1031.9 1240.7,1031.9 1241.3,1031.9 1241.9,1031.9 1242.5,1031.9 1243.2,1031.9 1243.8,1031.9 1244.4,1031.9 1245.0,1031.9 1245.6,1031.9 1246.3,1031.9 1246.9,1031.9 1247.5,1031.9 1248.1,1031.9 1248.8,1031.9 1249.4,1031.9 1250.0,1031.9 1250.6,1031.9 1251.3,1031.9 1251.9,1031.9 1252.5,1031.9 1253.1,1031.9 1253.7,1031.9 1254.4,1031.9 1255.0,1031.9 1255.6,1031.9 1256.2,1031.9 1256.9,1031.9 1257.5,1031.9 1258.1,1031.9 1258.7,1031.9 1259.4,1031.9 1260.0,1031.9 1260.6,1031.9 1261.2,1031.9 1261.8,1031.9 1262.5,1031.9 1263.1,1031.9 1263.7,1031.9 1264.3,1031.9 1265.0,1031.9 1265.6,1031.9 1266.2,1031.9 1266.8,1031.9 1267.5,1031.9 1268.1,1031.9 1268.7,1031.9 1269.3,1031.9 1269.9,1031.9 1270.6,1031.9 1271.2,1031.9 1271.8,1031.9 1272.4,1031.9 1273.1,1031.9 1273.7,1031.9 1274.3,1031.9 1274.9,1031.9 1275.6,1031.9 1276.2,1031.9 1276.8,1031.9 1277.4,1031.9 1278.0,1031.9 1278.7,1031.9 1279.3,1031.9 1279.9,1031.9 1280.5,1031.9 1281.2,1031.9 1281.8,1031.9 1282.4,1031.9 1283.0,1031.9 1283.7,1031.9 1284.3,1031.9 1284.9,1031.9 1285.5,1031.9 1286.1,1031.9 1286.8,1031.9 1287.4,1031.9 1288.0,1031.9 1288.6,1031.9 1289.3,1031.9 1289.9,1031.9 1290.5,1031.9 1291.1,1031.9 1291.8,1031.9 1292.4,1031.9 1293.0,1031.9 1293.6,1031.9 1294.2,1031.9 1294.9,1031.9 1295.5,1031.9 1296.1,1031.9 1296.7,1031.9 1297.4,1031.9 1298.0,1031.9 1298.6,1031.9 1299.2,1031.9 1299.9,1031.9 1300.5,1031.9 1301.1,1031.9 1301.7,1031.9 1302.4,1031.9 1303.0,1031.9 1303.6,1031.9 1304.2,1031.9 1304.8,1031.9 1305.5,1031.9 1306.1,1031.9 1306.7,1031.9 1307.3,1031.9 1308.0,1031.9 1308.6,1031.9 1309.2,1031.9 1309.8,1031.9 1310.5,1031.9 1311.1,1031.9 1311.7,1031.9 1312.3,1031.9 1312.9,1031.9 1313.6,1031.9 1314.2,1031.9 1314.8,1031.9 1315.4,1031.9 1316.1,1031.9 1316.7,1031.9 1317.3,1031.9 1317.9,1031.9 1318.6,1031.9 1319.2,1031.9 1319.8,1031.9 1320.4,1031.9 1321.0,1031.9 1321.7,1031.9 1322.3,1031.9 1322.9,1031.9 1323.5,1031.9 1324.2,1031.9 1324.8,1031.9 1325.4,1031.9 1326.0,1031.9 1326.7,1031.9 1327.3,1031.9 1327.9,1031.9 1328.5,1031.9 1329.1,1031.9 1329.8,1031.9 1330.4,1031.9 1331.0,1031.9 1331.6,1031.9 1332.3,1031.9 1332.9,1031.9 1333.5,1031.9 1334.1,1031.9 1334.8,1031.9 1335.4,1031.9 1336.0,1031.9 1336.6,1031.9 1337.2,1031.9 1337.9,1031.9 1338.5,1031.9 1339.1,1031.9 1339.7,1031.9 1340.4,1031.9 1341.0,1031.9 1341.6,1031.9 1342.2,1031.9 1342.9,1031.9 1343.5,1031.9 1344.1,1031.9 1344.7,1031.9 1345.3,1031.9 1346.0,1031.9 1346.6,1031.9 1347.2,1031.9 1347.8,1031.9 1348.5,1031.9 1349.1,1031.9 1349.7,1031.9 1350.3,1031.9 1351.0,1031.9 1351.6,1031.9 1352.2,1031.9 1352.8,1031.9 1353.4,1031.9 1354.1,1031.9 1354.7,1031.9 1355.3,1031.9 1355.9,1031.9 1356.6,1031.9 1357.2,1031.9 1357.8,1031.9 1358.4,1031.9 1359.1,1031.9 1359.7,1031.9 1360.3,1031.9 1360.9,1031.9 1361.5,1031.9 1362.2,1031.9 1362.8,1031.9 1363.4,1031.9 1364.0,1031.9 1364.7,1031.9 1365.3,1031.9 1365.9,1031.9 1366.5,1031.9 1367.2,1031.9 1367.8,1031.9 1368.4,1031.9 1369.0,1031.9 1369.7,1031.9 1370.3,1031.9 1370.9,1031.9 1371.5,1031.9 1372.1,1031.9 1372.8,1031.9 1373.4,1031.9 1374.0,1031.9 1374.6,1031.9 1375.3,1031.9 1375.9,1031.9 1376.5,1031.9 1377.1,1031.9 1377.8,1031.9 1378.4,1031.9 1379.0,1031.9 1379.6,1031.9 1380.2,1031.9 1380.9,1031.9 1381.5,1031.9 1382.1,1031.9 1382.7,1031.9 1383.4,1031.9 1384.0,1031.9 1384.6,1031.9 1385.2,1031.9 1385.9,1031.9 1386.5,1031.9 1387.1,1031.9 1387.7,1031.9 1388.3,1031.9 1389.0,1031.9 1389.6,1031.9 1390.2,1031.9 1390.8,1031.9 1391.5,1031.9 1392.1,1031.9 1392.7,1031.9 1393.3,1031.9 1394.0,1031.9 1394.6,1031.9 1395.2,1031.9 1395.8,1031.9 1396.4,1031.9 1397.1,1031.9 1397.7,1031.9 1398.3,1031.9 1398.9,1031.9 1399.6,1031.9 1400.2,1031.9 1400.8,1031.9 1401.4,1031.9 1402.1,1031.8 1402.7,1031.8 1403.3,1031.7 1403.9,1031.5 1404.5,1031.2 1405.2,1030.9 1405.8,1030.6 1406.4,1030.2 1407.0,1029.9 1407.7,1029.7 1408.3,1029.6 1408.9,1029.8 1409.5,1030.1 1410.2,1030.4 1410.8,1030.8 1411.4,1031.1 1412.0,1031.4 1412.6,1031.6 1413.3,1031.7 1413.9,1031.8 1414.5,1031.9 1415.1,1031.9 1415.8,1031.9 1416.4,1031.9 1417.0,1031.9 1417.6,1031.9 1418.3,1031.9 1418.9,1031.9 1419.5,1031.9 1420.1,1031.9 1420.7,1031.9 1421.4,1031.9 1422.0,1031.9 1422.6,1031.9 1423.2,1031.9 1423.9,1031.9 1424.5,1031.9 1425.1,1031.9 1425.7,1031.9 1426.4,1031.9 1427.0,1031.9 1427.6,1031.9 1428.2,1031.9 1428.8,1031.9 1429.5,1031.9 1430.1,1031.9 1430.7,1031.9 1431.3,1031.9 1432.0,1031.9 1432.6,1031.9 1433.2,1031.9 1433.8,1031.9 1434.5,1031.9 1435.1,1031.9 1435.7,1031.9 1436.3,1031.9 1437.0,1031.9 1437.6,1031.9 1438.2,1031.9 1438.8,1031.9 1439.4,1031.9 1440.1,1031.9 1440.7,1031.9 1441.3,1031.9 1441.9,1031.9 1442.6,1031.9 1443.2,1031.9 1443.8,1031.9 1444.4,1031.9 1445.1,1031.9 1445.7,1031.9 1446.3,1031.9 1446.9,1031.9 1447.5,1031.9 1448.2,1031.9 1448.8,1031.9 1449.4,1031.9 1450.0,1031.9 1450.7,1031.9 1451.3,1031.9 1451.9,1031.9 1452.5,1031.9 1453.2,1031.9 1453.8,1031.9 1454.4,1031.9 1455.0,1031.9 1455.6,1031.9 1456.3,1031.9 1456.9,1031.9 1457.5,1031.9 1458.1,1031.9 1458.8,1031.9 1459.4,1031.9 1460.0,1031.9 1460.6,1031.9 1461.3,1031.9 1461.9,1031.9" fill="none" stroke="#ff7f0e" stroke-width="2.1" stroke-linejoin="round"/></g><g font-family="DejaVu Sans, Liberation Sans, sans-serif" font-weight="bold" fill="#000"><g stroke="#000" stroke-width="1.1" fill="none"><rect x="116.5" y="38.5" width="1346.0" height="480.0"/><path d="M116.50 518.5v5.2"/><path d="M284.75 518.5v5.2"/><path d="M453.00 518.5v5.2"/><path d="M621.25 518.5v5.2"/><path d="M789.50 518.5v5.2"/><path d="M957.75 518.5v5.2"/><path d="M1126.00 518.5v5.2"/><path d="M1294.25 518.5v5.2"/><path d="M116.5 460.50h-5.2"/><path d="M116.5 372.45h-5.2"/><path d="M116.5 284.40h-5.2"/><path d="M116.5 196.35h-5.2"/><path d="M116.5 108.30h-5.2"/></g><text transform="translate(105.20,468.20) scale(1.0370,1)" font-size="20.8" text-anchor="end">−2</text><text transform="translate(105.20,380.15) scale(1.0370,1)" font-size="20.8" text-anchor="end">−1</text><text transform="translate(105.20,292.10) scale(1.0370,1)" font-size="20.8" text-anchor="end">0</text><text transform="translate(105.20,204.05) scale(1.0370,1)" font-size="20.8" text-anchor="end">1</text><text transform="translate(105.20,116.00) scale(1.0370,1)" font-size="20.8" text-anchor="end">2</text><g stroke="#000" stroke-width="1.1" fill="none"><rect x="116.5" y="575.5" width="1346.0" height="478.8"/><path d="M116.50 1054.3v5.2"/><path d="M284.75 1054.3v5.2"/><path d="M453.00 1054.3v5.2"/><path d="M621.25 1054.3v5.2"/><path d="M789.50 1054.3v5.2"/><path d="M957.75 1054.3v5.2"/><path d="M1126.00 1054.3v5.2"/><path d="M1294.25 1054.3v5.2"/><path d="M116.5 1033.30h-5.2"/><path d="M116.5 976.94h-5.2"/><path d="M116.5 920.58h-5.2"/><path d="M116.5 864.22h-5.2"/><path d="M116.5 807.86h-5.2"/><path d="M116.5 751.50h-5.2"/><path d="M116.5 695.14h-5.2"/><path d="M116.5 638.78h-5.2"/><path d="M116.5 582.42h-5.2"/></g><text transform="translate(105.20,1041.00) scale(1.0370,1)" font-size="20.8" text-anchor="end">0.0</text><text transform="translate(105.20,984.64) scale(1.0370,1)" font-size="20.8" text-anchor="end">0.1</text><text transform="translate(105.20,928.28) scale(1.0370,1)" font-size="20.8" text-anchor="end">0.2</text><text transform="translate(105.20,871.92) scale(1.0370,1)" font-size="20.8" text-anchor="end">0.3</text><text transform="translate(105.20,815.56) scale(1.0370,1)" font-size="20.8" text-anchor="end">0.4</text><text transform="translate(105.20,759.20) scale(1.0370,1)" font-size="20.8" text-anchor="end">0.5</text><text transform="translate(105.20,702.84) scale(1.0370,1)" font-size="20.8" text-anchor="end">0.6</text><text transform="translate(105.20,646.48) scale(1.0370,1)" font-size="20.8" text-anchor="end">0.7</text><text transform="translate(105.20,590.12) scale(1.0370,1)" font-size="20.8" text-anchor="end">0.8</text><text transform="translate(114.10,1078.20) rotate(-30) scale(1.0690,1)" font-size="20.8" text-anchor="end">06-14 00</text><text transform="translate(282.35,1078.20) rotate(-30) scale(1.0690,1)" font-size="20.8" text-anchor="end">06-14 03</text><text transform="translate(450.60,1078.20) rotate(-30) scale(1.0690,1)" font-size="20.8" text-anchor="end">06-14 06</text><text transform="translate(618.85,1078.20) rotate(-30) scale(1.0690,1)" font-size="20.8" text-anchor="end">06-14 09</text><text transform="translate(787.10,1078.20) rotate(-30) scale(1.0690,1)" font-size="20.8" text-anchor="end">06-14 12</text><text transform="translate(955.35,1078.20) rotate(-30) scale(1.0690,1)" font-size="20.8" text-anchor="end">06-14 15</text><text transform="translate(1123.60,1078.20) rotate(-30) scale(1.0690,1)" font-size="20.8" text-anchor="end">06-14 18</text><text transform="translate(1291.85,1078.20) rotate(-30) scale(1.0690,1)" font-size="20.8" text-anchor="end">06-14 21</text><text transform="translate(784.10,29.50) scale(1.0107,1)" font-size="26.4" text-anchor="middle">2.5 MHz N0000003</text><text transform="translate(116.00,29.50) scale(1.0107,1)" font-size="26.4" text-anchor="start">(a)</text><text transform="translate(116.00,566.50) scale(1.0107,1)" font-size="26.4" text-anchor="start">(b)</text><text transform="translate(789.20,1157.50) scale(1.0450,1)" font-size="21.3" text-anchor="middle">UTC</text><text transform="translate(61.00,278.30) rotate(-90) scale(1.0140,1)" font-size="22" text-anchor="middle">Doppler Shift [Hz]</text><text transform="translate(56.00,816.00) rotate(-90) scale(1.0140,1)" font-size="22" text-anchor="middle">Peak Voltage [V]</text><rect x="1047.3" y="48.5" width="406.1" height="79.4" rx="3.5" fill="#fff" fill-opacity="0.8" stroke="#ccc" stroke-opacity="0.8" stroke-width="1.3"/><circle cx="1073.5" cy="63.5" r="2.9" fill="#1f77b4"/><path d="M1053.3 101.5H1091.9" stroke="#ff7f0e" stroke-width="2.1"/><text transform="translate(1105.40,68.90) scale(1.0800,1)" font-size="17.2" text-anchor="start">Raw Data</text><text transform="translate(1105.40,95.80) scale(1.0800,1)" font-size="17.2" text-anchor="start">Butterworth Filtered Data</text><text transform="translate(1105.20,116.70) scale(1.0800,1)" font-size="17.2" text-anchor="start">(N=6, Tc=3.3333 min, Type: low)</text><rect x="1047.3" y="584.7" width="406.1" height="80.3" rx="3.5" fill="#fff" fill-opacity="0.8" stroke="#ccc" stroke-opacity="0.8" stroke-width="1.3"/><circle cx="1073.5" cy="600.4" r="2.9" fill="#1f77b4"/><path d="M1053.3 638.4H1091.9" stroke="#ff7f0e" stroke-width="2.1"/><text transform="translate(1105.40,605.80) scale(1.0800,1)" font-size="17.2" text-anchor="start">Raw Data</text><text transform="translate(1105.40,632.70) scale(1.0800,1)" font-size="17.2" text-anchor="start">Butterworth Filtered Data</text><text transform="translate(1105.20,653.60) scale(1.0800,1)" font-size="17.2" text-anchor="start">(N=6, Tc=3.3333 min, Type: low)</text></g></svg></body></html>
